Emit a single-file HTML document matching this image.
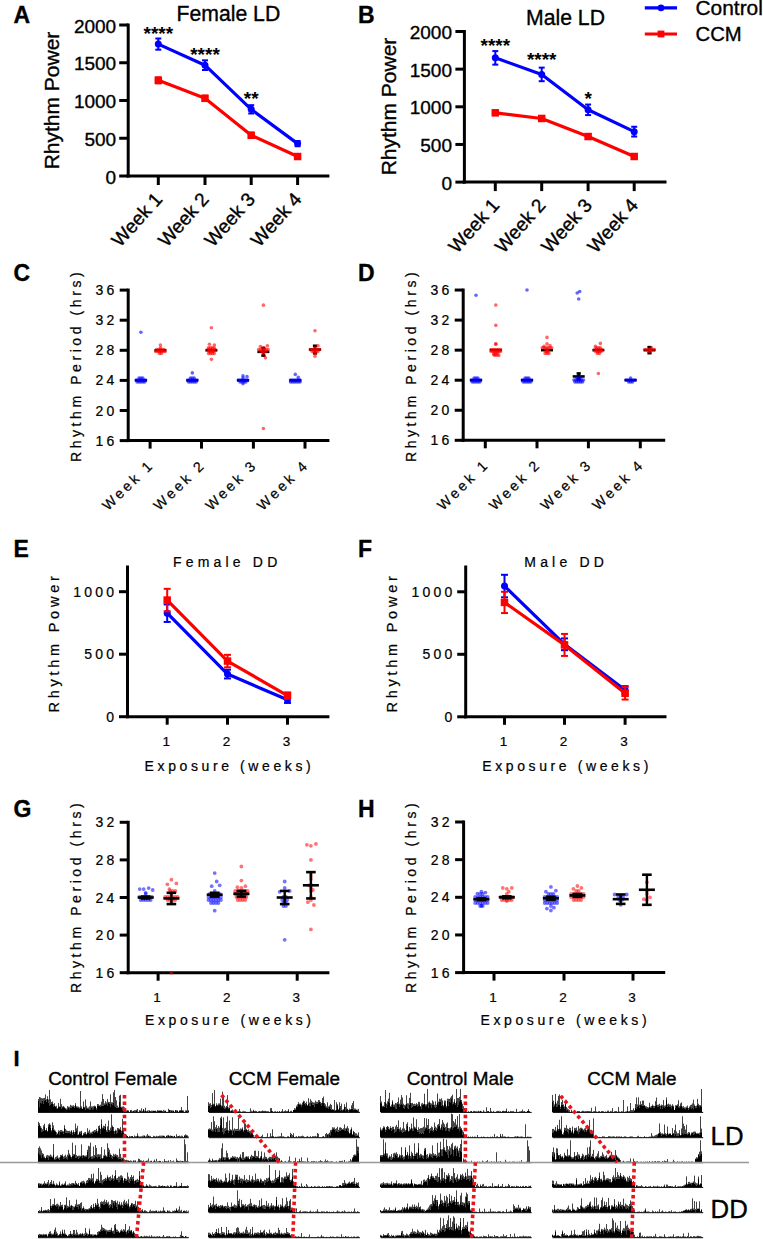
<!DOCTYPE html>
<html><head><meta charset="utf-8"><style>
html,body{margin:0;padding:0;background:#fff;}
body{width:763px;height:1239px;overflow:hidden;}
svg{display:block;font-family:"Liberation Sans", sans-serif;}
text{stroke:#000;stroke-width:0.35px;}
</style></head><body>
<svg width="763" height="1239" viewBox="0 0 763 1239">
<text x="13.50" y="22.50" font-size="23" text-anchor="start" font-weight="bold" fill="#000">A</text>
<text x="228.40" y="21.40" font-size="21.2" text-anchor="middle" font-weight="normal" fill="#000">Female LD</text>
<line x1="128.20" y1="23.50" x2="128.20" y2="177.50" stroke="#000" stroke-width="3" stroke-linecap="butt" />
<line x1="126.70" y1="176.00" x2="329.40" y2="176.00" stroke="#000" stroke-width="3" stroke-linecap="butt" />
<line x1="119.20" y1="176.00" x2="128.20" y2="176.00" stroke="#000" stroke-width="3" stroke-linecap="butt" />
<text x="116.20" y="183.60" font-size="19" text-anchor="end" font-weight="normal" fill="#000">0</text>
<line x1="119.20" y1="138.25" x2="128.20" y2="138.25" stroke="#000" stroke-width="3" stroke-linecap="butt" />
<text x="116.20" y="145.85" font-size="19" text-anchor="end" font-weight="normal" fill="#000">500</text>
<line x1="119.20" y1="100.50" x2="128.20" y2="100.50" stroke="#000" stroke-width="3" stroke-linecap="butt" />
<text x="116.20" y="108.10" font-size="19" text-anchor="end" font-weight="normal" fill="#000">1000</text>
<line x1="119.20" y1="62.75" x2="128.20" y2="62.75" stroke="#000" stroke-width="3" stroke-linecap="butt" />
<text x="116.20" y="70.35" font-size="19" text-anchor="end" font-weight="normal" fill="#000">1500</text>
<line x1="119.20" y1="25.00" x2="128.20" y2="25.00" stroke="#000" stroke-width="3" stroke-linecap="butt" />
<text x="116.20" y="32.60" font-size="19" text-anchor="end" font-weight="normal" fill="#000">2000</text>
<line x1="158.30" y1="176.00" x2="158.30" y2="185.00" stroke="#000" stroke-width="3" stroke-linecap="butt" />
<line x1="205.00" y1="176.00" x2="205.00" y2="185.00" stroke="#000" stroke-width="3" stroke-linecap="butt" />
<line x1="251.20" y1="176.00" x2="251.20" y2="185.00" stroke="#000" stroke-width="3" stroke-linecap="butt" />
<line x1="297.60" y1="176.00" x2="297.60" y2="185.00" stroke="#000" stroke-width="3" stroke-linecap="butt" />
<text x="0.00" y="0.00" font-size="19.2" text-anchor="end" font-weight="normal" fill="#000" transform="translate(163.30,200.00) rotate(-48)">Week 1</text>
<text x="0.00" y="0.00" font-size="19.2" text-anchor="end" font-weight="normal" fill="#000" transform="translate(210.00,200.00) rotate(-48)">Week 2</text>
<text x="0.00" y="0.00" font-size="19.2" text-anchor="end" font-weight="normal" fill="#000" transform="translate(256.20,200.00) rotate(-48)">Week 3</text>
<text x="0.00" y="0.00" font-size="19.2" text-anchor="end" font-weight="normal" fill="#000" transform="translate(302.60,200.00) rotate(-48)">Week 4</text>
<text x="0.00" y="0.00" font-size="21" text-anchor="middle" font-weight="normal" fill="#000" transform="translate(59.10,100.50) rotate(-90)">Rhythm Power</text>
<polyline points="158.30,80.34 205.00,98.31 251.20,135.31 297.60,156.52" fill="none" stroke="#ff0000" stroke-width="3.2" stroke-linejoin="round"/>
<line x1="158.30" y1="77.32" x2="158.30" y2="83.36" stroke="#ff0000" stroke-width="2.0" stroke-linecap="butt" />
<line x1="155.30" y1="77.32" x2="161.30" y2="77.32" stroke="#ff0000" stroke-width="2.0" stroke-linecap="butt" />
<line x1="155.30" y1="83.36" x2="161.30" y2="83.36" stroke="#ff0000" stroke-width="2.0" stroke-linecap="butt" />
<rect x="154.55" y="76.59" width="7.5" height="7.5" fill="#ff0000"/>
<line x1="205.00" y1="95.67" x2="205.00" y2="100.95" stroke="#ff0000" stroke-width="2.0" stroke-linecap="butt" />
<line x1="202.00" y1="95.67" x2="208.00" y2="95.67" stroke="#ff0000" stroke-width="2.0" stroke-linecap="butt" />
<line x1="202.00" y1="100.95" x2="208.00" y2="100.95" stroke="#ff0000" stroke-width="2.0" stroke-linecap="butt" />
<rect x="201.25" y="94.56" width="7.5" height="7.5" fill="#ff0000"/>
<line x1="251.20" y1="132.66" x2="251.20" y2="137.95" stroke="#ff0000" stroke-width="2.0" stroke-linecap="butt" />
<line x1="248.20" y1="132.66" x2="254.20" y2="132.66" stroke="#ff0000" stroke-width="2.0" stroke-linecap="butt" />
<line x1="248.20" y1="137.95" x2="254.20" y2="137.95" stroke="#ff0000" stroke-width="2.0" stroke-linecap="butt" />
<rect x="247.45" y="131.56" width="7.5" height="7.5" fill="#ff0000"/>
<line x1="297.60" y1="154.26" x2="297.60" y2="158.79" stroke="#ff0000" stroke-width="2.0" stroke-linecap="butt" />
<line x1="294.60" y1="154.26" x2="300.60" y2="154.26" stroke="#ff0000" stroke-width="2.0" stroke-linecap="butt" />
<line x1="294.60" y1="158.79" x2="300.60" y2="158.79" stroke="#ff0000" stroke-width="2.0" stroke-linecap="butt" />
<rect x="293.85" y="152.77" width="7.5" height="7.5" fill="#ff0000"/>
<polyline points="158.30,44.10 205.00,65.17 251.20,109.33 297.60,143.61" fill="none" stroke="#0000ff" stroke-width="3.2" stroke-linejoin="round"/>
<line x1="158.30" y1="38.51" x2="158.30" y2="49.69" stroke="#0000ff" stroke-width="2.0" stroke-linecap="butt" />
<line x1="155.30" y1="38.51" x2="161.30" y2="38.51" stroke="#0000ff" stroke-width="2.0" stroke-linecap="butt" />
<line x1="155.30" y1="49.69" x2="161.30" y2="49.69" stroke="#0000ff" stroke-width="2.0" stroke-linecap="butt" />
<circle cx="158.30" cy="44.10" r="3.5" fill="#0000ff"/>
<line x1="205.00" y1="60.33" x2="205.00" y2="70.00" stroke="#0000ff" stroke-width="2.0" stroke-linecap="butt" />
<line x1="202.00" y1="60.33" x2="208.00" y2="60.33" stroke="#0000ff" stroke-width="2.0" stroke-linecap="butt" />
<line x1="202.00" y1="70.00" x2="208.00" y2="70.00" stroke="#0000ff" stroke-width="2.0" stroke-linecap="butt" />
<circle cx="205.00" cy="65.17" r="3.5" fill="#0000ff"/>
<line x1="251.20" y1="105.18" x2="251.20" y2="113.49" stroke="#0000ff" stroke-width="2.0" stroke-linecap="butt" />
<line x1="248.20" y1="105.18" x2="254.20" y2="105.18" stroke="#0000ff" stroke-width="2.0" stroke-linecap="butt" />
<line x1="248.20" y1="113.49" x2="254.20" y2="113.49" stroke="#0000ff" stroke-width="2.0" stroke-linecap="butt" />
<circle cx="251.20" cy="109.33" r="3.5" fill="#0000ff"/>
<line x1="297.60" y1="140.97" x2="297.60" y2="146.25" stroke="#0000ff" stroke-width="2.0" stroke-linecap="butt" />
<line x1="294.60" y1="140.97" x2="300.60" y2="140.97" stroke="#0000ff" stroke-width="2.0" stroke-linecap="butt" />
<line x1="294.60" y1="146.25" x2="300.60" y2="146.25" stroke="#0000ff" stroke-width="2.0" stroke-linecap="butt" />
<circle cx="297.60" cy="143.61" r="3.5" fill="#0000ff"/>
<text x="158.30" y="39.50" font-size="19" text-anchor="middle" font-weight="bold" fill="#000" style="stroke-width:0px">****</text>
<text x="205.00" y="61.00" font-size="19" text-anchor="middle" font-weight="bold" fill="#000" style="stroke-width:0px">****</text>
<text x="251.20" y="104.50" font-size="19" text-anchor="middle" font-weight="bold" fill="#000" style="stroke-width:0px">**</text>
<text x="358.00" y="22.50" font-size="23" text-anchor="start" font-weight="bold" fill="#000">B</text>
<text x="565.50" y="25.20" font-size="21.2" text-anchor="middle" font-weight="normal" fill="#000">Male LD</text>
<line x1="464.40" y1="30.00" x2="464.40" y2="183.60" stroke="#000" stroke-width="3" stroke-linecap="butt" />
<line x1="462.90" y1="182.10" x2="666.50" y2="182.10" stroke="#000" stroke-width="3" stroke-linecap="butt" />
<line x1="455.40" y1="182.10" x2="464.40" y2="182.10" stroke="#000" stroke-width="3" stroke-linecap="butt" />
<text x="452.00" y="189.70" font-size="19" text-anchor="end" font-weight="normal" fill="#000">0</text>
<line x1="455.40" y1="144.45" x2="464.40" y2="144.45" stroke="#000" stroke-width="3" stroke-linecap="butt" />
<text x="452.00" y="152.05" font-size="19" text-anchor="end" font-weight="normal" fill="#000">500</text>
<line x1="455.40" y1="106.80" x2="464.40" y2="106.80" stroke="#000" stroke-width="3" stroke-linecap="butt" />
<text x="452.00" y="114.40" font-size="19" text-anchor="end" font-weight="normal" fill="#000">1000</text>
<line x1="455.40" y1="69.15" x2="464.40" y2="69.15" stroke="#000" stroke-width="3" stroke-linecap="butt" />
<text x="452.00" y="76.75" font-size="19" text-anchor="end" font-weight="normal" fill="#000">1500</text>
<line x1="455.40" y1="31.50" x2="464.40" y2="31.50" stroke="#000" stroke-width="3" stroke-linecap="butt" />
<text x="452.00" y="39.10" font-size="19" text-anchor="end" font-weight="normal" fill="#000">2000</text>
<line x1="495.30" y1="182.10" x2="495.30" y2="191.10" stroke="#000" stroke-width="3" stroke-linecap="butt" />
<line x1="541.70" y1="182.10" x2="541.70" y2="191.10" stroke="#000" stroke-width="3" stroke-linecap="butt" />
<line x1="588.10" y1="182.10" x2="588.10" y2="191.10" stroke="#000" stroke-width="3" stroke-linecap="butt" />
<line x1="634.20" y1="182.10" x2="634.20" y2="191.10" stroke="#000" stroke-width="3" stroke-linecap="butt" />
<text x="0.00" y="0.00" font-size="19.2" text-anchor="end" font-weight="normal" fill="#000" transform="translate(500.30,206.10) rotate(-48)">Week 1</text>
<text x="0.00" y="0.00" font-size="19.2" text-anchor="end" font-weight="normal" fill="#000" transform="translate(546.70,206.10) rotate(-48)">Week 2</text>
<text x="0.00" y="0.00" font-size="19.2" text-anchor="end" font-weight="normal" fill="#000" transform="translate(593.10,206.10) rotate(-48)">Week 3</text>
<text x="0.00" y="0.00" font-size="19.2" text-anchor="end" font-weight="normal" fill="#000" transform="translate(639.20,206.10) rotate(-48)">Week 4</text>
<text x="0.00" y="0.00" font-size="21" text-anchor="middle" font-weight="normal" fill="#000" transform="translate(396.00,106.50) rotate(-90)">Rhythm Power</text>
<polyline points="495.30,112.82 541.70,118.47 588.10,136.54 634.20,156.50" fill="none" stroke="#ff0000" stroke-width="3.2" stroke-linejoin="round"/>
<line x1="495.30" y1="110.56" x2="495.30" y2="115.08" stroke="#ff0000" stroke-width="2.0" stroke-linecap="butt" />
<line x1="492.30" y1="110.56" x2="498.30" y2="110.56" stroke="#ff0000" stroke-width="2.0" stroke-linecap="butt" />
<line x1="492.30" y1="115.08" x2="498.30" y2="115.08" stroke="#ff0000" stroke-width="2.0" stroke-linecap="butt" />
<rect x="491.55" y="109.07" width="7.5" height="7.5" fill="#ff0000"/>
<line x1="541.70" y1="116.21" x2="541.70" y2="120.73" stroke="#ff0000" stroke-width="2.0" stroke-linecap="butt" />
<line x1="538.70" y1="116.21" x2="544.70" y2="116.21" stroke="#ff0000" stroke-width="2.0" stroke-linecap="butt" />
<line x1="538.70" y1="120.73" x2="544.70" y2="120.73" stroke="#ff0000" stroke-width="2.0" stroke-linecap="butt" />
<rect x="537.95" y="114.72" width="7.5" height="7.5" fill="#ff0000"/>
<line x1="588.10" y1="134.28" x2="588.10" y2="138.80" stroke="#ff0000" stroke-width="2.0" stroke-linecap="butt" />
<line x1="585.10" y1="134.28" x2="591.10" y2="134.28" stroke="#ff0000" stroke-width="2.0" stroke-linecap="butt" />
<line x1="585.10" y1="138.80" x2="591.10" y2="138.80" stroke="#ff0000" stroke-width="2.0" stroke-linecap="butt" />
<rect x="584.35" y="132.79" width="7.5" height="7.5" fill="#ff0000"/>
<line x1="634.20" y1="154.24" x2="634.20" y2="158.76" stroke="#ff0000" stroke-width="2.0" stroke-linecap="butt" />
<line x1="631.20" y1="154.24" x2="637.20" y2="154.24" stroke="#ff0000" stroke-width="2.0" stroke-linecap="butt" />
<line x1="631.20" y1="158.76" x2="637.20" y2="158.76" stroke="#ff0000" stroke-width="2.0" stroke-linecap="butt" />
<rect x="630.45" y="152.75" width="7.5" height="7.5" fill="#ff0000"/>
<polyline points="495.30,57.86 541.70,74.42 588.10,109.81 634.20,131.65" fill="none" stroke="#0000ff" stroke-width="3.2" stroke-linejoin="round"/>
<line x1="495.30" y1="51.08" x2="495.30" y2="64.63" stroke="#0000ff" stroke-width="2.0" stroke-linecap="butt" />
<line x1="492.30" y1="51.08" x2="498.30" y2="51.08" stroke="#0000ff" stroke-width="2.0" stroke-linecap="butt" />
<line x1="492.30" y1="64.63" x2="498.30" y2="64.63" stroke="#0000ff" stroke-width="2.0" stroke-linecap="butt" />
<circle cx="495.30" cy="57.86" r="3.5" fill="#0000ff"/>
<line x1="541.70" y1="67.64" x2="541.70" y2="81.20" stroke="#0000ff" stroke-width="2.0" stroke-linecap="butt" />
<line x1="538.70" y1="67.64" x2="544.70" y2="67.64" stroke="#0000ff" stroke-width="2.0" stroke-linecap="butt" />
<line x1="538.70" y1="81.20" x2="544.70" y2="81.20" stroke="#0000ff" stroke-width="2.0" stroke-linecap="butt" />
<circle cx="541.70" cy="74.42" r="3.5" fill="#0000ff"/>
<line x1="588.10" y1="104.54" x2="588.10" y2="115.08" stroke="#0000ff" stroke-width="2.0" stroke-linecap="butt" />
<line x1="585.10" y1="104.54" x2="591.10" y2="104.54" stroke="#0000ff" stroke-width="2.0" stroke-linecap="butt" />
<line x1="585.10" y1="115.08" x2="591.10" y2="115.08" stroke="#0000ff" stroke-width="2.0" stroke-linecap="butt" />
<circle cx="588.10" cy="109.81" r="3.5" fill="#0000ff"/>
<line x1="634.20" y1="126.75" x2="634.20" y2="136.54" stroke="#0000ff" stroke-width="2.0" stroke-linecap="butt" />
<line x1="631.20" y1="126.75" x2="637.20" y2="126.75" stroke="#0000ff" stroke-width="2.0" stroke-linecap="butt" />
<line x1="631.20" y1="136.54" x2="637.20" y2="136.54" stroke="#0000ff" stroke-width="2.0" stroke-linecap="butt" />
<circle cx="634.20" cy="131.65" r="3.5" fill="#0000ff"/>
<text x="495.30" y="52.00" font-size="19" text-anchor="middle" font-weight="bold" fill="#000" style="stroke-width:0px">****</text>
<text x="541.70" y="66.00" font-size="19" text-anchor="middle" font-weight="bold" fill="#000" style="stroke-width:0px">****</text>
<text x="588.10" y="105.00" font-size="19" text-anchor="middle" font-weight="bold" fill="#000" style="stroke-width:0px">*</text>
<line x1="644.80" y1="7.90" x2="677.00" y2="7.90" stroke="#0000ff" stroke-width="3.2" stroke-linecap="butt" />
<circle cx="661" cy="7.9" r="3.3" fill="#0000ff"/>
<text x="695.50" y="15.20" font-size="20.9" text-anchor="start" font-weight="normal" fill="#000">Control</text>
<line x1="644.80" y1="34.00" x2="677.00" y2="34.00" stroke="#ff0000" stroke-width="3.2" stroke-linecap="butt" />
<rect x="657.6" y="30.6" width="6.8" height="6.8" fill="#ff0000"/>
<text x="695.50" y="41.30" font-size="20.3" text-anchor="start" font-weight="normal" fill="#000">CCM</text>
<text x="13.50" y="281.00" font-size="23" text-anchor="start" font-weight="bold" fill="#000">C</text>
<line x1="128.20" y1="288.60" x2="128.20" y2="442.10" stroke="#000" stroke-width="3" stroke-linecap="butt" />
<line x1="126.70" y1="440.60" x2="329.40" y2="440.60" stroke="#000" stroke-width="3" stroke-linecap="butt" />
<line x1="119.70" y1="440.60" x2="128.20" y2="440.60" stroke="#000" stroke-width="3" stroke-linecap="butt" />
<text x="117.40" y="445.60" font-size="14" text-anchor="end" font-weight="normal" letter-spacing="3.2" fill="#000" style="stroke-width:0.22px">16</text>
<line x1="119.70" y1="410.50" x2="128.20" y2="410.50" stroke="#000" stroke-width="3" stroke-linecap="butt" />
<text x="117.40" y="415.50" font-size="14" text-anchor="end" font-weight="normal" letter-spacing="3.2" fill="#000" style="stroke-width:0.22px">20</text>
<line x1="119.70" y1="380.40" x2="128.20" y2="380.40" stroke="#000" stroke-width="3" stroke-linecap="butt" />
<text x="117.40" y="385.40" font-size="14" text-anchor="end" font-weight="normal" letter-spacing="3.2" fill="#000" style="stroke-width:0.22px">24</text>
<line x1="119.70" y1="350.30" x2="128.20" y2="350.30" stroke="#000" stroke-width="3" stroke-linecap="butt" />
<text x="117.40" y="355.30" font-size="14" text-anchor="end" font-weight="normal" letter-spacing="3.2" fill="#000" style="stroke-width:0.22px">28</text>
<line x1="119.70" y1="320.20" x2="128.20" y2="320.20" stroke="#000" stroke-width="3" stroke-linecap="butt" />
<text x="117.40" y="325.20" font-size="14" text-anchor="end" font-weight="normal" letter-spacing="3.2" fill="#000" style="stroke-width:0.22px">32</text>
<line x1="119.70" y1="290.10" x2="128.20" y2="290.10" stroke="#000" stroke-width="3" stroke-linecap="butt" />
<text x="117.40" y="295.10" font-size="14" text-anchor="end" font-weight="normal" letter-spacing="3.2" fill="#000" style="stroke-width:0.22px">36</text>
<line x1="150.10" y1="440.60" x2="150.10" y2="448.60" stroke="#000" stroke-width="3" stroke-linecap="butt" />
<line x1="201.50" y1="440.60" x2="201.50" y2="448.60" stroke="#000" stroke-width="3" stroke-linecap="butt" />
<line x1="253.40" y1="440.60" x2="253.40" y2="448.60" stroke="#000" stroke-width="3" stroke-linecap="butt" />
<line x1="305.00" y1="440.60" x2="305.00" y2="448.60" stroke="#000" stroke-width="3" stroke-linecap="butt" />
<text x="0.00" y="0.00" font-size="14" text-anchor="middle" font-weight="normal" letter-spacing="3.58" fill="#000" transform="translate(80.50,365.40) rotate(-90)" style="stroke-width:0.22px">Rhythm Period (hrs)</text>
<text x="0.00" y="0.00" font-size="14.3" text-anchor="end" font-weight="normal" letter-spacing="2.9" fill="#000" transform="translate(155.10,465.60) rotate(-44)" style="stroke-width:0.22px">Week 1</text>
<text x="0.00" y="0.00" font-size="14.3" text-anchor="end" font-weight="normal" letter-spacing="2.9" fill="#000" transform="translate(206.50,465.60) rotate(-44)" style="stroke-width:0.22px">Week 2</text>
<text x="0.00" y="0.00" font-size="14.3" text-anchor="end" font-weight="normal" letter-spacing="2.9" fill="#000" transform="translate(258.40,465.60) rotate(-44)" style="stroke-width:0.22px">Week 3</text>
<text x="0.00" y="0.00" font-size="14.3" text-anchor="end" font-weight="normal" letter-spacing="2.9" fill="#000" transform="translate(310.00,465.60) rotate(-44)" style="stroke-width:0.22px">Week 4</text>
<line x1="134.90" y1="380.40" x2="146.90" y2="380.40" stroke="#000" stroke-width="2.6" stroke-linecap="butt" />
<circle cx="137.10" cy="381.90" r="1.8" fill="#0000ff" fill-opacity="0.6"/>
<circle cx="139.00" cy="381.90" r="1.8" fill="#0000ff" fill-opacity="0.6"/>
<circle cx="140.90" cy="381.90" r="1.8" fill="#0000ff" fill-opacity="0.6"/>
<circle cx="142.80" cy="381.90" r="1.8" fill="#0000ff" fill-opacity="0.6"/>
<circle cx="144.70" cy="381.90" r="1.8" fill="#0000ff" fill-opacity="0.6"/>
<circle cx="136.15" cy="380.00" r="1.8" fill="#0000ff" fill-opacity="0.6"/>
<circle cx="138.05" cy="380.00" r="1.8" fill="#0000ff" fill-opacity="0.6"/>
<circle cx="139.95" cy="380.00" r="1.8" fill="#0000ff" fill-opacity="0.6"/>
<circle cx="141.85" cy="380.00" r="1.8" fill="#0000ff" fill-opacity="0.6"/>
<circle cx="143.75" cy="380.00" r="1.8" fill="#0000ff" fill-opacity="0.6"/>
<circle cx="145.65" cy="380.00" r="1.8" fill="#0000ff" fill-opacity="0.6"/>
<circle cx="139.00" cy="378.10" r="1.8" fill="#0000ff" fill-opacity="0.6"/>
<circle cx="140.90" cy="378.10" r="1.8" fill="#0000ff" fill-opacity="0.6"/>
<circle cx="142.80" cy="378.10" r="1.8" fill="#0000ff" fill-opacity="0.6"/>
<circle cx="140.90" cy="332.24" r="1.8" fill="#0000ff" fill-opacity="0.6"/>
<line x1="154.40" y1="350.30" x2="166.40" y2="350.30" stroke="#000" stroke-width="2.6" stroke-linecap="butt" />
<circle cx="155.65" cy="351.50" r="1.8" fill="#ff0000" fill-opacity="0.6"/>
<circle cx="157.55" cy="351.50" r="1.8" fill="#ff0000" fill-opacity="0.6"/>
<circle cx="159.45" cy="351.50" r="1.8" fill="#ff0000" fill-opacity="0.6"/>
<circle cx="161.35" cy="351.50" r="1.8" fill="#ff0000" fill-opacity="0.6"/>
<circle cx="163.25" cy="351.50" r="1.8" fill="#ff0000" fill-opacity="0.6"/>
<circle cx="165.15" cy="351.50" r="1.8" fill="#ff0000" fill-opacity="0.6"/>
<circle cx="156.60" cy="349.60" r="1.8" fill="#ff0000" fill-opacity="0.6"/>
<circle cx="158.50" cy="349.60" r="1.8" fill="#ff0000" fill-opacity="0.6"/>
<circle cx="160.40" cy="349.60" r="1.8" fill="#ff0000" fill-opacity="0.6"/>
<circle cx="162.30" cy="349.60" r="1.8" fill="#ff0000" fill-opacity="0.6"/>
<circle cx="164.20" cy="349.60" r="1.8" fill="#ff0000" fill-opacity="0.6"/>
<circle cx="160.40" cy="347.70" r="1.8" fill="#ff0000" fill-opacity="0.6"/>
<circle cx="159.45" cy="353.40" r="1.8" fill="#ff0000" fill-opacity="0.6"/>
<circle cx="161.35" cy="353.40" r="1.8" fill="#ff0000" fill-opacity="0.6"/>
<circle cx="160.40" cy="345.03" r="1.8" fill="#ff0000" fill-opacity="0.6"/>
<line x1="186.30" y1="380.40" x2="198.30" y2="380.40" stroke="#000" stroke-width="2.6" stroke-linecap="butt" />
<circle cx="187.55" cy="380.00" r="1.8" fill="#0000ff" fill-opacity="0.6"/>
<circle cx="189.45" cy="380.00" r="1.8" fill="#0000ff" fill-opacity="0.6"/>
<circle cx="191.35" cy="380.00" r="1.8" fill="#0000ff" fill-opacity="0.6"/>
<circle cx="193.25" cy="380.00" r="1.8" fill="#0000ff" fill-opacity="0.6"/>
<circle cx="195.15" cy="380.00" r="1.8" fill="#0000ff" fill-opacity="0.6"/>
<circle cx="197.05" cy="380.00" r="1.8" fill="#0000ff" fill-opacity="0.6"/>
<circle cx="190.40" cy="378.10" r="1.8" fill="#0000ff" fill-opacity="0.6"/>
<circle cx="192.30" cy="378.10" r="1.8" fill="#0000ff" fill-opacity="0.6"/>
<circle cx="194.20" cy="378.10" r="1.8" fill="#0000ff" fill-opacity="0.6"/>
<circle cx="188.50" cy="381.90" r="1.8" fill="#0000ff" fill-opacity="0.6"/>
<circle cx="190.40" cy="381.90" r="1.8" fill="#0000ff" fill-opacity="0.6"/>
<circle cx="192.30" cy="381.90" r="1.8" fill="#0000ff" fill-opacity="0.6"/>
<circle cx="194.20" cy="381.90" r="1.8" fill="#0000ff" fill-opacity="0.6"/>
<circle cx="196.10" cy="381.90" r="1.8" fill="#0000ff" fill-opacity="0.6"/>
<circle cx="192.30" cy="372.88" r="1.8" fill="#0000ff" fill-opacity="0.6"/>
<line x1="205.40" y1="350.30" x2="217.40" y2="350.30" stroke="#000" stroke-width="2.6" stroke-linecap="butt" />
<circle cx="208.55" cy="347.70" r="1.8" fill="#ff0000" fill-opacity="0.6"/>
<circle cx="210.45" cy="347.70" r="1.8" fill="#ff0000" fill-opacity="0.6"/>
<circle cx="212.35" cy="347.70" r="1.8" fill="#ff0000" fill-opacity="0.6"/>
<circle cx="214.25" cy="347.70" r="1.8" fill="#ff0000" fill-opacity="0.6"/>
<circle cx="208.55" cy="353.40" r="1.8" fill="#ff0000" fill-opacity="0.6"/>
<circle cx="210.45" cy="353.40" r="1.8" fill="#ff0000" fill-opacity="0.6"/>
<circle cx="212.35" cy="353.40" r="1.8" fill="#ff0000" fill-opacity="0.6"/>
<circle cx="214.25" cy="353.40" r="1.8" fill="#ff0000" fill-opacity="0.6"/>
<circle cx="207.60" cy="349.60" r="1.8" fill="#ff0000" fill-opacity="0.6"/>
<circle cx="209.50" cy="349.60" r="1.8" fill="#ff0000" fill-opacity="0.6"/>
<circle cx="211.40" cy="349.60" r="1.8" fill="#ff0000" fill-opacity="0.6"/>
<circle cx="213.30" cy="349.60" r="1.8" fill="#ff0000" fill-opacity="0.6"/>
<circle cx="215.20" cy="349.60" r="1.8" fill="#ff0000" fill-opacity="0.6"/>
<circle cx="209.50" cy="351.50" r="1.8" fill="#ff0000" fill-opacity="0.6"/>
<circle cx="211.40" cy="351.50" r="1.8" fill="#ff0000" fill-opacity="0.6"/>
<circle cx="213.30" cy="351.50" r="1.8" fill="#ff0000" fill-opacity="0.6"/>
<circle cx="211.40" cy="327.73" r="1.8" fill="#ff0000" fill-opacity="0.6"/>
<circle cx="211.40" cy="359.33" r="1.8" fill="#ff0000" fill-opacity="0.6"/>
<circle cx="209.40" cy="344.28" r="1.8" fill="#ff0000" fill-opacity="0.6"/>
<circle cx="214.40" cy="345.03" r="1.8" fill="#ff0000" fill-opacity="0.6"/>
<line x1="237.00" y1="380.40" x2="249.00" y2="380.40" stroke="#000" stroke-width="2.6" stroke-linecap="butt" />
<circle cx="238.25" cy="380.00" r="1.8" fill="#0000ff" fill-opacity="0.6"/>
<circle cx="240.15" cy="380.00" r="1.8" fill="#0000ff" fill-opacity="0.6"/>
<circle cx="242.05" cy="380.00" r="1.8" fill="#0000ff" fill-opacity="0.6"/>
<circle cx="243.95" cy="380.00" r="1.8" fill="#0000ff" fill-opacity="0.6"/>
<circle cx="245.85" cy="380.00" r="1.8" fill="#0000ff" fill-opacity="0.6"/>
<circle cx="247.75" cy="380.00" r="1.8" fill="#0000ff" fill-opacity="0.6"/>
<circle cx="240.15" cy="381.90" r="1.8" fill="#0000ff" fill-opacity="0.6"/>
<circle cx="242.05" cy="381.90" r="1.8" fill="#0000ff" fill-opacity="0.6"/>
<circle cx="243.95" cy="381.90" r="1.8" fill="#0000ff" fill-opacity="0.6"/>
<circle cx="245.85" cy="381.90" r="1.8" fill="#0000ff" fill-opacity="0.6"/>
<circle cx="243.00" cy="378.10" r="1.8" fill="#0000ff" fill-opacity="0.6"/>
<circle cx="243.00" cy="383.80" r="1.8" fill="#0000ff" fill-opacity="0.6"/>
<circle cx="243.00" cy="375.88" r="1.8" fill="#0000ff" fill-opacity="0.6"/>
<circle cx="247.00" cy="376.64" r="1.8" fill="#0000ff" fill-opacity="0.6"/>
<line x1="263.40" y1="348.04" x2="263.40" y2="355.57" stroke="#000" stroke-width="2.4" stroke-linecap="butt" />
<line x1="261.30" y1="348.04" x2="265.50" y2="348.04" stroke="#000" stroke-width="2.6" stroke-linecap="butt" />
<line x1="261.30" y1="355.57" x2="265.50" y2="355.57" stroke="#000" stroke-width="2.6" stroke-linecap="butt" />
<line x1="257.40" y1="351.81" x2="269.40" y2="351.81" stroke="#000" stroke-width="2.6" stroke-linecap="butt" />
<circle cx="260.55" cy="351.50" r="1.8" fill="#ff0000" fill-opacity="0.6"/>
<circle cx="262.45" cy="351.50" r="1.8" fill="#ff0000" fill-opacity="0.6"/>
<circle cx="264.35" cy="351.50" r="1.8" fill="#ff0000" fill-opacity="0.6"/>
<circle cx="266.25" cy="351.50" r="1.8" fill="#ff0000" fill-opacity="0.6"/>
<circle cx="258.65" cy="349.60" r="1.8" fill="#ff0000" fill-opacity="0.6"/>
<circle cx="260.55" cy="349.60" r="1.8" fill="#ff0000" fill-opacity="0.6"/>
<circle cx="262.45" cy="349.60" r="1.8" fill="#ff0000" fill-opacity="0.6"/>
<circle cx="264.35" cy="349.60" r="1.8" fill="#ff0000" fill-opacity="0.6"/>
<circle cx="266.25" cy="349.60" r="1.8" fill="#ff0000" fill-opacity="0.6"/>
<circle cx="268.15" cy="349.60" r="1.8" fill="#ff0000" fill-opacity="0.6"/>
<circle cx="263.40" cy="353.40" r="1.8" fill="#ff0000" fill-opacity="0.6"/>
<circle cx="263.40" cy="347.70" r="1.8" fill="#ff0000" fill-opacity="0.6"/>
<circle cx="263.40" cy="305.15" r="1.8" fill="#ff0000" fill-opacity="0.6"/>
<circle cx="265.40" cy="357.83" r="1.8" fill="#ff0000" fill-opacity="0.6"/>
<circle cx="263.40" cy="428.56" r="1.8" fill="#ff0000" fill-opacity="0.6"/>
<circle cx="267.40" cy="345.79" r="1.8" fill="#ff0000" fill-opacity="0.6"/>
<circle cx="260.40" cy="346.54" r="1.8" fill="#ff0000" fill-opacity="0.6"/>
<line x1="289.30" y1="380.40" x2="301.30" y2="380.40" stroke="#000" stroke-width="2.6" stroke-linecap="butt" />
<circle cx="290.55" cy="381.90" r="1.8" fill="#0000ff" fill-opacity="0.6"/>
<circle cx="292.45" cy="381.90" r="1.8" fill="#0000ff" fill-opacity="0.6"/>
<circle cx="294.35" cy="381.90" r="1.8" fill="#0000ff" fill-opacity="0.6"/>
<circle cx="296.25" cy="381.90" r="1.8" fill="#0000ff" fill-opacity="0.6"/>
<circle cx="298.15" cy="381.90" r="1.8" fill="#0000ff" fill-opacity="0.6"/>
<circle cx="300.05" cy="381.90" r="1.8" fill="#0000ff" fill-opacity="0.6"/>
<circle cx="290.55" cy="380.00" r="1.8" fill="#0000ff" fill-opacity="0.6"/>
<circle cx="292.45" cy="380.00" r="1.8" fill="#0000ff" fill-opacity="0.6"/>
<circle cx="294.35" cy="380.00" r="1.8" fill="#0000ff" fill-opacity="0.6"/>
<circle cx="296.25" cy="380.00" r="1.8" fill="#0000ff" fill-opacity="0.6"/>
<circle cx="298.15" cy="380.00" r="1.8" fill="#0000ff" fill-opacity="0.6"/>
<circle cx="300.05" cy="380.00" r="1.8" fill="#0000ff" fill-opacity="0.6"/>
<circle cx="295.30" cy="374.38" r="1.8" fill="#0000ff" fill-opacity="0.6"/>
<circle cx="298.30" cy="377.39" r="1.8" fill="#0000ff" fill-opacity="0.6"/>
<line x1="315.00" y1="345.79" x2="315.00" y2="353.31" stroke="#000" stroke-width="2.4" stroke-linecap="butt" />
<line x1="312.90" y1="345.79" x2="317.10" y2="345.79" stroke="#000" stroke-width="2.6" stroke-linecap="butt" />
<line x1="312.90" y1="353.31" x2="317.10" y2="353.31" stroke="#000" stroke-width="2.6" stroke-linecap="butt" />
<line x1="309.00" y1="349.55" x2="321.00" y2="349.55" stroke="#000" stroke-width="2.6" stroke-linecap="butt" />
<circle cx="310.25" cy="349.60" r="1.8" fill="#ff0000" fill-opacity="0.6"/>
<circle cx="312.15" cy="349.60" r="1.8" fill="#ff0000" fill-opacity="0.6"/>
<circle cx="314.05" cy="349.60" r="1.8" fill="#ff0000" fill-opacity="0.6"/>
<circle cx="315.95" cy="349.60" r="1.8" fill="#ff0000" fill-opacity="0.6"/>
<circle cx="317.85" cy="349.60" r="1.8" fill="#ff0000" fill-opacity="0.6"/>
<circle cx="319.75" cy="349.60" r="1.8" fill="#ff0000" fill-opacity="0.6"/>
<circle cx="315.00" cy="347.70" r="1.8" fill="#ff0000" fill-opacity="0.6"/>
<circle cx="312.15" cy="351.50" r="1.8" fill="#ff0000" fill-opacity="0.6"/>
<circle cx="314.05" cy="351.50" r="1.8" fill="#ff0000" fill-opacity="0.6"/>
<circle cx="315.95" cy="351.50" r="1.8" fill="#ff0000" fill-opacity="0.6"/>
<circle cx="317.85" cy="351.50" r="1.8" fill="#ff0000" fill-opacity="0.6"/>
<circle cx="315.00" cy="353.40" r="1.8" fill="#ff0000" fill-opacity="0.6"/>
<circle cx="315.00" cy="330.74" r="1.8" fill="#ff0000" fill-opacity="0.6"/>
<circle cx="315.00" cy="356.32" r="1.8" fill="#ff0000" fill-opacity="0.6"/>
<circle cx="318.00" cy="345.79" r="1.8" fill="#ff0000" fill-opacity="0.6"/>
<text x="358.00" y="281.00" font-size="23" text-anchor="start" font-weight="bold" fill="#000">D</text>
<line x1="463.20" y1="288.55" x2="463.20" y2="441.80" stroke="#000" stroke-width="3" stroke-linecap="butt" />
<line x1="461.70" y1="440.30" x2="665.20" y2="440.30" stroke="#000" stroke-width="3" stroke-linecap="butt" />
<line x1="454.70" y1="440.30" x2="463.20" y2="440.30" stroke="#000" stroke-width="3" stroke-linecap="butt" />
<text x="452.40" y="445.30" font-size="14" text-anchor="end" font-weight="normal" letter-spacing="3.2" fill="#000" style="stroke-width:0.22px">16</text>
<line x1="454.70" y1="410.25" x2="463.20" y2="410.25" stroke="#000" stroke-width="3" stroke-linecap="butt" />
<text x="452.40" y="415.25" font-size="14" text-anchor="end" font-weight="normal" letter-spacing="3.2" fill="#000" style="stroke-width:0.22px">20</text>
<line x1="454.70" y1="380.20" x2="463.20" y2="380.20" stroke="#000" stroke-width="3" stroke-linecap="butt" />
<text x="452.40" y="385.20" font-size="14" text-anchor="end" font-weight="normal" letter-spacing="3.2" fill="#000" style="stroke-width:0.22px">24</text>
<line x1="454.70" y1="350.15" x2="463.20" y2="350.15" stroke="#000" stroke-width="3" stroke-linecap="butt" />
<text x="452.40" y="355.15" font-size="14" text-anchor="end" font-weight="normal" letter-spacing="3.2" fill="#000" style="stroke-width:0.22px">28</text>
<line x1="454.70" y1="320.10" x2="463.20" y2="320.10" stroke="#000" stroke-width="3" stroke-linecap="butt" />
<text x="452.40" y="325.10" font-size="14" text-anchor="end" font-weight="normal" letter-spacing="3.2" fill="#000" style="stroke-width:0.22px">32</text>
<line x1="454.70" y1="290.05" x2="463.20" y2="290.05" stroke="#000" stroke-width="3" stroke-linecap="butt" />
<text x="452.40" y="295.05" font-size="14" text-anchor="end" font-weight="normal" letter-spacing="3.2" fill="#000" style="stroke-width:0.22px">36</text>
<line x1="485.30" y1="440.30" x2="485.30" y2="448.30" stroke="#000" stroke-width="3" stroke-linecap="butt" />
<line x1="537.00" y1="440.30" x2="537.00" y2="448.30" stroke="#000" stroke-width="3" stroke-linecap="butt" />
<line x1="588.40" y1="440.30" x2="588.40" y2="448.30" stroke="#000" stroke-width="3" stroke-linecap="butt" />
<line x1="640.30" y1="440.30" x2="640.30" y2="448.30" stroke="#000" stroke-width="3" stroke-linecap="butt" />
<text x="0.00" y="0.00" font-size="14" text-anchor="middle" font-weight="normal" letter-spacing="3.58" fill="#000" transform="translate(416.00,365.40) rotate(-90)" style="stroke-width:0.22px">Rhythm Period (hrs)</text>
<text x="0.00" y="0.00" font-size="14.3" text-anchor="end" font-weight="normal" letter-spacing="2.9" fill="#000" transform="translate(490.30,465.30) rotate(-44)" style="stroke-width:0.22px">Week 1</text>
<text x="0.00" y="0.00" font-size="14.3" text-anchor="end" font-weight="normal" letter-spacing="2.9" fill="#000" transform="translate(542.00,465.30) rotate(-44)" style="stroke-width:0.22px">Week 2</text>
<text x="0.00" y="0.00" font-size="14.3" text-anchor="end" font-weight="normal" letter-spacing="2.9" fill="#000" transform="translate(593.40,465.30) rotate(-44)" style="stroke-width:0.22px">Week 3</text>
<text x="0.00" y="0.00" font-size="14.3" text-anchor="end" font-weight="normal" letter-spacing="2.9" fill="#000" transform="translate(645.30,465.30) rotate(-44)" style="stroke-width:0.22px">Week 4</text>
<line x1="470.00" y1="380.20" x2="482.00" y2="380.20" stroke="#000" stroke-width="2.6" stroke-linecap="butt" />
<circle cx="471.25" cy="380.00" r="1.8" fill="#0000ff" fill-opacity="0.6"/>
<circle cx="473.15" cy="380.00" r="1.8" fill="#0000ff" fill-opacity="0.6"/>
<circle cx="475.05" cy="380.00" r="1.8" fill="#0000ff" fill-opacity="0.6"/>
<circle cx="476.95" cy="380.00" r="1.8" fill="#0000ff" fill-opacity="0.6"/>
<circle cx="478.85" cy="380.00" r="1.8" fill="#0000ff" fill-opacity="0.6"/>
<circle cx="480.75" cy="380.00" r="1.8" fill="#0000ff" fill-opacity="0.6"/>
<circle cx="474.10" cy="378.10" r="1.8" fill="#0000ff" fill-opacity="0.6"/>
<circle cx="476.00" cy="378.10" r="1.8" fill="#0000ff" fill-opacity="0.6"/>
<circle cx="477.90" cy="378.10" r="1.8" fill="#0000ff" fill-opacity="0.6"/>
<circle cx="472.20" cy="381.90" r="1.8" fill="#0000ff" fill-opacity="0.6"/>
<circle cx="474.10" cy="381.90" r="1.8" fill="#0000ff" fill-opacity="0.6"/>
<circle cx="476.00" cy="381.90" r="1.8" fill="#0000ff" fill-opacity="0.6"/>
<circle cx="477.90" cy="381.90" r="1.8" fill="#0000ff" fill-opacity="0.6"/>
<circle cx="479.80" cy="381.90" r="1.8" fill="#0000ff" fill-opacity="0.6"/>
<circle cx="476.00" cy="295.31" r="1.8" fill="#0000ff" fill-opacity="0.6"/>
<line x1="489.80" y1="350.15" x2="501.80" y2="350.15" stroke="#000" stroke-width="2.6" stroke-linecap="butt" />
<circle cx="491.05" cy="349.60" r="1.8" fill="#ff0000" fill-opacity="0.6"/>
<circle cx="492.95" cy="349.60" r="1.8" fill="#ff0000" fill-opacity="0.6"/>
<circle cx="494.85" cy="349.60" r="1.8" fill="#ff0000" fill-opacity="0.6"/>
<circle cx="496.75" cy="349.60" r="1.8" fill="#ff0000" fill-opacity="0.6"/>
<circle cx="498.65" cy="349.60" r="1.8" fill="#ff0000" fill-opacity="0.6"/>
<circle cx="500.55" cy="349.60" r="1.8" fill="#ff0000" fill-opacity="0.6"/>
<circle cx="491.05" cy="351.50" r="1.8" fill="#ff0000" fill-opacity="0.6"/>
<circle cx="492.95" cy="351.50" r="1.8" fill="#ff0000" fill-opacity="0.6"/>
<circle cx="494.85" cy="351.50" r="1.8" fill="#ff0000" fill-opacity="0.6"/>
<circle cx="496.75" cy="351.50" r="1.8" fill="#ff0000" fill-opacity="0.6"/>
<circle cx="498.65" cy="351.50" r="1.8" fill="#ff0000" fill-opacity="0.6"/>
<circle cx="500.55" cy="351.50" r="1.8" fill="#ff0000" fill-opacity="0.6"/>
<circle cx="495.80" cy="343.90" r="1.8" fill="#ff0000" fill-opacity="0.6"/>
<circle cx="494.85" cy="355.30" r="1.8" fill="#ff0000" fill-opacity="0.6"/>
<circle cx="496.75" cy="355.30" r="1.8" fill="#ff0000" fill-opacity="0.6"/>
<circle cx="493.90" cy="353.40" r="1.8" fill="#ff0000" fill-opacity="0.6"/>
<circle cx="495.80" cy="353.40" r="1.8" fill="#ff0000" fill-opacity="0.6"/>
<circle cx="497.70" cy="353.40" r="1.8" fill="#ff0000" fill-opacity="0.6"/>
<circle cx="495.80" cy="305.08" r="1.8" fill="#ff0000" fill-opacity="0.6"/>
<circle cx="495.80" cy="325.36" r="1.8" fill="#ff0000" fill-opacity="0.6"/>
<circle cx="495.80" cy="344.14" r="1.8" fill="#ff0000" fill-opacity="0.6"/>
<circle cx="498.80" cy="355.41" r="1.8" fill="#ff0000" fill-opacity="0.6"/>
<circle cx="493.80" cy="354.66" r="1.8" fill="#ff0000" fill-opacity="0.6"/>
<line x1="521.00" y1="380.20" x2="533.00" y2="380.20" stroke="#000" stroke-width="2.6" stroke-linecap="butt" />
<circle cx="525.10" cy="378.10" r="1.8" fill="#0000ff" fill-opacity="0.6"/>
<circle cx="527.00" cy="378.10" r="1.8" fill="#0000ff" fill-opacity="0.6"/>
<circle cx="528.90" cy="378.10" r="1.8" fill="#0000ff" fill-opacity="0.6"/>
<circle cx="523.20" cy="381.90" r="1.8" fill="#0000ff" fill-opacity="0.6"/>
<circle cx="525.10" cy="381.90" r="1.8" fill="#0000ff" fill-opacity="0.6"/>
<circle cx="527.00" cy="381.90" r="1.8" fill="#0000ff" fill-opacity="0.6"/>
<circle cx="528.90" cy="381.90" r="1.8" fill="#0000ff" fill-opacity="0.6"/>
<circle cx="530.80" cy="381.90" r="1.8" fill="#0000ff" fill-opacity="0.6"/>
<circle cx="522.25" cy="380.00" r="1.8" fill="#0000ff" fill-opacity="0.6"/>
<circle cx="524.15" cy="380.00" r="1.8" fill="#0000ff" fill-opacity="0.6"/>
<circle cx="526.05" cy="380.00" r="1.8" fill="#0000ff" fill-opacity="0.6"/>
<circle cx="527.95" cy="380.00" r="1.8" fill="#0000ff" fill-opacity="0.6"/>
<circle cx="529.85" cy="380.00" r="1.8" fill="#0000ff" fill-opacity="0.6"/>
<circle cx="531.75" cy="380.00" r="1.8" fill="#0000ff" fill-opacity="0.6"/>
<circle cx="527.00" cy="290.05" r="1.8" fill="#0000ff" fill-opacity="0.6"/>
<line x1="541.00" y1="350.15" x2="553.00" y2="350.15" stroke="#000" stroke-width="2.6" stroke-linecap="butt" />
<circle cx="546.05" cy="351.50" r="1.8" fill="#ff0000" fill-opacity="0.6"/>
<circle cx="547.95" cy="351.50" r="1.8" fill="#ff0000" fill-opacity="0.6"/>
<circle cx="545.10" cy="353.40" r="1.8" fill="#ff0000" fill-opacity="0.6"/>
<circle cx="547.00" cy="353.40" r="1.8" fill="#ff0000" fill-opacity="0.6"/>
<circle cx="548.90" cy="353.40" r="1.8" fill="#ff0000" fill-opacity="0.6"/>
<circle cx="542.25" cy="347.70" r="1.8" fill="#ff0000" fill-opacity="0.6"/>
<circle cx="544.15" cy="347.70" r="1.8" fill="#ff0000" fill-opacity="0.6"/>
<circle cx="546.05" cy="347.70" r="1.8" fill="#ff0000" fill-opacity="0.6"/>
<circle cx="547.95" cy="347.70" r="1.8" fill="#ff0000" fill-opacity="0.6"/>
<circle cx="549.85" cy="347.70" r="1.8" fill="#ff0000" fill-opacity="0.6"/>
<circle cx="551.75" cy="347.70" r="1.8" fill="#ff0000" fill-opacity="0.6"/>
<circle cx="547.00" cy="343.90" r="1.8" fill="#ff0000" fill-opacity="0.6"/>
<circle cx="546.05" cy="349.60" r="1.8" fill="#ff0000" fill-opacity="0.6"/>
<circle cx="547.95" cy="349.60" r="1.8" fill="#ff0000" fill-opacity="0.6"/>
<circle cx="547.00" cy="337.38" r="1.8" fill="#ff0000" fill-opacity="0.6"/>
<circle cx="550.00" cy="345.64" r="1.8" fill="#ff0000" fill-opacity="0.6"/>
<circle cx="544.00" cy="346.39" r="1.8" fill="#ff0000" fill-opacity="0.6"/>
<line x1="578.70" y1="373.44" x2="578.70" y2="379.45" stroke="#000" stroke-width="2.4" stroke-linecap="butt" />
<line x1="576.60" y1="373.44" x2="580.80" y2="373.44" stroke="#000" stroke-width="2.6" stroke-linecap="butt" />
<line x1="576.60" y1="379.45" x2="580.80" y2="379.45" stroke="#000" stroke-width="2.6" stroke-linecap="butt" />
<line x1="572.70" y1="376.44" x2="584.70" y2="376.44" stroke="#000" stroke-width="2.6" stroke-linecap="butt" />
<circle cx="574.90" cy="381.90" r="1.8" fill="#0000ff" fill-opacity="0.6"/>
<circle cx="576.80" cy="381.90" r="1.8" fill="#0000ff" fill-opacity="0.6"/>
<circle cx="578.70" cy="381.90" r="1.8" fill="#0000ff" fill-opacity="0.6"/>
<circle cx="580.60" cy="381.90" r="1.8" fill="#0000ff" fill-opacity="0.6"/>
<circle cx="582.50" cy="381.90" r="1.8" fill="#0000ff" fill-opacity="0.6"/>
<circle cx="576.80" cy="378.10" r="1.8" fill="#0000ff" fill-opacity="0.6"/>
<circle cx="578.70" cy="378.10" r="1.8" fill="#0000ff" fill-opacity="0.6"/>
<circle cx="580.60" cy="378.10" r="1.8" fill="#0000ff" fill-opacity="0.6"/>
<circle cx="573.95" cy="380.00" r="1.8" fill="#0000ff" fill-opacity="0.6"/>
<circle cx="575.85" cy="380.00" r="1.8" fill="#0000ff" fill-opacity="0.6"/>
<circle cx="577.75" cy="380.00" r="1.8" fill="#0000ff" fill-opacity="0.6"/>
<circle cx="579.65" cy="380.00" r="1.8" fill="#0000ff" fill-opacity="0.6"/>
<circle cx="581.55" cy="380.00" r="1.8" fill="#0000ff" fill-opacity="0.6"/>
<circle cx="583.45" cy="380.00" r="1.8" fill="#0000ff" fill-opacity="0.6"/>
<circle cx="577.20" cy="293.06" r="1.8" fill="#0000ff" fill-opacity="0.6"/>
<circle cx="579.70" cy="291.55" r="1.8" fill="#0000ff" fill-opacity="0.6"/>
<circle cx="578.70" cy="299.07" r="1.8" fill="#0000ff" fill-opacity="0.6"/>
<line x1="592.40" y1="350.15" x2="604.40" y2="350.15" stroke="#000" stroke-width="2.6" stroke-linecap="butt" />
<circle cx="594.60" cy="349.60" r="1.8" fill="#ff0000" fill-opacity="0.6"/>
<circle cx="596.50" cy="349.60" r="1.8" fill="#ff0000" fill-opacity="0.6"/>
<circle cx="598.40" cy="349.60" r="1.8" fill="#ff0000" fill-opacity="0.6"/>
<circle cx="600.30" cy="349.60" r="1.8" fill="#ff0000" fill-opacity="0.6"/>
<circle cx="602.20" cy="349.60" r="1.8" fill="#ff0000" fill-opacity="0.6"/>
<circle cx="595.55" cy="351.50" r="1.8" fill="#ff0000" fill-opacity="0.6"/>
<circle cx="597.45" cy="351.50" r="1.8" fill="#ff0000" fill-opacity="0.6"/>
<circle cx="599.35" cy="351.50" r="1.8" fill="#ff0000" fill-opacity="0.6"/>
<circle cx="601.25" cy="351.50" r="1.8" fill="#ff0000" fill-opacity="0.6"/>
<circle cx="596.50" cy="347.70" r="1.8" fill="#ff0000" fill-opacity="0.6"/>
<circle cx="598.40" cy="347.70" r="1.8" fill="#ff0000" fill-opacity="0.6"/>
<circle cx="600.30" cy="347.70" r="1.8" fill="#ff0000" fill-opacity="0.6"/>
<circle cx="597.45" cy="353.40" r="1.8" fill="#ff0000" fill-opacity="0.6"/>
<circle cx="599.35" cy="353.40" r="1.8" fill="#ff0000" fill-opacity="0.6"/>
<circle cx="598.40" cy="373.44" r="1.8" fill="#ff0000" fill-opacity="0.6"/>
<circle cx="600.40" cy="343.39" r="1.8" fill="#ff0000" fill-opacity="0.6"/>
<circle cx="595.40" cy="346.39" r="1.8" fill="#ff0000" fill-opacity="0.6"/>
<line x1="624.60" y1="380.20" x2="636.60" y2="380.20" stroke="#000" stroke-width="2.6" stroke-linecap="butt" />
<circle cx="625.85" cy="380.00" r="1.8" fill="#0000ff" fill-opacity="0.6"/>
<circle cx="627.75" cy="380.00" r="1.8" fill="#0000ff" fill-opacity="0.6"/>
<circle cx="629.65" cy="380.00" r="1.8" fill="#0000ff" fill-opacity="0.6"/>
<circle cx="631.55" cy="380.00" r="1.8" fill="#0000ff" fill-opacity="0.6"/>
<circle cx="633.45" cy="380.00" r="1.8" fill="#0000ff" fill-opacity="0.6"/>
<circle cx="635.35" cy="380.00" r="1.8" fill="#0000ff" fill-opacity="0.6"/>
<circle cx="628.70" cy="381.90" r="1.8" fill="#0000ff" fill-opacity="0.6"/>
<circle cx="630.60" cy="381.90" r="1.8" fill="#0000ff" fill-opacity="0.6"/>
<circle cx="632.50" cy="381.90" r="1.8" fill="#0000ff" fill-opacity="0.6"/>
<circle cx="630.60" cy="378.10" r="1.8" fill="#0000ff" fill-opacity="0.6"/>
<line x1="649.50" y1="347.15" x2="649.50" y2="353.15" stroke="#000" stroke-width="2.4" stroke-linecap="butt" />
<line x1="647.40" y1="347.15" x2="651.60" y2="347.15" stroke="#000" stroke-width="2.6" stroke-linecap="butt" />
<line x1="647.40" y1="353.15" x2="651.60" y2="353.15" stroke="#000" stroke-width="2.6" stroke-linecap="butt" />
<line x1="643.50" y1="350.15" x2="655.50" y2="350.15" stroke="#000" stroke-width="2.6" stroke-linecap="butt" />
<circle cx="644.75" cy="349.60" r="1.8" fill="#ff0000" fill-opacity="0.6"/>
<circle cx="646.65" cy="349.60" r="1.8" fill="#ff0000" fill-opacity="0.6"/>
<circle cx="648.55" cy="349.60" r="1.8" fill="#ff0000" fill-opacity="0.6"/>
<circle cx="650.45" cy="349.60" r="1.8" fill="#ff0000" fill-opacity="0.6"/>
<circle cx="652.35" cy="349.60" r="1.8" fill="#ff0000" fill-opacity="0.6"/>
<circle cx="654.25" cy="349.60" r="1.8" fill="#ff0000" fill-opacity="0.6"/>
<circle cx="648.55" cy="351.50" r="1.8" fill="#ff0000" fill-opacity="0.6"/>
<circle cx="650.45" cy="351.50" r="1.8" fill="#ff0000" fill-opacity="0.6"/>
<circle cx="651.50" cy="347.90" r="1.8" fill="#ff0000" fill-opacity="0.6"/>
<text x="13.50" y="817.00" font-size="23" text-anchor="start" font-weight="bold" fill="#000">G</text>
<line x1="128.20" y1="820.80" x2="128.20" y2="974.20" stroke="#000" stroke-width="3" stroke-linecap="butt" />
<line x1="126.70" y1="972.70" x2="329.40" y2="972.70" stroke="#000" stroke-width="3" stroke-linecap="butt" />
<line x1="119.70" y1="972.70" x2="128.20" y2="972.70" stroke="#000" stroke-width="3" stroke-linecap="butt" />
<text x="117.40" y="977.70" font-size="14" text-anchor="end" font-weight="normal" letter-spacing="3.2" fill="#000" style="stroke-width:0.22px">16</text>
<line x1="119.70" y1="935.10" x2="128.20" y2="935.10" stroke="#000" stroke-width="3" stroke-linecap="butt" />
<text x="117.40" y="940.10" font-size="14" text-anchor="end" font-weight="normal" letter-spacing="3.2" fill="#000" style="stroke-width:0.22px">20</text>
<line x1="119.70" y1="897.50" x2="128.20" y2="897.50" stroke="#000" stroke-width="3" stroke-linecap="butt" />
<text x="117.40" y="902.50" font-size="14" text-anchor="end" font-weight="normal" letter-spacing="3.2" fill="#000" style="stroke-width:0.22px">24</text>
<line x1="119.70" y1="859.90" x2="128.20" y2="859.90" stroke="#000" stroke-width="3" stroke-linecap="butt" />
<text x="117.40" y="864.90" font-size="14" text-anchor="end" font-weight="normal" letter-spacing="3.2" fill="#000" style="stroke-width:0.22px">28</text>
<line x1="119.70" y1="822.30" x2="128.20" y2="822.30" stroke="#000" stroke-width="3" stroke-linecap="butt" />
<text x="117.40" y="827.30" font-size="14" text-anchor="end" font-weight="normal" letter-spacing="3.2" fill="#000" style="stroke-width:0.22px">32</text>
<line x1="158.10" y1="972.70" x2="158.10" y2="980.70" stroke="#000" stroke-width="3" stroke-linecap="butt" />
<line x1="227.70" y1="972.70" x2="227.70" y2="980.70" stroke="#000" stroke-width="3" stroke-linecap="butt" />
<line x1="297.20" y1="972.70" x2="297.20" y2="980.70" stroke="#000" stroke-width="3" stroke-linecap="butt" />
<text x="0.00" y="0.00" font-size="14" text-anchor="middle" font-weight="normal" letter-spacing="3.58" fill="#000" transform="translate(80.50,896.40) rotate(-90)" style="stroke-width:0.22px">Rhythm Period (hrs)</text>
<text x="157.10" y="1001.70" font-size="13.5" text-anchor="middle" font-weight="normal" fill="#000" style="stroke-width:0.22px">1</text>
<text x="226.70" y="1001.70" font-size="13.5" text-anchor="middle" font-weight="normal" fill="#000" style="stroke-width:0.22px">2</text>
<text x="296.20" y="1001.70" font-size="13.5" text-anchor="middle" font-weight="normal" fill="#000" style="stroke-width:0.22px">3</text>
<text x="229.80" y="1025.20" font-size="14" text-anchor="middle" font-weight="normal" letter-spacing="3.6" fill="#000" style="stroke-width:0.22px">Exposure (weeks)</text>
<circle cx="139.45" cy="897.00" r="1.9" fill="#0000ff" fill-opacity="0.55"/>
<circle cx="141.95" cy="897.00" r="1.9" fill="#0000ff" fill-opacity="0.55"/>
<circle cx="144.45" cy="897.00" r="1.9" fill="#0000ff" fill-opacity="0.55"/>
<circle cx="146.95" cy="897.00" r="1.9" fill="#0000ff" fill-opacity="0.55"/>
<circle cx="149.45" cy="897.00" r="1.9" fill="#0000ff" fill-opacity="0.55"/>
<circle cx="151.95" cy="897.00" r="1.9" fill="#0000ff" fill-opacity="0.55"/>
<circle cx="140.70" cy="900.00" r="1.9" fill="#0000ff" fill-opacity="0.55"/>
<circle cx="143.20" cy="900.00" r="1.9" fill="#0000ff" fill-opacity="0.55"/>
<circle cx="145.70" cy="900.00" r="1.9" fill="#0000ff" fill-opacity="0.55"/>
<circle cx="148.20" cy="900.00" r="1.9" fill="#0000ff" fill-opacity="0.55"/>
<circle cx="150.70" cy="900.00" r="1.9" fill="#0000ff" fill-opacity="0.55"/>
<circle cx="145.70" cy="894.00" r="1.9" fill="#0000ff" fill-opacity="0.55"/>
<circle cx="139.70" cy="889.04" r="1.9" fill="#0000ff" fill-opacity="0.55"/>
<circle cx="143.70" cy="889.04" r="1.9" fill="#0000ff" fill-opacity="0.55"/>
<circle cx="148.70" cy="888.10" r="1.9" fill="#0000ff" fill-opacity="0.55"/>
<circle cx="152.70" cy="889.98" r="1.9" fill="#0000ff" fill-opacity="0.55"/>
<circle cx="145.70" cy="892.80" r="1.9" fill="#0000ff" fill-opacity="0.55"/>
<line x1="145.70" y1="896.56" x2="145.70" y2="898.44" stroke="#000" stroke-width="2.4" stroke-linecap="butt" />
<line x1="140.90" y1="896.56" x2="150.50" y2="896.56" stroke="#000" stroke-width="2.6" stroke-linecap="butt" />
<line x1="140.90" y1="898.44" x2="150.50" y2="898.44" stroke="#000" stroke-width="2.6" stroke-linecap="butt" />
<line x1="137.70" y1="897.50" x2="153.70" y2="897.50" stroke="#000" stroke-width="2.6" stroke-linecap="butt" />
<circle cx="165.15" cy="897.00" r="1.9" fill="#ff0000" fill-opacity="0.55"/>
<circle cx="167.65" cy="897.00" r="1.9" fill="#ff0000" fill-opacity="0.55"/>
<circle cx="170.15" cy="897.00" r="1.9" fill="#ff0000" fill-opacity="0.55"/>
<circle cx="172.65" cy="897.00" r="1.9" fill="#ff0000" fill-opacity="0.55"/>
<circle cx="175.15" cy="897.00" r="1.9" fill="#ff0000" fill-opacity="0.55"/>
<circle cx="177.65" cy="897.00" r="1.9" fill="#ff0000" fill-opacity="0.55"/>
<circle cx="167.65" cy="900.00" r="1.9" fill="#ff0000" fill-opacity="0.55"/>
<circle cx="170.15" cy="900.00" r="1.9" fill="#ff0000" fill-opacity="0.55"/>
<circle cx="172.65" cy="900.00" r="1.9" fill="#ff0000" fill-opacity="0.55"/>
<circle cx="175.15" cy="900.00" r="1.9" fill="#ff0000" fill-opacity="0.55"/>
<circle cx="170.15" cy="891.00" r="1.9" fill="#ff0000" fill-opacity="0.55"/>
<circle cx="172.65" cy="891.00" r="1.9" fill="#ff0000" fill-opacity="0.55"/>
<circle cx="171.40" cy="903.00" r="1.9" fill="#ff0000" fill-opacity="0.55"/>
<circle cx="171.40" cy="894.00" r="1.9" fill="#ff0000" fill-opacity="0.55"/>
<circle cx="171.40" cy="879.64" r="1.9" fill="#ff0000" fill-opacity="0.55"/>
<circle cx="167.40" cy="884.34" r="1.9" fill="#ff0000" fill-opacity="0.55"/>
<circle cx="176.40" cy="883.40" r="1.9" fill="#ff0000" fill-opacity="0.55"/>
<circle cx="169.40" cy="889.04" r="1.9" fill="#ff0000" fill-opacity="0.55"/>
<circle cx="175.40" cy="890.92" r="1.9" fill="#ff0000" fill-opacity="0.55"/>
<circle cx="171.40" cy="972.70" r="1.9" fill="#ff0000" fill-opacity="0.55"/>
<line x1="171.40" y1="892.80" x2="171.40" y2="904.08" stroke="#000" stroke-width="2.4" stroke-linecap="butt" />
<line x1="166.60" y1="892.80" x2="176.20" y2="892.80" stroke="#000" stroke-width="2.6" stroke-linecap="butt" />
<line x1="166.60" y1="904.08" x2="176.20" y2="904.08" stroke="#000" stroke-width="2.6" stroke-linecap="butt" />
<line x1="163.40" y1="898.44" x2="179.40" y2="898.44" stroke="#000" stroke-width="2.6" stroke-linecap="butt" />
<circle cx="208.45" cy="900.00" r="1.9" fill="#0000ff" fill-opacity="0.55"/>
<circle cx="210.95" cy="900.00" r="1.9" fill="#0000ff" fill-opacity="0.55"/>
<circle cx="213.45" cy="900.00" r="1.9" fill="#0000ff" fill-opacity="0.55"/>
<circle cx="215.95" cy="900.00" r="1.9" fill="#0000ff" fill-opacity="0.55"/>
<circle cx="218.45" cy="900.00" r="1.9" fill="#0000ff" fill-opacity="0.55"/>
<circle cx="220.95" cy="900.00" r="1.9" fill="#0000ff" fill-opacity="0.55"/>
<circle cx="208.45" cy="897.00" r="1.9" fill="#0000ff" fill-opacity="0.55"/>
<circle cx="210.95" cy="897.00" r="1.9" fill="#0000ff" fill-opacity="0.55"/>
<circle cx="213.45" cy="897.00" r="1.9" fill="#0000ff" fill-opacity="0.55"/>
<circle cx="215.95" cy="897.00" r="1.9" fill="#0000ff" fill-opacity="0.55"/>
<circle cx="218.45" cy="897.00" r="1.9" fill="#0000ff" fill-opacity="0.55"/>
<circle cx="220.95" cy="897.00" r="1.9" fill="#0000ff" fill-opacity="0.55"/>
<circle cx="209.70" cy="894.00" r="1.9" fill="#0000ff" fill-opacity="0.55"/>
<circle cx="212.20" cy="894.00" r="1.9" fill="#0000ff" fill-opacity="0.55"/>
<circle cx="214.70" cy="894.00" r="1.9" fill="#0000ff" fill-opacity="0.55"/>
<circle cx="217.20" cy="894.00" r="1.9" fill="#0000ff" fill-opacity="0.55"/>
<circle cx="219.70" cy="894.00" r="1.9" fill="#0000ff" fill-opacity="0.55"/>
<circle cx="210.95" cy="903.00" r="1.9" fill="#0000ff" fill-opacity="0.55"/>
<circle cx="213.45" cy="903.00" r="1.9" fill="#0000ff" fill-opacity="0.55"/>
<circle cx="215.95" cy="903.00" r="1.9" fill="#0000ff" fill-opacity="0.55"/>
<circle cx="218.45" cy="903.00" r="1.9" fill="#0000ff" fill-opacity="0.55"/>
<circle cx="214.70" cy="891.00" r="1.9" fill="#0000ff" fill-opacity="0.55"/>
<circle cx="214.70" cy="873.06" r="1.9" fill="#0000ff" fill-opacity="0.55"/>
<circle cx="216.70" cy="881.52" r="1.9" fill="#0000ff" fill-opacity="0.55"/>
<circle cx="211.70" cy="886.22" r="1.9" fill="#0000ff" fill-opacity="0.55"/>
<circle cx="219.70" cy="885.28" r="1.9" fill="#0000ff" fill-opacity="0.55"/>
<circle cx="214.70" cy="910.66" r="1.9" fill="#0000ff" fill-opacity="0.55"/>
<line x1="214.70" y1="892.80" x2="214.70" y2="896.56" stroke="#000" stroke-width="2.4" stroke-linecap="butt" />
<line x1="209.90" y1="892.80" x2="219.50" y2="892.80" stroke="#000" stroke-width="2.6" stroke-linecap="butt" />
<line x1="209.90" y1="896.56" x2="219.50" y2="896.56" stroke="#000" stroke-width="2.6" stroke-linecap="butt" />
<line x1="206.70" y1="894.68" x2="222.70" y2="894.68" stroke="#000" stroke-width="2.6" stroke-linecap="butt" />
<circle cx="237.65" cy="900.00" r="1.9" fill="#ff0000" fill-opacity="0.55"/>
<circle cx="240.15" cy="900.00" r="1.9" fill="#ff0000" fill-opacity="0.55"/>
<circle cx="242.65" cy="900.00" r="1.9" fill="#ff0000" fill-opacity="0.55"/>
<circle cx="245.15" cy="900.00" r="1.9" fill="#ff0000" fill-opacity="0.55"/>
<circle cx="235.15" cy="894.00" r="1.9" fill="#ff0000" fill-opacity="0.55"/>
<circle cx="237.65" cy="894.00" r="1.9" fill="#ff0000" fill-opacity="0.55"/>
<circle cx="240.15" cy="894.00" r="1.9" fill="#ff0000" fill-opacity="0.55"/>
<circle cx="242.65" cy="894.00" r="1.9" fill="#ff0000" fill-opacity="0.55"/>
<circle cx="245.15" cy="894.00" r="1.9" fill="#ff0000" fill-opacity="0.55"/>
<circle cx="247.65" cy="894.00" r="1.9" fill="#ff0000" fill-opacity="0.55"/>
<circle cx="235.15" cy="891.00" r="1.9" fill="#ff0000" fill-opacity="0.55"/>
<circle cx="237.65" cy="891.00" r="1.9" fill="#ff0000" fill-opacity="0.55"/>
<circle cx="240.15" cy="891.00" r="1.9" fill="#ff0000" fill-opacity="0.55"/>
<circle cx="242.65" cy="891.00" r="1.9" fill="#ff0000" fill-opacity="0.55"/>
<circle cx="245.15" cy="891.00" r="1.9" fill="#ff0000" fill-opacity="0.55"/>
<circle cx="247.65" cy="891.00" r="1.9" fill="#ff0000" fill-opacity="0.55"/>
<circle cx="236.40" cy="897.00" r="1.9" fill="#ff0000" fill-opacity="0.55"/>
<circle cx="238.90" cy="897.00" r="1.9" fill="#ff0000" fill-opacity="0.55"/>
<circle cx="241.40" cy="897.00" r="1.9" fill="#ff0000" fill-opacity="0.55"/>
<circle cx="243.90" cy="897.00" r="1.9" fill="#ff0000" fill-opacity="0.55"/>
<circle cx="246.40" cy="897.00" r="1.9" fill="#ff0000" fill-opacity="0.55"/>
<circle cx="241.40" cy="888.00" r="1.9" fill="#ff0000" fill-opacity="0.55"/>
<circle cx="241.40" cy="866.48" r="1.9" fill="#ff0000" fill-opacity="0.55"/>
<circle cx="241.40" cy="880.58" r="1.9" fill="#ff0000" fill-opacity="0.55"/>
<circle cx="237.40" cy="887.16" r="1.9" fill="#ff0000" fill-opacity="0.55"/>
<circle cx="245.40" cy="886.22" r="1.9" fill="#ff0000" fill-opacity="0.55"/>
<line x1="241.40" y1="890.92" x2="241.40" y2="896.56" stroke="#000" stroke-width="2.4" stroke-linecap="butt" />
<line x1="236.60" y1="890.92" x2="246.20" y2="890.92" stroke="#000" stroke-width="2.6" stroke-linecap="butt" />
<line x1="236.60" y1="896.56" x2="246.20" y2="896.56" stroke="#000" stroke-width="2.6" stroke-linecap="butt" />
<line x1="233.40" y1="893.74" x2="249.40" y2="893.74" stroke="#000" stroke-width="2.6" stroke-linecap="butt" />
<circle cx="283.45" cy="903.00" r="1.9" fill="#0000ff" fill-opacity="0.55"/>
<circle cx="285.95" cy="903.00" r="1.9" fill="#0000ff" fill-opacity="0.55"/>
<circle cx="282.20" cy="900.00" r="1.9" fill="#0000ff" fill-opacity="0.55"/>
<circle cx="284.70" cy="900.00" r="1.9" fill="#0000ff" fill-opacity="0.55"/>
<circle cx="287.20" cy="900.00" r="1.9" fill="#0000ff" fill-opacity="0.55"/>
<circle cx="283.45" cy="897.00" r="1.9" fill="#0000ff" fill-opacity="0.55"/>
<circle cx="285.95" cy="897.00" r="1.9" fill="#0000ff" fill-opacity="0.55"/>
<circle cx="283.45" cy="906.00" r="1.9" fill="#0000ff" fill-opacity="0.55"/>
<circle cx="285.95" cy="906.00" r="1.9" fill="#0000ff" fill-opacity="0.55"/>
<circle cx="284.70" cy="888.00" r="1.9" fill="#0000ff" fill-opacity="0.55"/>
<circle cx="284.70" cy="881.52" r="1.9" fill="#0000ff" fill-opacity="0.55"/>
<circle cx="284.70" cy="939.80" r="1.9" fill="#0000ff" fill-opacity="0.55"/>
<circle cx="279.70" cy="891.86" r="1.9" fill="#0000ff" fill-opacity="0.55"/>
<circle cx="289.70" cy="890.92" r="1.9" fill="#0000ff" fill-opacity="0.55"/>
<line x1="284.70" y1="890.92" x2="284.70" y2="904.08" stroke="#000" stroke-width="2.4" stroke-linecap="butt" />
<line x1="279.90" y1="890.92" x2="289.50" y2="890.92" stroke="#000" stroke-width="2.6" stroke-linecap="butt" />
<line x1="279.90" y1="904.08" x2="289.50" y2="904.08" stroke="#000" stroke-width="2.6" stroke-linecap="butt" />
<line x1="276.70" y1="897.50" x2="292.70" y2="897.50" stroke="#000" stroke-width="2.6" stroke-linecap="butt" />
<circle cx="310.90" cy="897.00" r="1.9" fill="#ff0000" fill-opacity="0.55"/>
<circle cx="310.90" cy="873.00" r="1.9" fill="#ff0000" fill-opacity="0.55"/>
<circle cx="310.90" cy="876.00" r="1.9" fill="#ff0000" fill-opacity="0.55"/>
<circle cx="310.90" cy="891.00" r="1.9" fill="#ff0000" fill-opacity="0.55"/>
<circle cx="310.90" cy="885.00" r="1.9" fill="#ff0000" fill-opacity="0.55"/>
<circle cx="310.90" cy="900.00" r="1.9" fill="#ff0000" fill-opacity="0.55"/>
<circle cx="310.90" cy="879.00" r="1.9" fill="#ff0000" fill-opacity="0.55"/>
<circle cx="310.90" cy="888.00" r="1.9" fill="#ff0000" fill-opacity="0.55"/>
<circle cx="306.90" cy="844.86" r="1.9" fill="#ff0000" fill-opacity="0.55"/>
<circle cx="310.90" cy="845.80" r="1.9" fill="#ff0000" fill-opacity="0.55"/>
<circle cx="315.90" cy="843.92" r="1.9" fill="#ff0000" fill-opacity="0.55"/>
<circle cx="310.90" cy="859.90" r="1.9" fill="#ff0000" fill-opacity="0.55"/>
<circle cx="307.90" cy="902.20" r="1.9" fill="#ff0000" fill-opacity="0.55"/>
<circle cx="313.90" cy="905.02" r="1.9" fill="#ff0000" fill-opacity="0.55"/>
<circle cx="310.90" cy="929.46" r="1.9" fill="#ff0000" fill-opacity="0.55"/>
<circle cx="312.90" cy="889.98" r="1.9" fill="#ff0000" fill-opacity="0.55"/>
<circle cx="308.90" cy="885.28" r="1.9" fill="#ff0000" fill-opacity="0.55"/>
<line x1="310.90" y1="872.12" x2="310.90" y2="898.44" stroke="#000" stroke-width="2.4" stroke-linecap="butt" />
<line x1="306.10" y1="872.12" x2="315.70" y2="872.12" stroke="#000" stroke-width="2.6" stroke-linecap="butt" />
<line x1="306.10" y1="898.44" x2="315.70" y2="898.44" stroke="#000" stroke-width="2.6" stroke-linecap="butt" />
<line x1="302.90" y1="885.28" x2="318.90" y2="885.28" stroke="#000" stroke-width="2.6" stroke-linecap="butt" />
<text x="358.00" y="817.00" font-size="23" text-anchor="start" font-weight="bold" fill="#000">H</text>
<line x1="463.60" y1="820.50" x2="463.60" y2="974.10" stroke="#000" stroke-width="3" stroke-linecap="butt" />
<line x1="462.10" y1="972.60" x2="665.20" y2="972.60" stroke="#000" stroke-width="3" stroke-linecap="butt" />
<line x1="455.10" y1="972.60" x2="463.60" y2="972.60" stroke="#000" stroke-width="3" stroke-linecap="butt" />
<text x="452.80" y="977.60" font-size="14" text-anchor="end" font-weight="normal" letter-spacing="3.2" fill="#000" style="stroke-width:0.22px">16</text>
<line x1="455.10" y1="934.95" x2="463.60" y2="934.95" stroke="#000" stroke-width="3" stroke-linecap="butt" />
<text x="452.80" y="939.95" font-size="14" text-anchor="end" font-weight="normal" letter-spacing="3.2" fill="#000" style="stroke-width:0.22px">20</text>
<line x1="455.10" y1="897.30" x2="463.60" y2="897.30" stroke="#000" stroke-width="3" stroke-linecap="butt" />
<text x="452.80" y="902.30" font-size="14" text-anchor="end" font-weight="normal" letter-spacing="3.2" fill="#000" style="stroke-width:0.22px">24</text>
<line x1="455.10" y1="859.65" x2="463.60" y2="859.65" stroke="#000" stroke-width="3" stroke-linecap="butt" />
<text x="452.80" y="864.65" font-size="14" text-anchor="end" font-weight="normal" letter-spacing="3.2" fill="#000" style="stroke-width:0.22px">28</text>
<line x1="455.10" y1="822.00" x2="463.60" y2="822.00" stroke="#000" stroke-width="3" stroke-linecap="butt" />
<text x="452.80" y="827.00" font-size="14" text-anchor="end" font-weight="normal" letter-spacing="3.2" fill="#000" style="stroke-width:0.22px">32</text>
<line x1="494.00" y1="972.60" x2="494.00" y2="980.60" stroke="#000" stroke-width="3" stroke-linecap="butt" />
<line x1="564.00" y1="972.60" x2="564.00" y2="980.60" stroke="#000" stroke-width="3" stroke-linecap="butt" />
<line x1="633.00" y1="972.60" x2="633.00" y2="980.60" stroke="#000" stroke-width="3" stroke-linecap="butt" />
<text x="0.00" y="0.00" font-size="14" text-anchor="middle" font-weight="normal" letter-spacing="3.58" fill="#000" transform="translate(416.00,896.40) rotate(-90)" style="stroke-width:0.22px">Rhythm Period (hrs)</text>
<text x="493.00" y="1001.60" font-size="13.5" text-anchor="middle" font-weight="normal" fill="#000" style="stroke-width:0.22px">1</text>
<text x="563.00" y="1001.60" font-size="13.5" text-anchor="middle" font-weight="normal" fill="#000" style="stroke-width:0.22px">2</text>
<text x="632.00" y="1001.60" font-size="13.5" text-anchor="middle" font-weight="normal" fill="#000" style="stroke-width:0.22px">3</text>
<text x="565.40" y="1025.10" font-size="14" text-anchor="middle" font-weight="normal" letter-spacing="3.6" fill="#000" style="stroke-width:0.22px">Exposure (weeks)</text>
<circle cx="475.15" cy="900.00" r="1.9" fill="#0000ff" fill-opacity="0.55"/>
<circle cx="477.65" cy="900.00" r="1.9" fill="#0000ff" fill-opacity="0.55"/>
<circle cx="480.15" cy="900.00" r="1.9" fill="#0000ff" fill-opacity="0.55"/>
<circle cx="482.65" cy="900.00" r="1.9" fill="#0000ff" fill-opacity="0.55"/>
<circle cx="485.15" cy="900.00" r="1.9" fill="#0000ff" fill-opacity="0.55"/>
<circle cx="487.65" cy="900.00" r="1.9" fill="#0000ff" fill-opacity="0.55"/>
<circle cx="475.15" cy="897.00" r="1.9" fill="#0000ff" fill-opacity="0.55"/>
<circle cx="477.65" cy="897.00" r="1.9" fill="#0000ff" fill-opacity="0.55"/>
<circle cx="480.15" cy="897.00" r="1.9" fill="#0000ff" fill-opacity="0.55"/>
<circle cx="482.65" cy="897.00" r="1.9" fill="#0000ff" fill-opacity="0.55"/>
<circle cx="485.15" cy="897.00" r="1.9" fill="#0000ff" fill-opacity="0.55"/>
<circle cx="487.65" cy="897.00" r="1.9" fill="#0000ff" fill-opacity="0.55"/>
<circle cx="480.15" cy="894.00" r="1.9" fill="#0000ff" fill-opacity="0.55"/>
<circle cx="482.65" cy="894.00" r="1.9" fill="#0000ff" fill-opacity="0.55"/>
<circle cx="475.15" cy="903.00" r="1.9" fill="#0000ff" fill-opacity="0.55"/>
<circle cx="477.65" cy="903.00" r="1.9" fill="#0000ff" fill-opacity="0.55"/>
<circle cx="480.15" cy="903.00" r="1.9" fill="#0000ff" fill-opacity="0.55"/>
<circle cx="482.65" cy="903.00" r="1.9" fill="#0000ff" fill-opacity="0.55"/>
<circle cx="485.15" cy="903.00" r="1.9" fill="#0000ff" fill-opacity="0.55"/>
<circle cx="487.65" cy="903.00" r="1.9" fill="#0000ff" fill-opacity="0.55"/>
<circle cx="480.15" cy="906.00" r="1.9" fill="#0000ff" fill-opacity="0.55"/>
<circle cx="482.65" cy="906.00" r="1.9" fill="#0000ff" fill-opacity="0.55"/>
<circle cx="481.40" cy="891.65" r="1.9" fill="#0000ff" fill-opacity="0.55"/>
<circle cx="477.40" cy="893.54" r="1.9" fill="#0000ff" fill-opacity="0.55"/>
<circle cx="485.40" cy="892.59" r="1.9" fill="#0000ff" fill-opacity="0.55"/>
<circle cx="481.40" cy="905.77" r="1.9" fill="#0000ff" fill-opacity="0.55"/>
<line x1="481.40" y1="898.24" x2="481.40" y2="900.12" stroke="#000" stroke-width="2.4" stroke-linecap="butt" />
<line x1="476.60" y1="898.24" x2="486.20" y2="898.24" stroke="#000" stroke-width="2.6" stroke-linecap="butt" />
<line x1="476.60" y1="900.12" x2="486.20" y2="900.12" stroke="#000" stroke-width="2.6" stroke-linecap="butt" />
<line x1="473.40" y1="899.18" x2="489.40" y2="899.18" stroke="#000" stroke-width="2.6" stroke-linecap="butt" />
<circle cx="500.55" cy="897.00" r="1.9" fill="#ff0000" fill-opacity="0.55"/>
<circle cx="503.05" cy="897.00" r="1.9" fill="#ff0000" fill-opacity="0.55"/>
<circle cx="505.55" cy="897.00" r="1.9" fill="#ff0000" fill-opacity="0.55"/>
<circle cx="508.05" cy="897.00" r="1.9" fill="#ff0000" fill-opacity="0.55"/>
<circle cx="510.55" cy="897.00" r="1.9" fill="#ff0000" fill-opacity="0.55"/>
<circle cx="513.05" cy="897.00" r="1.9" fill="#ff0000" fill-opacity="0.55"/>
<circle cx="501.80" cy="900.00" r="1.9" fill="#ff0000" fill-opacity="0.55"/>
<circle cx="504.30" cy="900.00" r="1.9" fill="#ff0000" fill-opacity="0.55"/>
<circle cx="506.80" cy="900.00" r="1.9" fill="#ff0000" fill-opacity="0.55"/>
<circle cx="509.30" cy="900.00" r="1.9" fill="#ff0000" fill-opacity="0.55"/>
<circle cx="511.80" cy="900.00" r="1.9" fill="#ff0000" fill-opacity="0.55"/>
<circle cx="506.80" cy="894.00" r="1.9" fill="#ff0000" fill-opacity="0.55"/>
<circle cx="502.80" cy="887.89" r="1.9" fill="#ff0000" fill-opacity="0.55"/>
<circle cx="506.80" cy="888.83" r="1.9" fill="#ff0000" fill-opacity="0.55"/>
<circle cx="511.80" cy="887.89" r="1.9" fill="#ff0000" fill-opacity="0.55"/>
<circle cx="508.80" cy="891.65" r="1.9" fill="#ff0000" fill-opacity="0.55"/>
<circle cx="506.80" cy="901.07" r="1.9" fill="#ff0000" fill-opacity="0.55"/>
<line x1="506.80" y1="896.36" x2="506.80" y2="898.24" stroke="#000" stroke-width="2.4" stroke-linecap="butt" />
<line x1="502.00" y1="896.36" x2="511.60" y2="896.36" stroke="#000" stroke-width="2.6" stroke-linecap="butt" />
<line x1="502.00" y1="898.24" x2="511.60" y2="898.24" stroke="#000" stroke-width="2.6" stroke-linecap="butt" />
<line x1="498.80" y1="897.30" x2="514.80" y2="897.30" stroke="#000" stroke-width="2.6" stroke-linecap="butt" />
<circle cx="548.40" cy="894.00" r="1.9" fill="#0000ff" fill-opacity="0.55"/>
<circle cx="550.90" cy="894.00" r="1.9" fill="#0000ff" fill-opacity="0.55"/>
<circle cx="553.40" cy="894.00" r="1.9" fill="#0000ff" fill-opacity="0.55"/>
<circle cx="544.65" cy="897.00" r="1.9" fill="#0000ff" fill-opacity="0.55"/>
<circle cx="547.15" cy="897.00" r="1.9" fill="#0000ff" fill-opacity="0.55"/>
<circle cx="549.65" cy="897.00" r="1.9" fill="#0000ff" fill-opacity="0.55"/>
<circle cx="552.15" cy="897.00" r="1.9" fill="#0000ff" fill-opacity="0.55"/>
<circle cx="554.65" cy="897.00" r="1.9" fill="#0000ff" fill-opacity="0.55"/>
<circle cx="557.15" cy="897.00" r="1.9" fill="#0000ff" fill-opacity="0.55"/>
<circle cx="544.65" cy="903.00" r="1.9" fill="#0000ff" fill-opacity="0.55"/>
<circle cx="547.15" cy="903.00" r="1.9" fill="#0000ff" fill-opacity="0.55"/>
<circle cx="549.65" cy="903.00" r="1.9" fill="#0000ff" fill-opacity="0.55"/>
<circle cx="552.15" cy="903.00" r="1.9" fill="#0000ff" fill-opacity="0.55"/>
<circle cx="554.65" cy="903.00" r="1.9" fill="#0000ff" fill-opacity="0.55"/>
<circle cx="557.15" cy="903.00" r="1.9" fill="#0000ff" fill-opacity="0.55"/>
<circle cx="544.65" cy="900.00" r="1.9" fill="#0000ff" fill-opacity="0.55"/>
<circle cx="547.15" cy="900.00" r="1.9" fill="#0000ff" fill-opacity="0.55"/>
<circle cx="549.65" cy="900.00" r="1.9" fill="#0000ff" fill-opacity="0.55"/>
<circle cx="552.15" cy="900.00" r="1.9" fill="#0000ff" fill-opacity="0.55"/>
<circle cx="554.65" cy="900.00" r="1.9" fill="#0000ff" fill-opacity="0.55"/>
<circle cx="557.15" cy="900.00" r="1.9" fill="#0000ff" fill-opacity="0.55"/>
<circle cx="550.90" cy="906.00" r="1.9" fill="#0000ff" fill-opacity="0.55"/>
<circle cx="550.90" cy="886.95" r="1.9" fill="#0000ff" fill-opacity="0.55"/>
<circle cx="545.90" cy="891.65" r="1.9" fill="#0000ff" fill-opacity="0.55"/>
<circle cx="555.90" cy="890.71" r="1.9" fill="#0000ff" fill-opacity="0.55"/>
<circle cx="546.90" cy="908.60" r="1.9" fill="#0000ff" fill-opacity="0.55"/>
<circle cx="553.90" cy="907.65" r="1.9" fill="#0000ff" fill-opacity="0.55"/>
<circle cx="550.90" cy="910.48" r="1.9" fill="#0000ff" fill-opacity="0.55"/>
<line x1="550.90" y1="896.83" x2="550.90" y2="899.65" stroke="#000" stroke-width="2.4" stroke-linecap="butt" />
<line x1="546.10" y1="896.83" x2="555.70" y2="896.83" stroke="#000" stroke-width="2.6" stroke-linecap="butt" />
<line x1="546.10" y1="899.65" x2="555.70" y2="899.65" stroke="#000" stroke-width="2.6" stroke-linecap="butt" />
<line x1="542.90" y1="898.24" x2="558.90" y2="898.24" stroke="#000" stroke-width="2.6" stroke-linecap="butt" />
<circle cx="573.65" cy="900.00" r="1.9" fill="#ff0000" fill-opacity="0.55"/>
<circle cx="576.15" cy="900.00" r="1.9" fill="#ff0000" fill-opacity="0.55"/>
<circle cx="578.65" cy="900.00" r="1.9" fill="#ff0000" fill-opacity="0.55"/>
<circle cx="581.15" cy="900.00" r="1.9" fill="#ff0000" fill-opacity="0.55"/>
<circle cx="571.15" cy="894.00" r="1.9" fill="#ff0000" fill-opacity="0.55"/>
<circle cx="573.65" cy="894.00" r="1.9" fill="#ff0000" fill-opacity="0.55"/>
<circle cx="576.15" cy="894.00" r="1.9" fill="#ff0000" fill-opacity="0.55"/>
<circle cx="578.65" cy="894.00" r="1.9" fill="#ff0000" fill-opacity="0.55"/>
<circle cx="581.15" cy="894.00" r="1.9" fill="#ff0000" fill-opacity="0.55"/>
<circle cx="583.65" cy="894.00" r="1.9" fill="#ff0000" fill-opacity="0.55"/>
<circle cx="571.15" cy="897.00" r="1.9" fill="#ff0000" fill-opacity="0.55"/>
<circle cx="573.65" cy="897.00" r="1.9" fill="#ff0000" fill-opacity="0.55"/>
<circle cx="576.15" cy="897.00" r="1.9" fill="#ff0000" fill-opacity="0.55"/>
<circle cx="578.65" cy="897.00" r="1.9" fill="#ff0000" fill-opacity="0.55"/>
<circle cx="581.15" cy="897.00" r="1.9" fill="#ff0000" fill-opacity="0.55"/>
<circle cx="583.65" cy="897.00" r="1.9" fill="#ff0000" fill-opacity="0.55"/>
<circle cx="576.15" cy="891.00" r="1.9" fill="#ff0000" fill-opacity="0.55"/>
<circle cx="578.65" cy="891.00" r="1.9" fill="#ff0000" fill-opacity="0.55"/>
<circle cx="577.40" cy="886.00" r="1.9" fill="#ff0000" fill-opacity="0.55"/>
<circle cx="573.40" cy="888.83" r="1.9" fill="#ff0000" fill-opacity="0.55"/>
<circle cx="581.40" cy="887.89" r="1.9" fill="#ff0000" fill-opacity="0.55"/>
<line x1="577.40" y1="894.01" x2="577.40" y2="896.83" stroke="#000" stroke-width="2.4" stroke-linecap="butt" />
<line x1="572.60" y1="894.01" x2="582.20" y2="894.01" stroke="#000" stroke-width="2.6" stroke-linecap="butt" />
<line x1="572.60" y1="896.83" x2="582.20" y2="896.83" stroke="#000" stroke-width="2.6" stroke-linecap="butt" />
<line x1="569.40" y1="895.42" x2="585.40" y2="895.42" stroke="#000" stroke-width="2.6" stroke-linecap="butt" />
<circle cx="619.45" cy="900.00" r="1.9" fill="#0000ff" fill-opacity="0.55"/>
<circle cx="621.95" cy="900.00" r="1.9" fill="#0000ff" fill-opacity="0.55"/>
<circle cx="618.20" cy="897.00" r="1.9" fill="#0000ff" fill-opacity="0.55"/>
<circle cx="620.70" cy="897.00" r="1.9" fill="#0000ff" fill-opacity="0.55"/>
<circle cx="623.20" cy="897.00" r="1.9" fill="#0000ff" fill-opacity="0.55"/>
<circle cx="614.70" cy="894.48" r="1.9" fill="#0000ff" fill-opacity="0.55"/>
<circle cx="626.70" cy="894.48" r="1.9" fill="#0000ff" fill-opacity="0.55"/>
<circle cx="620.70" cy="904.83" r="1.9" fill="#0000ff" fill-opacity="0.55"/>
<line x1="620.70" y1="894.48" x2="620.70" y2="903.89" stroke="#000" stroke-width="2.4" stroke-linecap="butt" />
<line x1="615.90" y1="894.48" x2="625.50" y2="894.48" stroke="#000" stroke-width="2.6" stroke-linecap="butt" />
<line x1="615.90" y1="903.89" x2="625.50" y2="903.89" stroke="#000" stroke-width="2.6" stroke-linecap="butt" />
<line x1="612.70" y1="899.18" x2="628.70" y2="899.18" stroke="#000" stroke-width="2.6" stroke-linecap="butt" />
<circle cx="646.90" cy="891.00" r="1.9" fill="#ff0000" fill-opacity="0.55"/>
<circle cx="646.90" cy="894.00" r="1.9" fill="#ff0000" fill-opacity="0.55"/>
<circle cx="646.90" cy="900.00" r="1.9" fill="#ff0000" fill-opacity="0.55"/>
<circle cx="646.90" cy="882.24" r="1.9" fill="#ff0000" fill-opacity="0.55"/>
<circle cx="643.90" cy="899.18" r="1.9" fill="#ff0000" fill-opacity="0.55"/>
<circle cx="649.90" cy="897.30" r="1.9" fill="#ff0000" fill-opacity="0.55"/>
<line x1="646.90" y1="874.71" x2="646.90" y2="904.83" stroke="#000" stroke-width="2.4" stroke-linecap="butt" />
<line x1="642.10" y1="874.71" x2="651.70" y2="874.71" stroke="#000" stroke-width="2.6" stroke-linecap="butt" />
<line x1="642.10" y1="904.83" x2="651.70" y2="904.83" stroke="#000" stroke-width="2.6" stroke-linecap="butt" />
<line x1="638.90" y1="889.77" x2="654.90" y2="889.77" stroke="#000" stroke-width="2.6" stroke-linecap="butt" />
<text x="13.50" y="557.00" font-size="23" text-anchor="start" font-weight="bold" fill="#000">E</text>
<line x1="127.50" y1="565.50" x2="127.50" y2="718.20" stroke="#000" stroke-width="3" stroke-linecap="butt" />
<line x1="126.00" y1="716.70" x2="329.40" y2="716.70" stroke="#000" stroke-width="3" stroke-linecap="butt" />
<line x1="119.00" y1="716.70" x2="127.50" y2="716.70" stroke="#000" stroke-width="3" stroke-linecap="butt" />
<text x="117.20" y="721.70" font-size="14" text-anchor="end" font-weight="normal" letter-spacing="3.2" fill="#000" style="stroke-width:0.22px">0</text>
<line x1="119.00" y1="654.20" x2="127.50" y2="654.20" stroke="#000" stroke-width="3" stroke-linecap="butt" />
<text x="117.20" y="659.20" font-size="14" text-anchor="end" font-weight="normal" letter-spacing="3.2" fill="#000" style="stroke-width:0.22px">500</text>
<line x1="119.00" y1="591.70" x2="127.50" y2="591.70" stroke="#000" stroke-width="3" stroke-linecap="butt" />
<text x="117.20" y="596.70" font-size="14" text-anchor="end" font-weight="normal" letter-spacing="3.2" fill="#000" style="stroke-width:0.22px">1000</text>
<line x1="167.20" y1="716.70" x2="167.20" y2="724.70" stroke="#000" stroke-width="3" stroke-linecap="butt" />
<line x1="227.50" y1="716.70" x2="227.50" y2="724.70" stroke="#000" stroke-width="3" stroke-linecap="butt" />
<line x1="287.50" y1="716.70" x2="287.50" y2="724.70" stroke="#000" stroke-width="3" stroke-linecap="butt" />
<text x="166.20" y="745.70" font-size="13.5" text-anchor="middle" font-weight="normal" fill="#000" style="stroke-width:0.22px">1</text>
<text x="226.50" y="745.70" font-size="13.5" text-anchor="middle" font-weight="normal" fill="#000" style="stroke-width:0.22px">2</text>
<text x="286.50" y="745.70" font-size="13.5" text-anchor="middle" font-weight="normal" fill="#000" style="stroke-width:0.22px">3</text>
<text x="229.45" y="771.20" font-size="14" text-anchor="middle" font-weight="normal" letter-spacing="3.6" fill="#000" style="stroke-width:0.22px">Exposure (weeks)</text>
<text x="227.20" y="566.50" font-size="14" text-anchor="middle" font-weight="normal" letter-spacing="4.2" fill="#000" style="stroke-width:0.22px">Female DD</text>
<text x="0.00" y="0.00" font-size="14.5" text-anchor="middle" font-weight="normal" letter-spacing="3.75" fill="#000" transform="translate(59.00,642.50) rotate(-90)" style="stroke-width:0.22px">Rhythm Power</text>
<polyline points="167.20,613.20 227.50,674.08 287.50,699.83" fill="none" stroke="#0000ff" stroke-width="3.2" stroke-linejoin="round"/>
<line x1="167.20" y1="604.45" x2="167.20" y2="621.95" stroke="#0000ff" stroke-width="2.0" stroke-linecap="butt" />
<line x1="163.70" y1="604.45" x2="170.70" y2="604.45" stroke="#0000ff" stroke-width="2.0" stroke-linecap="butt" />
<line x1="163.70" y1="621.95" x2="170.70" y2="621.95" stroke="#0000ff" stroke-width="2.0" stroke-linecap="butt" />
<circle cx="167.20" cy="613.20" r="3.5" fill="#0000ff"/>
<line x1="227.50" y1="669.70" x2="227.50" y2="678.45" stroke="#0000ff" stroke-width="2.0" stroke-linecap="butt" />
<line x1="224.00" y1="669.70" x2="231.00" y2="669.70" stroke="#0000ff" stroke-width="2.0" stroke-linecap="butt" />
<line x1="224.00" y1="678.45" x2="231.00" y2="678.45" stroke="#0000ff" stroke-width="2.0" stroke-linecap="butt" />
<circle cx="227.50" cy="674.08" r="3.5" fill="#0000ff"/>
<line x1="287.50" y1="696.70" x2="287.50" y2="702.95" stroke="#0000ff" stroke-width="2.0" stroke-linecap="butt" />
<line x1="284.00" y1="696.70" x2="291.00" y2="696.70" stroke="#0000ff" stroke-width="2.0" stroke-linecap="butt" />
<line x1="284.00" y1="702.95" x2="291.00" y2="702.95" stroke="#0000ff" stroke-width="2.0" stroke-linecap="butt" />
<circle cx="287.50" cy="699.83" r="3.5" fill="#0000ff"/>
<polyline points="167.20,600.08 227.50,661.08 287.50,695.58" fill="none" stroke="#ff0000" stroke-width="3.2" stroke-linejoin="round"/>
<line x1="167.20" y1="588.83" x2="167.20" y2="611.33" stroke="#ff0000" stroke-width="2.0" stroke-linecap="butt" />
<line x1="163.70" y1="588.83" x2="170.70" y2="588.83" stroke="#ff0000" stroke-width="2.0" stroke-linecap="butt" />
<line x1="163.70" y1="611.33" x2="170.70" y2="611.33" stroke="#ff0000" stroke-width="2.0" stroke-linecap="butt" />
<rect x="163.45" y="596.33" width="7.5" height="7.5" fill="#ff0000"/>
<line x1="227.50" y1="654.83" x2="227.50" y2="667.33" stroke="#ff0000" stroke-width="2.0" stroke-linecap="butt" />
<line x1="224.00" y1="654.83" x2="231.00" y2="654.83" stroke="#ff0000" stroke-width="2.0" stroke-linecap="butt" />
<line x1="224.00" y1="667.33" x2="231.00" y2="667.33" stroke="#ff0000" stroke-width="2.0" stroke-linecap="butt" />
<rect x="223.75" y="657.33" width="7.5" height="7.5" fill="#ff0000"/>
<line x1="287.50" y1="692.45" x2="287.50" y2="698.70" stroke="#ff0000" stroke-width="2.0" stroke-linecap="butt" />
<line x1="284.00" y1="692.45" x2="291.00" y2="692.45" stroke="#ff0000" stroke-width="2.0" stroke-linecap="butt" />
<line x1="284.00" y1="698.70" x2="291.00" y2="698.70" stroke="#ff0000" stroke-width="2.0" stroke-linecap="butt" />
<rect x="283.75" y="691.83" width="7.5" height="7.5" fill="#ff0000"/>
<text x="358.00" y="557.00" font-size="23" text-anchor="start" font-weight="bold" fill="#000">F</text>
<line x1="465.70" y1="565.50" x2="465.70" y2="718.30" stroke="#000" stroke-width="3" stroke-linecap="butt" />
<line x1="464.20" y1="716.80" x2="666.50" y2="716.80" stroke="#000" stroke-width="3" stroke-linecap="butt" />
<line x1="457.20" y1="716.80" x2="465.70" y2="716.80" stroke="#000" stroke-width="3" stroke-linecap="butt" />
<text x="455.40" y="721.80" font-size="14" text-anchor="end" font-weight="normal" letter-spacing="3.2" fill="#000" style="stroke-width:0.22px">0</text>
<line x1="457.20" y1="654.30" x2="465.70" y2="654.30" stroke="#000" stroke-width="3" stroke-linecap="butt" />
<text x="455.40" y="659.30" font-size="14" text-anchor="end" font-weight="normal" letter-spacing="3.2" fill="#000" style="stroke-width:0.22px">500</text>
<line x1="457.20" y1="591.80" x2="465.70" y2="591.80" stroke="#000" stroke-width="3" stroke-linecap="butt" />
<text x="455.40" y="596.80" font-size="14" text-anchor="end" font-weight="normal" letter-spacing="3.2" fill="#000" style="stroke-width:0.22px">1000</text>
<line x1="504.50" y1="716.80" x2="504.50" y2="724.80" stroke="#000" stroke-width="3" stroke-linecap="butt" />
<line x1="564.50" y1="716.80" x2="564.50" y2="724.80" stroke="#000" stroke-width="3" stroke-linecap="butt" />
<line x1="625.10" y1="716.80" x2="625.10" y2="724.80" stroke="#000" stroke-width="3" stroke-linecap="butt" />
<text x="503.50" y="745.80" font-size="13.5" text-anchor="middle" font-weight="normal" fill="#000" style="stroke-width:0.22px">1</text>
<text x="563.50" y="745.80" font-size="13.5" text-anchor="middle" font-weight="normal" fill="#000" style="stroke-width:0.22px">2</text>
<text x="624.10" y="745.80" font-size="13.5" text-anchor="middle" font-weight="normal" fill="#000" style="stroke-width:0.22px">3</text>
<text x="567.10" y="771.30" font-size="14" text-anchor="middle" font-weight="normal" letter-spacing="3.6" fill="#000" style="stroke-width:0.22px">Exposure (weeks)</text>
<text x="566.20" y="566.50" font-size="14" text-anchor="middle" font-weight="normal" letter-spacing="4.2" fill="#000" style="stroke-width:0.22px">Male DD</text>
<text x="0.00" y="0.00" font-size="14.5" text-anchor="middle" font-weight="normal" letter-spacing="3.75" fill="#000" transform="translate(397.00,642.50) rotate(-90)" style="stroke-width:0.22px">Rhythm Power</text>
<polyline points="504.50,586.05 564.50,644.30 625.10,689.92" fill="none" stroke="#0000ff" stroke-width="3.2" stroke-linejoin="round"/>
<line x1="504.50" y1="574.80" x2="504.50" y2="597.30" stroke="#0000ff" stroke-width="2.0" stroke-linecap="butt" />
<line x1="501.00" y1="574.80" x2="508.00" y2="574.80" stroke="#0000ff" stroke-width="2.0" stroke-linecap="butt" />
<line x1="501.00" y1="597.30" x2="508.00" y2="597.30" stroke="#0000ff" stroke-width="2.0" stroke-linecap="butt" />
<circle cx="504.50" cy="586.05" r="3.5" fill="#0000ff"/>
<line x1="564.50" y1="638.42" x2="564.50" y2="650.17" stroke="#0000ff" stroke-width="2.0" stroke-linecap="butt" />
<line x1="561.00" y1="638.42" x2="568.00" y2="638.42" stroke="#0000ff" stroke-width="2.0" stroke-linecap="butt" />
<line x1="561.00" y1="650.17" x2="568.00" y2="650.17" stroke="#0000ff" stroke-width="2.0" stroke-linecap="butt" />
<circle cx="564.50" cy="644.30" r="3.5" fill="#0000ff"/>
<line x1="625.10" y1="686.17" x2="625.10" y2="693.67" stroke="#0000ff" stroke-width="2.0" stroke-linecap="butt" />
<line x1="621.60" y1="686.17" x2="628.60" y2="686.17" stroke="#0000ff" stroke-width="2.0" stroke-linecap="butt" />
<line x1="621.60" y1="693.67" x2="628.60" y2="693.67" stroke="#0000ff" stroke-width="2.0" stroke-linecap="butt" />
<circle cx="625.10" cy="689.92" r="3.5" fill="#0000ff"/>
<polyline points="504.50,602.42 564.50,644.92 625.10,693.30" fill="none" stroke="#ff0000" stroke-width="3.2" stroke-linejoin="round"/>
<line x1="504.50" y1="591.80" x2="504.50" y2="613.05" stroke="#ff0000" stroke-width="2.0" stroke-linecap="butt" />
<line x1="501.00" y1="591.80" x2="508.00" y2="591.80" stroke="#ff0000" stroke-width="2.0" stroke-linecap="butt" />
<line x1="501.00" y1="613.05" x2="508.00" y2="613.05" stroke="#ff0000" stroke-width="2.0" stroke-linecap="butt" />
<rect x="500.75" y="598.67" width="7.5" height="7.5" fill="#ff0000"/>
<line x1="564.50" y1="633.92" x2="564.50" y2="655.92" stroke="#ff0000" stroke-width="2.0" stroke-linecap="butt" />
<line x1="561.00" y1="633.92" x2="568.00" y2="633.92" stroke="#ff0000" stroke-width="2.0" stroke-linecap="butt" />
<line x1="561.00" y1="655.92" x2="568.00" y2="655.92" stroke="#ff0000" stroke-width="2.0" stroke-linecap="butt" />
<rect x="560.75" y="641.17" width="7.5" height="7.5" fill="#ff0000"/>
<line x1="625.10" y1="687.05" x2="625.10" y2="699.55" stroke="#ff0000" stroke-width="2.0" stroke-linecap="butt" />
<line x1="621.60" y1="687.05" x2="628.60" y2="687.05" stroke="#ff0000" stroke-width="2.0" stroke-linecap="butt" />
<line x1="621.60" y1="699.55" x2="628.60" y2="699.55" stroke="#ff0000" stroke-width="2.0" stroke-linecap="butt" />
<rect x="621.35" y="689.55" width="7.5" height="7.5" fill="#ff0000"/>
<text x="13.60" y="1066.00" font-size="22" text-anchor="start" font-weight="normal" fill="#000"><tspan font-weight="bold">I</tspan></text>
<text x="112.70" y="1084.60" font-size="18.9" text-anchor="middle" font-weight="normal" fill="#000">Control Female</text>
<text x="284.30" y="1084.60" font-size="18.9" text-anchor="middle" font-weight="normal" fill="#000">CCM Female</text>
<text x="460.20" y="1084.60" font-size="18.9" text-anchor="middle" font-weight="normal" fill="#000">Control Male</text>
<text x="631.80" y="1084.60" font-size="18.9" text-anchor="middle" font-weight="normal" fill="#000">CCM Male</text>
<text x="710.60" y="1144.90" font-size="25.8" text-anchor="start" font-weight="normal" fill="#000">LD</text>
<text x="710.60" y="1218.30" font-size="25.8" text-anchor="start" font-weight="normal" fill="#000">DD</text>
<path d="M38.50 1100.46V1098.91M39.50 1107.12V1096.95M40.50 1102.34V1097.44M41.50 1103.19V1098.14M42.50 1100.60V1098.30M43.50 1103.84V1098.16M44.50 1100.34V1097.90M45.50 1099.41V1094.47M46.50 1101.75V1099.32M47.50 1098.81V1096.28M48.50 1102.90V1099.48M49.50 1105.93V1098.60M50.50 1104.40V1099.25M51.50 1103.51V1102.01M52.50 1103.21V1101.51M53.50 1106.30V1104.18M54.50 1105.71V1103.28M55.50 1106.86V1106.20M56.50 1108.23V1105.71M57.50 1108.60V1108.08M58.50 1106.40V1102.97M59.50 1107.19V1106.35M60.50 1106.91V1098.77M61.50 1108.43V1104.19M62.50 1107.20V1106.49M63.50 1107.08V1105.96M64.50 1107.63V1106.85M65.50 1108.64V1108.10M66.50 1109.73V1108.56M67.50 1109.19V1106.14M68.50 1107.67V1106.61M69.50 1109.20V1106.78M70.50 1107.64V1104.80M71.50 1107.80V1105.54M72.50 1106.47V1105.67M73.50 1106.34V1105.30M74.50 1107.65V1106.24M75.50 1104.56V1103.20M76.50 1107.12V1106.25M77.50 1107.86V1106.51M78.50 1107.57V1106.59M79.50 1108.48V1107.35M80.50 1107.80V1105.90M81.50 1108.10V1106.28M83.50 1106.53V1101.51M84.50 1107.84V1106.83M85.50 1109.58V1099.42M86.50 1108.08V1105.80M87.50 1108.36V1107.71M88.50 1108.63V1107.51M89.50 1109.66V1106.36M90.50 1109.30V1101.48M91.50 1107.65V1106.41M92.50 1109.18V1106.40M93.50 1109.11V1106.16M94.50 1106.94V1105.62M95.50 1107.01V1106.14M96.50 1109.41V1108.22M97.50 1106.07V1104.00M98.50 1105.57V1104.16M99.50 1106.02V1105.29M100.50 1106.79V1104.63M101.50 1105.69V1101.68M102.50 1105.52V1094.13M103.50 1105.36V1099.00M104.50 1104.98V1103.42M105.50 1105.01V1101.20M106.50 1103.47V1102.40M107.50 1105.37V1098.98M108.50 1102.95V1101.84M109.50 1103.67V1102.07M110.50 1106.41V1094.27M111.50 1103.95V1102.28M112.50 1104.51V1102.33M113.50 1102.56V1092.33M114.50 1106.23V1105.54M115.50 1106.47V1097.06M116.50 1107.61V1100.38M117.50 1107.73V1105.64M118.50 1107.94V1107.26M119.50 1101.48V1095.62M120.50 1106.50V1094.80M121.50 1107.81V1106.87M122.50 1109.18V1106.58M123.50 1110.46V1106.40M124.50 1112.00V1107.32M125.50 1112.00V1110.07M126.50 1112.00V1110.34M127.50 1110.70V1109.95M128.50 1111.18V1110.30M130.50 1110.45V1110.03M131.50 1112.00V1109.93M134.50 1112.00V1110.19M135.50 1112.00V1110.18M136.50 1110.46V1109.67M137.50 1112.00V1109.00M139.50 1111.23V1110.11M140.50 1111.06V1110.55M141.50 1111.43V1108.25M142.50 1112.00V1110.88M144.50 1111.53V1110.50M145.50 1110.49V1107.69M146.50 1111.57V1111.02M147.50 1111.20V1110.47M148.50 1111.63V1110.37M149.50 1111.01V1110.25M151.50 1112.00V1110.61M152.50 1112.00V1110.67M155.50 1111.07V1110.64M156.50 1111.61V1111.10M157.50 1111.23V1110.09M159.50 1110.89V1110.39M160.50 1110.84V1110.40M162.50 1112.00V1111.05M163.50 1111.56V1109.95M164.50 1112.00V1110.57M168.50 1111.43V1108.82M170.50 1112.00V1110.19M171.50 1110.61V1110.21M172.50 1111.32V1110.53M176.50 1112.00V1110.26M179.50 1110.88V1110.34M180.50 1110.81V1109.95M181.50 1110.24V1107.07M182.50 1110.69V1110.19M183.50 1111.34V1110.36M185.50 1112.00V1110.39M186.50 1110.77V1110.29M49.50 1112.00V1090.00M80.50 1112.00V1091.00M114.50 1112.00V1090.00M187.50 1112.00V1096.00" stroke="#444" stroke-width="1" fill="none"/>
<path d="M38.50 1112.00V1100.46M39.50 1112.00V1107.12M40.50 1112.00V1102.34M41.50 1112.00V1103.19M42.50 1112.00V1100.60M43.50 1112.00V1103.84M44.50 1112.00V1100.34M45.50 1112.00V1099.41M46.50 1112.00V1101.75M47.50 1112.00V1098.81M48.50 1112.00V1102.90M49.50 1112.00V1105.93M50.50 1112.00V1104.40M51.50 1112.00V1103.51M52.50 1112.00V1103.21M53.50 1112.00V1106.30M54.50 1112.00V1105.71M55.50 1112.00V1106.86M56.50 1112.00V1108.23M57.50 1112.00V1108.60M58.50 1112.00V1106.40M59.50 1112.00V1107.19M60.50 1112.00V1106.91M61.50 1112.00V1108.43M62.50 1112.00V1107.20M63.50 1112.00V1107.08M64.50 1112.00V1107.63M65.50 1112.00V1108.64M66.50 1112.00V1109.73M67.50 1112.00V1109.19M68.50 1112.00V1107.67M69.50 1112.00V1109.20M70.50 1112.00V1107.64M71.50 1112.00V1107.80M72.50 1112.00V1106.47M73.50 1112.00V1106.34M74.50 1112.00V1107.65M75.50 1112.00V1104.56M76.50 1112.00V1107.12M77.50 1112.00V1107.86M78.50 1112.00V1107.57M79.50 1112.00V1108.48M80.50 1112.00V1107.80M81.50 1112.00V1108.10M82.50 1112.00V1108.74M83.50 1112.00V1106.53M84.50 1112.00V1107.84M85.50 1112.00V1109.58M86.50 1112.00V1108.08M87.50 1112.00V1108.36M88.50 1112.00V1108.63M89.50 1112.00V1109.66M90.50 1112.00V1109.30M91.50 1112.00V1107.65M92.50 1112.00V1109.18M93.50 1112.00V1109.11M94.50 1112.00V1106.94M95.50 1112.00V1107.01M96.50 1112.00V1109.41M97.50 1112.00V1106.07M98.50 1112.00V1105.57M99.50 1112.00V1106.02M100.50 1112.00V1106.79M101.50 1112.00V1105.69M102.50 1112.00V1105.52M103.50 1112.00V1105.36M104.50 1112.00V1104.98M105.50 1112.00V1105.01M106.50 1112.00V1103.47M107.50 1112.00V1105.37M108.50 1112.00V1102.95M109.50 1112.00V1103.67M110.50 1112.00V1106.41M111.50 1112.00V1103.95M112.50 1112.00V1104.51M113.50 1112.00V1102.56M114.50 1112.00V1106.23M115.50 1112.00V1106.47M116.50 1112.00V1107.61M117.50 1112.00V1107.73M118.50 1112.00V1107.94M119.50 1112.00V1101.48M120.50 1112.00V1106.50M121.50 1112.00V1107.81M122.50 1112.00V1109.18M123.50 1112.00V1110.46M127.50 1112.00V1110.70M128.50 1112.00V1111.18M130.50 1112.00V1110.45M132.50 1112.00V1111.45M133.50 1112.00V1110.82M136.50 1112.00V1110.46M139.50 1112.00V1111.23M140.50 1112.00V1111.06M141.50 1112.00V1111.43M143.50 1112.00V1109.21M144.50 1112.00V1111.53M145.50 1112.00V1110.49M146.50 1112.00V1111.57M147.50 1112.00V1111.20M149.50 1112.00V1111.01M150.50 1112.00V1111.20M153.50 1112.00V1110.79M154.50 1112.00V1110.84M155.50 1112.00V1111.07M157.50 1112.00V1111.23M158.50 1112.00V1110.60M159.50 1112.00V1110.89M160.50 1112.00V1110.84M161.50 1112.00V1110.56M163.50 1112.00V1111.56M165.50 1112.00V1110.72M168.50 1112.00V1111.43M169.50 1112.00V1109.98M171.50 1112.00V1110.61M172.50 1112.00V1111.32M173.50 1112.00V1110.63M175.50 1112.00V1110.18M177.50 1112.00V1110.49M179.50 1112.00V1110.88M180.50 1112.00V1110.81M181.50 1112.00V1110.24M182.50 1112.00V1110.69M183.50 1112.00V1111.34M186.50 1112.00V1110.77M188.50 1112.00V1110.39" stroke="#000" stroke-width="1" fill="none"/>
<line x1="38.00" y1="1112.40" x2="188.70" y2="1112.40" stroke="#000" stroke-width="1.0" stroke-linecap="butt" />
<path d="M38.50 1125.65V1121.80M39.50 1125.01V1123.22M40.50 1127.43V1126.01M41.50 1131.40V1127.71M42.50 1131.28V1129.20M43.50 1130.62V1125.30M44.50 1126.53V1123.74M45.50 1131.04V1130.02M46.50 1129.77V1128.11M47.50 1131.88V1130.92M48.50 1127.00V1124.36M49.50 1124.96V1123.21M50.50 1127.56V1124.65M51.50 1131.26V1130.24M52.50 1127.82V1122.38M53.50 1129.55V1125.42M54.50 1130.68V1129.50M55.50 1131.48V1130.67M56.50 1134.53V1132.20M57.50 1133.82V1133.42M58.50 1131.51V1130.36M59.50 1134.36V1130.79M60.50 1131.50V1130.07M61.50 1131.68V1130.06M62.50 1131.63V1130.66M63.50 1133.47V1131.24M64.50 1128.07V1125.15M65.50 1132.49V1128.90M66.50 1132.89V1130.37M67.50 1133.09V1130.86M68.50 1132.69V1131.06M69.50 1133.07V1130.80M70.50 1133.90V1131.67M71.50 1131.06V1130.23M72.50 1134.59V1132.44M73.50 1131.64V1130.14M74.50 1133.43V1132.18M75.50 1131.96V1123.55M76.50 1130.26V1128.32M77.50 1134.85V1125.87M79.50 1132.22V1131.54M80.50 1133.64V1131.42M81.50 1132.21V1130.82M82.50 1135.65V1135.08M83.50 1134.28V1133.16M84.50 1133.40V1132.38M85.50 1133.22V1131.97M86.50 1134.99V1133.88M87.50 1132.31V1128.18M88.50 1132.45V1131.43M89.50 1133.48V1129.73M90.50 1134.14V1132.47M91.50 1133.26V1132.30M92.50 1133.36V1131.46M93.50 1131.70V1130.84M94.50 1132.98V1130.08M95.50 1131.75V1130.15M96.50 1130.33V1128.77M97.50 1132.75V1131.19M98.50 1130.21V1126.01M99.50 1127.58V1125.37M100.50 1134.00V1128.78M101.50 1123.77V1119.33M102.50 1129.08V1127.54M103.50 1127.92V1125.67M104.50 1128.75V1126.07M105.50 1126.84V1123.89M106.50 1131.87V1130.20M107.50 1131.86V1126.43M108.50 1130.01V1120.53M109.50 1131.38V1129.89M110.50 1130.72V1127.65M111.50 1129.93V1126.50M112.50 1126.95V1125.58M113.50 1130.85V1127.07M114.50 1133.92V1131.09M115.50 1130.71V1129.62M116.50 1133.95V1130.56M117.50 1132.86V1127.93M118.50 1129.21V1128.21M119.50 1129.92V1128.73M120.50 1129.82V1127.16M121.50 1133.12V1130.63M122.50 1130.19V1118.84M123.50 1132.74V1129.67M124.50 1134.39V1133.71M125.50 1137.30V1133.93M126.50 1136.24V1134.84M129.50 1136.48V1135.90M130.50 1137.30V1136.37M134.50 1136.31V1135.44M135.50 1137.30V1136.27M136.50 1136.75V1136.03M137.50 1136.03V1133.38M138.50 1136.84V1135.80M139.50 1137.30V1136.54M140.50 1136.73V1136.29M141.50 1137.30V1136.31M142.50 1136.72V1135.72M143.50 1136.84V1135.49M145.50 1137.30V1136.47M146.50 1137.30V1135.54M147.50 1137.30V1134.01M149.50 1136.53V1135.83M150.50 1136.57V1135.94M153.50 1136.37V1135.76M154.50 1136.52V1135.98M156.50 1136.32V1135.76M157.50 1136.92V1136.25M159.50 1137.30V1135.60M160.50 1136.78V1135.66M161.50 1136.72V1135.64M162.50 1136.28V1135.56M164.50 1137.30V1135.87M167.50 1136.39V1135.28M168.50 1136.03V1134.95M169.50 1137.30V1135.89M170.50 1136.21V1135.49M172.50 1137.30V1135.89M173.50 1137.30V1136.43M176.50 1137.30V1134.20M177.50 1137.30V1136.18M179.50 1137.30V1135.59M180.50 1137.30V1136.29M181.50 1136.62V1135.58M182.50 1137.30V1135.84M184.50 1135.74V1135.16M185.50 1136.40V1135.57M186.50 1135.49V1134.90M187.50 1137.30V1135.37M188.50 1137.30V1136.49M111.50 1137.30V1114.30M185.50 1137.30V1134.30" stroke="#444" stroke-width="1" fill="none"/>
<path d="M38.50 1137.30V1125.65M39.50 1137.30V1125.01M40.50 1137.30V1127.43M41.50 1137.30V1131.40M42.50 1137.30V1131.28M43.50 1137.30V1130.62M44.50 1137.30V1126.53M45.50 1137.30V1131.04M46.50 1137.30V1129.77M47.50 1137.30V1131.88M48.50 1137.30V1127.00M49.50 1137.30V1124.96M50.50 1137.30V1127.56M51.50 1137.30V1131.26M52.50 1137.30V1127.82M53.50 1137.30V1129.55M54.50 1137.30V1130.68M55.50 1137.30V1131.48M56.50 1137.30V1134.53M57.50 1137.30V1133.82M58.50 1137.30V1131.51M59.50 1137.30V1134.36M60.50 1137.30V1131.50M61.50 1137.30V1131.68M62.50 1137.30V1131.63M63.50 1137.30V1133.47M64.50 1137.30V1128.07M65.50 1137.30V1132.49M66.50 1137.30V1132.89M67.50 1137.30V1133.09M68.50 1137.30V1132.69M69.50 1137.30V1133.07M70.50 1137.30V1133.90M71.50 1137.30V1131.06M72.50 1137.30V1134.59M73.50 1137.30V1131.64M74.50 1137.30V1133.43M75.50 1137.30V1131.96M76.50 1137.30V1130.26M77.50 1137.30V1134.85M78.50 1137.30V1134.49M79.50 1137.30V1132.22M80.50 1137.30V1133.64M81.50 1137.30V1132.21M82.50 1137.30V1135.65M83.50 1137.30V1134.28M84.50 1137.30V1133.40M85.50 1137.30V1133.22M86.50 1137.30V1134.99M87.50 1137.30V1132.31M88.50 1137.30V1132.45M89.50 1137.30V1133.48M90.50 1137.30V1134.14M91.50 1137.30V1133.26M92.50 1137.30V1133.36M93.50 1137.30V1131.70M94.50 1137.30V1132.98M95.50 1137.30V1131.75M96.50 1137.30V1130.33M97.50 1137.30V1132.75M98.50 1137.30V1130.21M99.50 1137.30V1127.58M100.50 1137.30V1134.00M101.50 1137.30V1123.77M102.50 1137.30V1129.08M103.50 1137.30V1127.92M104.50 1137.30V1128.75M105.50 1137.30V1126.84M106.50 1137.30V1131.87M107.50 1137.30V1131.86M108.50 1137.30V1130.01M109.50 1137.30V1131.38M110.50 1137.30V1130.72M111.50 1137.30V1129.93M112.50 1137.30V1126.95M113.50 1137.30V1130.85M114.50 1137.30V1133.92M115.50 1137.30V1130.71M116.50 1137.30V1133.95M117.50 1137.30V1132.86M118.50 1137.30V1129.21M119.50 1137.30V1129.92M120.50 1137.30V1129.82M121.50 1137.30V1133.12M122.50 1137.30V1130.19M123.50 1137.30V1132.74M124.50 1137.30V1134.39M126.50 1137.30V1136.24M127.50 1137.30V1135.99M129.50 1137.30V1136.48M131.50 1137.30V1136.23M132.50 1137.30V1136.10M134.50 1137.30V1136.31M136.50 1137.30V1136.75M137.50 1137.30V1136.03M138.50 1137.30V1136.84M140.50 1137.30V1136.73M142.50 1137.30V1136.72M143.50 1137.30V1136.84M144.50 1137.30V1135.57M148.50 1137.30V1135.69M149.50 1137.30V1136.53M150.50 1137.30V1136.57M153.50 1137.30V1136.37M154.50 1137.30V1136.52M155.50 1137.30V1136.69M156.50 1137.30V1136.32M158.50 1137.30V1136.22M160.50 1137.30V1136.78M161.50 1137.30V1136.72M162.50 1137.30V1136.28M163.50 1137.30V1135.78M166.50 1137.30V1135.84M167.50 1137.30V1136.39M168.50 1137.30V1136.03M170.50 1137.30V1136.21M171.50 1137.30V1135.93M174.50 1137.30V1135.87M178.50 1137.30V1136.11M181.50 1137.30V1136.62M184.50 1137.30V1135.74M185.50 1137.30V1136.40M186.50 1137.30V1135.49" stroke="#000" stroke-width="1" fill="none"/>
<line x1="38.00" y1="1137.70" x2="188.70" y2="1137.70" stroke="#000" stroke-width="1.0" stroke-linecap="butt" />
<path d="M38.50 1152.33V1147.94M39.50 1154.77V1147.41M40.50 1155.42V1151.50M41.50 1157.34V1150.38M42.50 1154.59V1153.15M43.50 1157.19V1153.92M44.50 1157.84V1156.59M45.50 1159.04V1157.92M46.50 1157.01V1155.49M47.50 1157.42V1154.98M48.50 1159.30V1155.48M49.50 1157.02V1155.60M50.50 1157.06V1154.46M51.50 1156.88V1155.58M52.50 1157.84V1156.66M53.50 1154.27V1143.99M54.50 1159.55V1158.52M55.50 1159.23V1157.09M56.50 1158.58V1156.45M57.50 1157.50V1155.51M58.50 1158.77V1157.72M59.50 1159.63V1157.44M60.50 1156.49V1154.95M61.50 1155.66V1154.91M62.50 1155.55V1154.31M63.50 1158.56V1156.68M64.50 1158.23V1155.86M65.50 1157.68V1154.68M66.50 1158.22V1156.70M67.50 1159.24V1154.66M68.50 1155.81V1149.87M69.50 1154.91V1153.56M70.50 1156.44V1155.40M71.50 1158.18V1156.98M72.50 1156.06V1142.68M73.50 1155.55V1154.18M74.50 1154.83V1153.91M75.50 1157.48V1145.22M76.50 1157.46V1155.10M77.50 1156.72V1155.95M78.50 1158.61V1155.60M79.50 1157.31V1155.63M80.50 1156.45V1155.69M81.50 1155.80V1144.35M82.50 1157.49V1155.39M83.50 1156.01V1155.02M84.50 1157.07V1155.65M85.50 1157.09V1155.57M86.50 1156.81V1155.37M87.50 1151.43V1149.83M88.50 1158.90V1145.77M89.50 1157.32V1146.37M90.50 1156.64V1142.60M91.50 1158.28V1156.33M92.50 1158.41V1156.18M93.50 1158.05V1146.57M94.50 1157.90V1154.93M95.50 1156.08V1145.06M96.50 1156.88V1147.88M97.50 1158.06V1154.46M98.50 1156.25V1154.08M99.50 1156.39V1154.50M100.50 1158.68V1154.41M101.50 1157.94V1147.12M102.50 1158.55V1158.04M103.50 1157.55V1155.60M104.50 1155.65V1149.41M105.50 1156.13V1154.81M106.50 1156.60V1155.80M107.50 1156.95V1155.49M108.50 1151.95V1147.87M109.50 1156.35V1149.77M110.50 1154.63V1153.59M111.50 1158.00V1154.97M112.50 1158.61V1155.93M113.50 1156.58V1153.75M114.50 1157.00V1154.76M115.50 1155.84V1153.91M116.50 1156.48V1154.72M117.50 1157.78V1155.00M118.50 1159.13V1156.66M119.50 1158.39V1148.65M120.50 1158.47V1153.91M121.50 1160.16V1157.59M122.50 1158.81V1157.71M123.50 1159.66V1157.57M124.50 1160.54V1159.34M125.50 1160.72V1159.96M126.50 1161.04V1159.74M127.50 1162.30V1160.23M128.50 1160.87V1160.37M130.50 1162.30V1160.42M131.50 1162.30V1160.78M132.50 1162.30V1161.48M133.50 1160.85V1160.25M134.50 1161.64V1160.57M137.50 1162.30V1161.36M138.50 1160.40V1158.56M139.50 1161.09V1159.07M140.50 1160.74V1160.27M141.50 1162.30V1160.46M143.50 1161.24V1160.35M144.50 1162.30V1161.42M145.50 1162.30V1161.15M147.50 1161.86V1160.61M148.50 1161.54V1158.45M149.50 1162.30V1161.53M150.50 1162.30V1160.84M153.50 1161.87V1160.97M154.50 1161.06V1159.68M155.50 1161.80V1161.32M156.50 1161.75V1158.79M157.50 1162.30V1161.32M158.50 1161.90V1161.06M163.50 1162.30V1161.74M164.50 1160.71V1159.12M165.50 1162.30V1161.04M168.50 1161.07V1160.40M170.50 1161.79V1159.95M172.50 1162.30V1161.20M173.50 1161.62V1160.49M174.50 1162.30V1161.75M176.50 1160.81V1158.44M177.50 1160.90V1160.34M179.50 1162.30V1160.93M180.50 1161.72V1160.61M181.50 1162.30V1160.99M183.50 1161.66V1161.13M184.50 1162.30V1160.64M186.50 1162.30V1160.86M187.50 1162.05V1161.55M188.50 1162.04V1161.48M107.50 1162.30V1143.30M39.50 1162.30V1146.30M40.50 1162.30V1148.30M184.50 1162.30V1142.30M184.50 1162.30V1139.30M185.50 1162.30V1144.30M187.50 1162.30V1152.30" stroke="#444" stroke-width="1" fill="none"/>
<path d="M38.50 1162.30V1152.33M39.50 1162.30V1154.77M40.50 1162.30V1155.42M41.50 1162.30V1157.34M42.50 1162.30V1154.59M43.50 1162.30V1157.19M44.50 1162.30V1157.84M45.50 1162.30V1159.04M46.50 1162.30V1157.01M47.50 1162.30V1157.42M48.50 1162.30V1159.30M49.50 1162.30V1157.02M50.50 1162.30V1157.06M51.50 1162.30V1156.88M52.50 1162.30V1157.84M53.50 1162.30V1154.27M54.50 1162.30V1159.55M55.50 1162.30V1159.23M56.50 1162.30V1158.58M57.50 1162.30V1157.50M58.50 1162.30V1158.77M59.50 1162.30V1159.63M60.50 1162.30V1156.49M61.50 1162.30V1155.66M62.50 1162.30V1155.55M63.50 1162.30V1158.56M64.50 1162.30V1158.23M65.50 1162.30V1157.68M66.50 1162.30V1158.22M67.50 1162.30V1159.24M68.50 1162.30V1155.81M69.50 1162.30V1154.91M70.50 1162.30V1156.44M71.50 1162.30V1158.18M72.50 1162.30V1156.06M73.50 1162.30V1155.55M74.50 1162.30V1154.83M75.50 1162.30V1157.48M76.50 1162.30V1157.46M77.50 1162.30V1156.72M78.50 1162.30V1158.61M79.50 1162.30V1157.31M80.50 1162.30V1156.45M81.50 1162.30V1155.80M82.50 1162.30V1157.49M83.50 1162.30V1156.01M84.50 1162.30V1157.07M85.50 1162.30V1157.09M86.50 1162.30V1156.81M87.50 1162.30V1151.43M88.50 1162.30V1158.90M89.50 1162.30V1157.32M90.50 1162.30V1156.64M91.50 1162.30V1158.28M92.50 1162.30V1158.41M93.50 1162.30V1158.05M94.50 1162.30V1157.90M95.50 1162.30V1156.08M96.50 1162.30V1156.88M97.50 1162.30V1158.06M98.50 1162.30V1156.25M99.50 1162.30V1156.39M100.50 1162.30V1158.68M101.50 1162.30V1157.94M102.50 1162.30V1158.55M103.50 1162.30V1157.55M104.50 1162.30V1155.65M105.50 1162.30V1156.13M106.50 1162.30V1156.60M107.50 1162.30V1156.95M108.50 1162.30V1151.95M109.50 1162.30V1156.35M110.50 1162.30V1154.63M111.50 1162.30V1158.00M112.50 1162.30V1158.61M113.50 1162.30V1156.58M114.50 1162.30V1157.00M115.50 1162.30V1155.84M116.50 1162.30V1156.48M117.50 1162.30V1157.78M118.50 1162.30V1159.13M119.50 1162.30V1158.39M120.50 1162.30V1158.47M121.50 1162.30V1160.16M122.50 1162.30V1158.81M123.50 1162.30V1159.66M124.50 1162.30V1160.54M125.50 1162.30V1160.72M126.50 1162.30V1161.04M128.50 1162.30V1160.87M129.50 1162.30V1160.93M133.50 1162.30V1160.85M134.50 1162.30V1161.64M135.50 1162.30V1160.52M138.50 1162.30V1160.40M139.50 1162.30V1161.09M140.50 1162.30V1160.74M142.50 1162.30V1161.27M143.50 1162.30V1161.24M146.50 1162.30V1160.82M147.50 1162.30V1161.86M148.50 1162.30V1161.54M151.50 1162.30V1160.80M153.50 1162.30V1161.87M154.50 1162.30V1161.06M155.50 1162.30V1161.80M156.50 1162.30V1161.75M159.50 1162.30V1160.92M160.50 1162.30V1160.99M162.50 1162.30V1161.56M164.50 1162.30V1160.71M166.50 1162.30V1161.27M167.50 1162.30V1161.40M168.50 1162.30V1161.07M170.50 1162.30V1161.79M171.50 1162.30V1161.62M173.50 1162.30V1161.62M176.50 1162.30V1160.81M177.50 1162.30V1160.90M178.50 1162.30V1161.06M180.50 1162.30V1161.72M182.50 1162.30V1160.98M183.50 1162.30V1161.66M185.50 1162.30V1161.89" stroke="#000" stroke-width="1" fill="none"/>
<line x1="38.00" y1="1162.70" x2="188.70" y2="1162.70" stroke="#000" stroke-width="1.0" stroke-linecap="butt" />
<path d="M38.50 1183.58V1183.13M39.50 1185.15V1183.25M40.50 1184.05V1183.63M41.50 1185.41V1183.57M42.50 1184.91V1184.31M43.50 1183.86V1183.33M44.50 1185.07V1181.34M45.50 1184.01V1183.32M46.50 1184.20V1183.50M47.50 1183.77V1182.13M48.50 1185.56V1180.00M49.50 1184.74V1183.58M50.50 1183.87V1182.00M51.50 1183.79V1180.11M52.50 1184.95V1183.65M53.50 1183.51V1180.86M54.50 1184.75V1183.70M55.50 1186.21V1185.26M56.50 1184.63V1183.35M57.50 1185.26V1184.42M59.50 1183.10V1181.54M61.50 1185.32V1184.35M62.50 1184.81V1183.57M64.50 1184.21V1183.43M65.50 1184.19V1181.32M67.50 1185.20V1184.55M68.50 1185.55V1184.64M69.50 1185.38V1183.29M70.50 1185.21V1184.03M71.50 1185.05V1183.28M72.50 1185.18V1183.04M73.50 1183.80V1183.01M74.50 1184.46V1183.61M75.50 1184.75V1180.96M76.50 1183.99V1182.95M77.50 1185.05V1184.21M78.50 1184.96V1182.91M80.50 1182.85V1182.29M81.50 1182.37V1181.50M82.50 1183.38V1181.23M83.50 1182.53V1180.76M84.50 1183.13V1181.63M85.50 1184.36V1183.56M86.50 1182.61V1180.71M87.50 1182.69V1179.95M88.50 1181.18V1177.91M89.50 1179.43V1178.10M90.50 1181.08V1178.50M91.50 1179.44V1174.04M92.50 1181.99V1178.25M93.50 1181.08V1173.54M94.50 1183.63V1183.21M95.50 1181.57V1180.90M96.50 1180.15V1178.78M97.50 1180.50V1179.11M98.50 1179.52V1178.61M99.50 1182.76V1180.79M100.50 1182.61V1171.77M101.50 1183.09V1174.90M102.50 1184.17V1180.06M103.50 1181.93V1179.32M104.50 1180.56V1178.90M105.50 1179.93V1177.73M106.50 1180.62V1178.61M107.50 1176.78V1175.31M108.50 1179.18V1177.59M109.50 1180.18V1177.04M110.50 1180.82V1176.35M111.50 1179.68V1178.27M112.50 1178.61V1174.76M113.50 1180.60V1178.37M114.50 1179.31V1176.09M115.50 1174.51V1170.18M116.50 1179.68V1178.40M117.50 1179.53V1178.06M118.50 1182.10V1176.48M119.50 1182.08V1176.62M120.50 1179.75V1175.47M121.50 1177.46V1175.27M122.50 1177.68V1176.38M123.50 1182.82V1180.52M124.50 1178.95V1178.05M125.50 1180.51V1178.67M126.50 1180.61V1179.39M127.50 1179.53V1172.53M128.50 1182.05V1176.66M129.50 1182.62V1178.81M130.50 1180.73V1177.00M131.50 1179.03V1174.97M132.50 1180.31V1177.04M133.50 1178.73V1175.59M134.50 1183.22V1180.87M135.50 1180.59V1179.86M136.50 1182.33V1179.70M137.50 1181.65V1178.91M138.50 1181.64V1179.98M139.50 1175.86V1171.05M140.50 1184.44V1180.82M141.50 1184.32V1182.29M142.50 1187.00V1183.49M143.50 1185.76V1185.13M144.50 1187.00V1186.27M145.50 1187.00V1186.17M146.50 1185.92V1184.25M149.50 1187.00V1184.53M150.50 1186.43V1185.39M151.50 1186.45V1185.85M152.50 1186.64V1186.09M153.50 1186.42V1186.02M154.50 1187.00V1186.13M155.50 1186.45V1185.85M158.50 1186.58V1185.40M159.50 1186.21V1185.32M160.50 1186.58V1185.91M162.50 1186.18V1185.46M163.50 1187.00V1186.00M166.50 1187.00V1186.38M167.50 1187.00V1185.40M168.50 1186.38V1185.87M170.50 1185.89V1185.27M171.50 1186.44V1185.56M173.50 1187.00V1186.05M175.50 1187.00V1185.83M176.50 1185.43V1182.23M177.50 1187.00V1186.58M178.50 1186.66V1185.98M179.50 1187.00V1185.67M181.50 1185.92V1182.90M182.50 1187.00V1186.10M183.50 1187.00V1186.00M186.50 1187.00V1186.04M187.50 1186.43V1185.35M188.50 1187.00V1186.06M98.50 1187.00V1168.00" stroke="#444" stroke-width="1" fill="none"/>
<path d="M38.50 1187.00V1183.58M39.50 1187.00V1185.15M40.50 1187.00V1184.05M41.50 1187.00V1185.41M42.50 1187.00V1184.91M43.50 1187.00V1183.86M44.50 1187.00V1185.07M45.50 1187.00V1184.01M46.50 1187.00V1184.20M47.50 1187.00V1183.77M48.50 1187.00V1185.56M49.50 1187.00V1184.74M50.50 1187.00V1183.87M51.50 1187.00V1183.79M52.50 1187.00V1184.95M53.50 1187.00V1183.51M54.50 1187.00V1184.75M55.50 1187.00V1186.21M56.50 1187.00V1184.63M57.50 1187.00V1185.26M58.50 1187.00V1185.34M59.50 1187.00V1183.10M60.50 1187.00V1185.61M61.50 1187.00V1185.32M62.50 1187.00V1184.81M63.50 1187.00V1184.73M64.50 1187.00V1184.21M65.50 1187.00V1184.19M66.50 1187.00V1185.52M67.50 1187.00V1185.20M68.50 1187.00V1185.55M69.50 1187.00V1185.38M70.50 1187.00V1185.21M71.50 1187.00V1185.05M72.50 1187.00V1185.18M73.50 1187.00V1183.80M74.50 1187.00V1184.46M75.50 1187.00V1184.75M76.50 1187.00V1183.99M77.50 1187.00V1185.05M78.50 1187.00V1184.96M79.50 1187.00V1185.89M80.50 1187.00V1182.85M81.50 1187.00V1182.37M82.50 1187.00V1183.38M83.50 1187.00V1182.53M84.50 1187.00V1183.13M85.50 1187.00V1184.36M86.50 1187.00V1182.61M87.50 1187.00V1182.69M88.50 1187.00V1181.18M89.50 1187.00V1179.43M90.50 1187.00V1181.08M91.50 1187.00V1179.44M92.50 1187.00V1181.99M93.50 1187.00V1181.08M94.50 1187.00V1183.63M95.50 1187.00V1181.57M96.50 1187.00V1180.15M97.50 1187.00V1180.50M98.50 1187.00V1179.52M99.50 1187.00V1182.76M100.50 1187.00V1182.61M101.50 1187.00V1183.09M102.50 1187.00V1184.17M103.50 1187.00V1181.93M104.50 1187.00V1180.56M105.50 1187.00V1179.93M106.50 1187.00V1180.62M107.50 1187.00V1176.78M108.50 1187.00V1179.18M109.50 1187.00V1180.18M110.50 1187.00V1180.82M111.50 1187.00V1179.68M112.50 1187.00V1178.61M113.50 1187.00V1180.60M114.50 1187.00V1179.31M115.50 1187.00V1174.51M116.50 1187.00V1179.68M117.50 1187.00V1179.53M118.50 1187.00V1182.10M119.50 1187.00V1182.08M120.50 1187.00V1179.75M121.50 1187.00V1177.46M122.50 1187.00V1177.68M123.50 1187.00V1182.82M124.50 1187.00V1178.95M125.50 1187.00V1180.51M126.50 1187.00V1180.61M127.50 1187.00V1179.53M128.50 1187.00V1182.05M129.50 1187.00V1182.62M130.50 1187.00V1180.73M131.50 1187.00V1179.03M132.50 1187.00V1180.31M133.50 1187.00V1178.73M134.50 1187.00V1183.22M135.50 1187.00V1180.59M136.50 1187.00V1182.33M137.50 1187.00V1181.65M138.50 1187.00V1181.64M139.50 1187.00V1175.86M140.50 1187.00V1184.44M141.50 1187.00V1184.32M143.50 1187.00V1185.76M146.50 1187.00V1185.92M147.50 1187.00V1185.65M148.50 1187.00V1186.53M150.50 1187.00V1186.43M151.50 1187.00V1186.45M153.50 1187.00V1186.42M155.50 1187.00V1186.45M156.50 1187.00V1186.48M158.50 1187.00V1186.58M159.50 1187.00V1186.21M160.50 1187.00V1186.58M161.50 1187.00V1186.03M162.50 1187.00V1186.18M164.50 1187.00V1186.00M165.50 1187.00V1186.45M168.50 1187.00V1186.38M170.50 1187.00V1185.89M171.50 1187.00V1186.44M174.50 1187.00V1185.91M176.50 1187.00V1185.43M180.50 1187.00V1185.96M181.50 1187.00V1185.92M184.50 1187.00V1186.18M185.50 1187.00V1186.17M187.50 1187.00V1186.43" stroke="#000" stroke-width="1" fill="none"/>
<line x1="38.00" y1="1187.40" x2="188.70" y2="1187.40" stroke="#000" stroke-width="1.0" stroke-linecap="butt" />
<path d="M39.50 1211.54V1210.17M40.50 1211.36V1210.73M41.50 1209.94V1207.08M43.50 1210.75V1210.18M45.50 1210.33V1209.74M46.50 1210.77V1210.10M47.50 1211.25V1209.66M48.50 1210.33V1209.04M49.50 1212.30V1210.16M50.50 1205.69V1199.00M51.50 1207.93V1205.77M52.50 1205.50V1204.38M53.50 1205.42V1204.13M54.50 1204.74V1198.41M55.50 1206.02V1205.14M56.50 1206.35V1204.12M57.50 1205.51V1203.63M58.50 1208.31V1204.65M59.50 1206.37V1205.64M60.50 1206.21V1202.01M61.50 1206.10V1205.03M62.50 1206.84V1204.64M63.50 1210.01V1209.53M64.50 1207.77V1204.90M65.50 1205.94V1204.71M66.50 1208.82V1208.28M67.50 1207.98V1205.69M68.50 1207.17V1206.34M69.50 1206.71V1200.20M70.50 1207.36V1205.65M71.50 1205.59V1204.79M72.50 1209.73V1205.88M73.50 1209.34V1206.52M74.50 1207.25V1206.56M75.50 1205.60V1204.23M76.50 1206.56V1199.64M77.50 1206.68V1204.58M78.50 1208.43V1204.31M79.50 1205.22V1204.12M80.50 1208.06V1202.98M81.50 1210.27V1202.31M82.50 1208.91V1208.20M83.50 1207.73V1206.47M84.50 1209.69V1208.60M85.50 1210.83V1208.96M86.50 1209.38V1208.89M87.50 1209.83V1208.99M88.50 1210.19V1208.64M89.50 1209.09V1208.17M90.50 1209.10V1206.43M91.50 1206.61V1204.98M92.50 1208.45V1207.98M93.50 1206.86V1203.81M94.50 1208.81V1207.09M95.50 1205.01V1202.92M96.50 1206.11V1204.66M97.50 1204.64V1198.86M98.50 1206.73V1203.62M99.50 1208.61V1206.65M100.50 1207.59V1202.14M101.50 1203.50V1201.34M102.50 1204.02V1201.86M103.50 1204.85V1201.35M104.50 1204.30V1199.55M105.50 1203.59V1201.86M106.50 1203.13V1200.03M107.50 1203.70V1202.54M108.50 1205.27V1201.64M109.50 1207.76V1204.70M110.50 1206.88V1204.04M111.50 1204.62V1199.91M112.50 1207.59V1200.22M113.50 1203.06V1201.22M114.50 1205.08V1200.99M115.50 1201.73V1200.36M116.50 1206.49V1202.77M117.50 1208.56V1200.77M118.50 1204.87V1203.94M119.50 1204.27V1201.71M120.50 1205.76V1204.66M121.50 1204.97V1202.37M122.50 1207.65V1204.61M123.50 1205.84V1201.42M124.50 1203.83V1199.77M125.50 1204.77V1202.68M126.50 1204.10V1201.20M127.50 1205.33V1203.51M128.50 1204.04V1199.27M129.50 1208.22V1206.39M130.50 1206.94V1205.13M131.50 1203.84V1202.87M132.50 1207.02V1203.24M133.50 1205.08V1204.12M134.50 1205.54V1203.89M135.50 1207.33V1200.75M136.50 1206.73V1205.39M137.50 1208.26V1201.31M138.50 1208.23V1206.74M139.50 1212.30V1207.91M141.50 1212.30V1210.19M142.50 1210.45V1209.20M143.50 1212.30V1211.36M144.50 1211.20V1210.23M145.50 1211.39V1210.39M147.50 1212.30V1211.81M149.50 1212.30V1210.66M150.50 1211.62V1209.69M152.50 1211.47V1210.75M153.50 1211.26V1210.85M155.50 1212.30V1210.67M156.50 1210.91V1210.45M157.50 1212.30V1211.66M158.50 1211.52V1210.80M159.50 1212.30V1211.34M160.50 1211.21V1210.51M162.50 1212.30V1210.77M163.50 1211.17V1207.37M164.50 1210.95V1210.43M165.50 1212.30V1211.56M167.50 1210.79V1210.28M168.50 1212.30V1210.85M169.50 1211.55V1210.55M170.50 1212.30V1211.56M172.50 1211.59V1210.80M173.50 1212.30V1210.83M174.50 1211.23V1210.44M176.50 1209.20V1208.27M177.50 1210.95V1210.41M178.50 1211.74V1209.54M179.50 1212.30V1211.74M180.50 1212.30V1210.67M181.50 1211.26V1209.79M184.50 1211.11V1210.55M185.50 1212.30V1210.93M186.50 1211.68V1210.35M187.50 1212.30V1211.63M188.50 1211.61V1210.62M66.50 1212.30V1197.30M179.50 1212.30V1206.30" stroke="#444" stroke-width="1" fill="none"/>
<path d="M38.50 1212.30V1211.03M39.50 1212.30V1211.54M40.50 1212.30V1211.36M41.50 1212.30V1209.94M42.50 1212.30V1211.25M43.50 1212.30V1210.75M44.50 1212.30V1210.45M45.50 1212.30V1210.33M46.50 1212.30V1210.77M47.50 1212.30V1211.25M48.50 1212.30V1210.33M50.50 1212.30V1205.69M51.50 1212.30V1207.93M52.50 1212.30V1205.50M53.50 1212.30V1205.42M54.50 1212.30V1204.74M55.50 1212.30V1206.02M56.50 1212.30V1206.35M57.50 1212.30V1205.51M58.50 1212.30V1208.31M59.50 1212.30V1206.37M60.50 1212.30V1206.21M61.50 1212.30V1206.10M62.50 1212.30V1206.84M63.50 1212.30V1210.01M64.50 1212.30V1207.77M65.50 1212.30V1205.94M66.50 1212.30V1208.82M67.50 1212.30V1207.98M68.50 1212.30V1207.17M69.50 1212.30V1206.71M70.50 1212.30V1207.36M71.50 1212.30V1205.59M72.50 1212.30V1209.73M73.50 1212.30V1209.34M74.50 1212.30V1207.25M75.50 1212.30V1205.60M76.50 1212.30V1206.56M77.50 1212.30V1206.68M78.50 1212.30V1208.43M79.50 1212.30V1205.22M80.50 1212.30V1208.06M81.50 1212.30V1210.27M82.50 1212.30V1208.91M83.50 1212.30V1207.73M84.50 1212.30V1209.69M85.50 1212.30V1210.83M86.50 1212.30V1209.38M87.50 1212.30V1209.83M88.50 1212.30V1210.19M89.50 1212.30V1209.09M90.50 1212.30V1209.10M91.50 1212.30V1206.61M92.50 1212.30V1208.45M93.50 1212.30V1206.86M94.50 1212.30V1208.81M95.50 1212.30V1205.01M96.50 1212.30V1206.11M97.50 1212.30V1204.64M98.50 1212.30V1206.73M99.50 1212.30V1208.61M100.50 1212.30V1207.59M101.50 1212.30V1203.50M102.50 1212.30V1204.02M103.50 1212.30V1204.85M104.50 1212.30V1204.30M105.50 1212.30V1203.59M106.50 1212.30V1203.13M107.50 1212.30V1203.70M108.50 1212.30V1205.27M109.50 1212.30V1207.76M110.50 1212.30V1206.88M111.50 1212.30V1204.62M112.50 1212.30V1207.59M113.50 1212.30V1203.06M114.50 1212.30V1205.08M115.50 1212.30V1201.73M116.50 1212.30V1206.49M117.50 1212.30V1208.56M118.50 1212.30V1204.87M119.50 1212.30V1204.27M120.50 1212.30V1205.76M121.50 1212.30V1204.97M122.50 1212.30V1207.65M123.50 1212.30V1205.84M124.50 1212.30V1203.83M125.50 1212.30V1204.77M126.50 1212.30V1204.10M127.50 1212.30V1205.33M128.50 1212.30V1204.04M129.50 1212.30V1208.22M130.50 1212.30V1206.94M131.50 1212.30V1203.84M132.50 1212.30V1207.02M133.50 1212.30V1205.08M134.50 1212.30V1205.54M135.50 1212.30V1207.33M136.50 1212.30V1206.73M137.50 1212.30V1208.26M138.50 1212.30V1208.23M140.50 1212.30V1211.23M142.50 1212.30V1210.45M144.50 1212.30V1211.20M145.50 1212.30V1211.39M146.50 1212.30V1211.34M150.50 1212.30V1211.62M151.50 1212.30V1211.27M152.50 1212.30V1211.47M153.50 1212.30V1211.26M154.50 1212.30V1211.24M156.50 1212.30V1210.91M158.50 1212.30V1211.52M160.50 1212.30V1211.21M161.50 1212.30V1211.32M163.50 1212.30V1211.17M164.50 1212.30V1210.95M167.50 1212.30V1210.79M169.50 1212.30V1211.55M172.50 1212.30V1211.59M174.50 1212.30V1211.23M175.50 1212.30V1210.83M176.50 1212.30V1209.20M177.50 1212.30V1210.95M178.50 1212.30V1211.74M181.50 1212.30V1211.26M183.50 1212.30V1210.85M184.50 1212.30V1211.11M186.50 1212.30V1211.68M188.50 1212.30V1211.61" stroke="#000" stroke-width="1" fill="none"/>
<line x1="38.00" y1="1212.70" x2="188.70" y2="1212.70" stroke="#000" stroke-width="1.0" stroke-linecap="butt" />
<path d="M38.50 1235.00V1234.58M39.50 1235.44V1233.87M40.50 1234.84V1234.18M41.50 1235.05V1234.26M42.50 1235.27V1234.51M43.50 1234.80V1233.95M44.50 1235.14V1234.32M45.50 1234.61V1234.04M46.50 1234.65V1233.94M47.50 1236.47V1235.71M48.50 1234.30V1233.59M49.50 1233.74V1231.75M50.50 1233.60V1231.19M51.50 1235.15V1233.54M52.50 1234.70V1233.76M53.50 1234.84V1233.54M54.50 1231.99V1229.69M55.50 1234.20V1227.56M56.50 1233.86V1231.62M57.50 1235.36V1233.32M59.50 1234.83V1233.93M60.50 1233.49V1231.43M61.50 1235.35V1233.91M62.50 1231.35V1229.67M63.50 1233.92V1233.38M64.50 1234.13V1229.69M65.50 1234.28V1233.53M68.50 1235.29V1234.69M69.50 1235.29V1233.96M70.50 1233.71V1231.00M71.50 1235.03V1233.79M72.50 1235.43V1233.81M73.50 1234.11V1229.97M74.50 1234.38V1230.05M75.50 1235.22V1233.70M76.50 1234.76V1229.79M77.50 1234.96V1232.49M78.50 1235.32V1234.39M79.50 1234.46V1233.90M80.50 1234.23V1233.29M81.50 1235.09V1233.88M82.50 1233.79V1232.94M83.50 1235.58V1234.27M84.50 1235.74V1233.49M85.50 1234.71V1227.92M86.50 1234.00V1232.58M87.50 1235.80V1233.58M88.50 1234.86V1233.95M89.50 1230.69V1228.61M90.50 1235.12V1234.18M91.50 1234.67V1234.07M92.50 1235.79V1234.43M93.50 1235.74V1234.48M95.50 1234.80V1234.33M96.50 1235.31V1234.83M97.50 1234.91V1231.98M98.50 1233.92V1231.34M99.50 1231.90V1231.17M100.50 1231.96V1229.53M101.50 1230.17V1224.69M102.50 1230.63V1227.35M103.50 1229.85V1227.94M104.50 1230.23V1228.62M105.50 1230.71V1229.43M106.50 1233.27V1229.80M107.50 1231.27V1230.40M108.50 1231.45V1230.29M109.50 1231.66V1229.86M110.50 1231.33V1229.85M111.50 1230.12V1227.69M112.50 1232.17V1230.90M113.50 1233.21V1230.62M114.50 1233.93V1224.84M115.50 1227.47V1224.03M116.50 1231.70V1229.48M117.50 1231.69V1229.74M118.50 1232.07V1230.93M119.50 1232.92V1232.42M120.50 1231.45V1230.41M121.50 1230.64V1229.36M122.50 1231.28V1230.59M123.50 1231.69V1229.11M124.50 1230.94V1229.66M125.50 1231.39V1223.95M126.50 1233.52V1231.66M127.50 1230.79V1229.91M128.50 1232.86V1229.44M129.50 1230.91V1226.23M130.50 1231.19V1230.48M131.50 1231.08V1229.91M132.50 1233.80V1232.40M133.50 1232.09V1230.93M134.50 1235.32V1232.81M135.50 1234.61V1234.10M136.50 1236.00V1235.06M137.50 1237.30V1236.68M138.50 1237.30V1236.09M139.50 1237.30V1236.70M140.50 1236.82V1236.38M142.50 1237.30V1236.63M144.50 1237.30V1235.74M145.50 1237.30V1236.21M146.50 1236.64V1235.81M147.50 1237.30V1236.21M148.50 1237.30V1236.52M149.50 1236.38V1235.67M151.50 1236.42V1235.21M152.50 1237.30V1236.53M153.50 1237.30V1236.52M155.50 1237.30V1236.64M157.50 1237.30V1236.20M158.50 1237.30V1236.60M160.50 1237.30V1236.72M163.50 1237.30V1235.00M164.50 1237.30V1236.73M168.50 1237.30V1236.30M169.50 1236.84V1235.95M173.50 1237.04V1236.47M174.50 1237.30V1236.88M175.50 1237.30V1236.40M180.50 1236.48V1234.86M181.50 1236.63V1236.07M183.50 1237.30V1236.25M186.50 1237.30V1236.61M181.50 1237.30V1231.30" stroke="#444" stroke-width="1" fill="none"/>
<path d="M38.50 1237.30V1235.00M39.50 1237.30V1235.44M40.50 1237.30V1234.84M41.50 1237.30V1235.05M42.50 1237.30V1235.27M43.50 1237.30V1234.80M44.50 1237.30V1235.14M45.50 1237.30V1234.61M46.50 1237.30V1234.65M47.50 1237.30V1236.47M48.50 1237.30V1234.30M49.50 1237.30V1233.74M50.50 1237.30V1233.60M51.50 1237.30V1235.15M52.50 1237.30V1234.70M53.50 1237.30V1234.84M54.50 1237.30V1231.99M55.50 1237.30V1234.20M56.50 1237.30V1233.86M57.50 1237.30V1235.36M58.50 1237.30V1235.23M59.50 1237.30V1234.83M60.50 1237.30V1233.49M61.50 1237.30V1235.35M62.50 1237.30V1231.35M63.50 1237.30V1233.92M64.50 1237.30V1234.13M65.50 1237.30V1234.28M66.50 1237.30V1234.81M67.50 1237.30V1236.17M68.50 1237.30V1235.29M69.50 1237.30V1235.29M70.50 1237.30V1233.71M71.50 1237.30V1235.03M72.50 1237.30V1235.43M73.50 1237.30V1234.11M74.50 1237.30V1234.38M75.50 1237.30V1235.22M76.50 1237.30V1234.76M77.50 1237.30V1234.96M78.50 1237.30V1235.32M79.50 1237.30V1234.46M80.50 1237.30V1234.23M81.50 1237.30V1235.09M82.50 1237.30V1233.79M83.50 1237.30V1235.58M84.50 1237.30V1235.74M85.50 1237.30V1234.71M86.50 1237.30V1234.00M87.50 1237.30V1235.80M88.50 1237.30V1234.86M89.50 1237.30V1230.69M90.50 1237.30V1235.12M91.50 1237.30V1234.67M92.50 1237.30V1235.79M93.50 1237.30V1235.74M94.50 1237.30V1234.63M95.50 1237.30V1234.80M96.50 1237.30V1235.31M97.50 1237.30V1234.91M98.50 1237.30V1233.92M99.50 1237.30V1231.90M100.50 1237.30V1231.96M101.50 1237.30V1230.17M102.50 1237.30V1230.63M103.50 1237.30V1229.85M104.50 1237.30V1230.23M105.50 1237.30V1230.71M106.50 1237.30V1233.27M107.50 1237.30V1231.27M108.50 1237.30V1231.45M109.50 1237.30V1231.66M110.50 1237.30V1231.33M111.50 1237.30V1230.12M112.50 1237.30V1232.17M113.50 1237.30V1233.21M114.50 1237.30V1233.93M115.50 1237.30V1227.47M116.50 1237.30V1231.70M117.50 1237.30V1231.69M118.50 1237.30V1232.07M119.50 1237.30V1232.92M120.50 1237.30V1231.45M121.50 1237.30V1230.64M122.50 1237.30V1231.28M123.50 1237.30V1231.69M124.50 1237.30V1230.94M125.50 1237.30V1231.39M126.50 1237.30V1233.52M127.50 1237.30V1230.79M128.50 1237.30V1232.86M129.50 1237.30V1230.91M130.50 1237.30V1231.19M131.50 1237.30V1231.08M132.50 1237.30V1233.80M133.50 1237.30V1232.09M134.50 1237.30V1235.32M135.50 1237.30V1234.61M136.50 1237.30V1236.00M140.50 1237.30V1236.82M141.50 1237.30V1236.18M143.50 1237.30V1236.61M146.50 1237.30V1236.64M149.50 1237.30V1236.38M150.50 1237.30V1236.78M151.50 1237.30V1236.42M154.50 1237.30V1236.58M156.50 1237.30V1236.60M159.50 1237.30V1236.26M162.50 1237.30V1236.63M166.50 1237.30V1236.47M167.50 1237.30V1236.39M169.50 1237.30V1236.84M170.50 1237.30V1236.86M179.50 1237.30V1236.87M180.50 1237.30V1236.48M181.50 1237.30V1236.63M182.50 1237.30V1235.94M185.50 1237.30V1236.06M188.50 1237.30V1236.90" stroke="#000" stroke-width="1" fill="none"/>
<line x1="38.00" y1="1237.70" x2="188.70" y2="1237.70" stroke="#000" stroke-width="1.0" stroke-linecap="butt" />
<path d="M208.50 1105.55V1102.21M209.50 1105.43V1103.67M210.50 1107.83V1103.13M211.50 1106.86V1104.94M212.50 1104.16V1093.15M213.50 1105.15V1103.76M214.50 1104.31V1101.65M215.50 1106.96V1105.98M216.50 1104.83V1103.32M217.50 1105.87V1104.79M218.50 1105.20V1103.46M219.50 1105.12V1103.38M220.50 1104.35V1098.62M221.50 1107.06V1105.42M222.50 1105.55V1091.64M223.50 1107.33V1094.86M224.50 1108.37V1105.76M225.50 1109.07V1107.35M226.50 1107.27V1105.98M227.50 1106.80V1095.13M228.50 1108.96V1107.37M229.50 1107.94V1107.32M230.50 1112.00V1110.83M231.50 1110.79V1110.20M232.50 1111.19V1109.48M233.50 1112.00V1111.40M234.50 1111.65V1110.95M235.50 1112.00V1111.44M238.50 1112.00V1111.14M239.50 1112.00V1108.96M242.50 1112.00V1111.45M243.50 1111.70V1110.85M244.50 1111.73V1110.99M245.50 1112.00V1111.46M250.50 1111.52V1108.30M251.50 1111.53V1110.78M252.50 1112.00V1111.45M253.50 1110.94V1109.77M254.50 1112.00V1111.06M255.50 1111.42V1110.77M256.50 1112.00V1111.05M260.50 1112.00V1111.33M261.50 1111.52V1110.97M262.50 1111.23V1110.49M263.50 1112.00V1110.89M264.50 1112.00V1110.89M265.50 1111.28V1110.81M266.50 1112.00V1111.25M267.50 1112.00V1111.22M268.50 1112.00V1111.29M270.50 1112.00V1108.09M271.50 1111.01V1108.10M275.50 1112.00V1111.16M277.50 1112.00V1111.18M282.50 1111.31V1109.14M283.50 1112.00V1111.58M284.50 1111.51V1110.94M285.50 1112.00V1110.31M286.50 1111.48V1111.07M287.50 1111.53V1110.90M288.50 1110.96V1109.16M290.50 1111.49V1110.90M291.50 1112.00V1110.73M294.50 1109.57V1108.15M295.50 1109.36V1108.56M296.50 1106.45V1105.61M297.50 1106.93V1104.30M298.50 1103.78V1102.20M299.50 1104.62V1103.76M300.50 1104.68V1103.61M301.50 1106.45V1104.51M302.50 1104.35V1102.50M303.50 1101.79V1100.60M304.50 1103.52V1101.24M305.50 1105.13V1103.03M306.50 1103.58V1101.63M307.50 1105.87V1105.11M308.50 1103.69V1098.20M309.50 1105.79V1102.51M310.50 1105.54V1099.16M311.50 1102.60V1100.77M312.50 1104.58V1101.97M313.50 1104.44V1102.47M314.50 1106.66V1102.54M315.50 1103.29V1100.65M316.50 1103.41V1101.90M317.50 1103.57V1101.81M318.50 1102.68V1100.04M319.50 1101.53V1100.17M320.50 1104.04V1101.89M321.50 1106.01V1102.93M322.50 1102.34V1098.07M323.50 1103.38V1096.56M324.50 1105.29V1103.07M325.50 1107.09V1104.31M326.50 1107.98V1106.40M327.50 1107.64V1102.25M328.50 1108.31V1106.38M329.50 1106.70V1105.45M330.50 1108.87V1103.80M331.50 1109.61V1104.92M332.50 1109.74V1108.99M333.50 1109.91V1109.38M334.50 1111.23V1109.16M335.50 1110.92V1109.99M336.50 1109.31V1102.23M337.50 1105.34V1104.25M339.50 1107.95V1102.23M340.50 1110.44V1106.00M341.50 1109.95V1103.62M342.50 1111.09V1109.65M343.50 1109.71V1109.16M344.50 1106.54V1104.21M345.50 1111.05V1106.90M346.50 1109.26V1102.40M347.50 1109.15V1108.74M348.50 1112.00V1109.95M349.50 1109.58V1108.55M350.50 1109.78V1109.06M351.50 1108.84V1105.37M352.50 1109.02V1103.08M353.50 1110.34V1107.50M354.50 1109.48V1108.47M355.50 1109.35V1108.61M357.50 1110.62V1109.59M358.50 1112.00V1108.86M214.50 1112.00V1090.00M323.50 1112.00V1098.00M334.50 1112.00V1100.00M353.50 1112.00V1101.00" stroke="#444" stroke-width="1" fill="none"/>
<path d="M208.50 1112.00V1105.55M209.50 1112.00V1105.43M210.50 1112.00V1107.83M211.50 1112.00V1106.86M212.50 1112.00V1104.16M213.50 1112.00V1105.15M214.50 1112.00V1104.31M215.50 1112.00V1106.96M216.50 1112.00V1104.83M217.50 1112.00V1105.87M218.50 1112.00V1105.20M219.50 1112.00V1105.12M220.50 1112.00V1104.35M221.50 1112.00V1107.06M222.50 1112.00V1105.55M223.50 1112.00V1107.33M224.50 1112.00V1108.37M225.50 1112.00V1109.07M226.50 1112.00V1107.27M227.50 1112.00V1106.80M228.50 1112.00V1108.96M229.50 1112.00V1107.94M231.50 1112.00V1110.79M232.50 1112.00V1111.19M240.50 1112.00V1111.53M250.50 1112.00V1111.52M251.50 1112.00V1111.53M253.50 1112.00V1110.94M255.50 1112.00V1111.42M258.50 1112.00V1111.52M259.50 1112.00V1111.18M261.50 1112.00V1111.52M262.50 1112.00V1111.23M265.50 1112.00V1111.28M271.50 1112.00V1111.01M272.50 1112.00V1111.24M274.50 1112.00V1111.58M279.50 1112.00V1111.21M281.50 1112.00V1111.33M282.50 1112.00V1111.31M284.50 1112.00V1111.51M286.50 1112.00V1111.48M287.50 1112.00V1111.53M288.50 1112.00V1110.96M290.50 1112.00V1111.49M293.50 1112.00V1110.00M294.50 1112.00V1109.57M295.50 1112.00V1109.36M296.50 1112.00V1106.45M297.50 1112.00V1106.93M298.50 1112.00V1103.78M299.50 1112.00V1104.62M300.50 1112.00V1104.68M301.50 1112.00V1106.45M302.50 1112.00V1104.35M303.50 1112.00V1101.79M304.50 1112.00V1103.52M305.50 1112.00V1105.13M306.50 1112.00V1103.58M307.50 1112.00V1105.87M308.50 1112.00V1103.69M309.50 1112.00V1105.79M310.50 1112.00V1105.54M311.50 1112.00V1102.60M312.50 1112.00V1104.58M313.50 1112.00V1104.44M314.50 1112.00V1106.66M315.50 1112.00V1103.29M316.50 1112.00V1103.41M317.50 1112.00V1103.57M318.50 1112.00V1102.68M319.50 1112.00V1101.53M320.50 1112.00V1104.04M321.50 1112.00V1106.01M322.50 1112.00V1102.34M323.50 1112.00V1103.38M324.50 1112.00V1105.29M325.50 1112.00V1107.09M326.50 1112.00V1107.98M327.50 1112.00V1107.64M328.50 1112.00V1108.31M329.50 1112.00V1106.70M330.50 1112.00V1108.87M331.50 1112.00V1109.61M332.50 1112.00V1109.74M333.50 1112.00V1109.91M334.50 1112.00V1111.23M335.50 1112.00V1110.92M336.50 1112.00V1109.31M337.50 1112.00V1105.34M338.50 1112.00V1109.46M339.50 1112.00V1107.95M340.50 1112.00V1110.44M341.50 1112.00V1109.95M342.50 1112.00V1111.09M343.50 1112.00V1109.71M344.50 1112.00V1106.54M345.50 1112.00V1111.05M346.50 1112.00V1109.26M347.50 1112.00V1109.15M349.50 1112.00V1109.58M350.50 1112.00V1109.78M351.50 1112.00V1108.84M352.50 1112.00V1109.02M353.50 1112.00V1110.34M354.50 1112.00V1109.48M355.50 1112.00V1109.35M356.50 1112.00V1109.66M357.50 1112.00V1110.62" stroke="#000" stroke-width="1" fill="none"/>
<line x1="208.90" y1="1112.40" x2="359.90" y2="1112.40" stroke="#000" stroke-width="1.0" stroke-linecap="butt" />
<path d="M208.50 1129.89V1128.91M209.50 1129.58V1128.30M210.50 1129.95V1128.74M211.50 1130.58V1122.01M212.50 1131.23V1129.50M213.50 1131.57V1130.88M214.50 1129.03V1121.28M215.50 1131.90V1127.21M216.50 1128.64V1124.94M217.50 1131.27V1127.98M218.50 1132.01V1126.11M219.50 1131.75V1127.57M220.50 1125.12V1117.78M221.50 1118.80V1116.63M222.50 1131.61V1127.84M223.50 1134.10V1117.38M224.50 1133.08V1128.44M225.50 1130.72V1127.86M226.50 1130.09V1121.91M227.50 1130.40V1128.72M228.50 1132.55V1130.35M229.50 1130.66V1120.45M230.50 1130.08V1129.18M231.50 1130.99V1129.92M232.50 1134.58V1117.32M233.50 1130.53V1129.61M234.50 1132.29V1128.35M235.50 1130.48V1129.19M236.50 1130.45V1129.06M237.50 1130.79V1128.89M238.50 1130.70V1117.69M239.50 1131.10V1129.51M240.50 1130.36V1128.44M241.50 1129.79V1128.67M242.50 1129.06V1127.43M243.50 1131.48V1130.40M244.50 1129.54V1123.18M245.50 1130.07V1123.45M246.50 1129.79V1128.81M247.50 1131.38V1130.16M248.50 1131.81V1129.30M249.50 1132.37V1130.91M250.50 1134.19V1131.34M251.50 1133.12V1132.16M252.50 1134.12V1132.52M253.50 1137.30V1134.90M255.50 1136.64V1136.16M257.50 1137.30V1136.04M258.50 1136.95V1136.54M261.50 1137.30V1136.12M262.50 1137.30V1134.72M266.50 1137.30V1136.81M267.50 1136.46V1133.27M270.50 1136.37V1133.15M271.50 1136.83V1136.13M273.50 1136.44V1136.03M275.50 1137.30V1136.70M276.50 1137.30V1136.84M280.50 1137.30V1136.16M281.50 1137.30V1132.94M282.50 1137.30V1136.35M283.50 1137.30V1136.30M287.50 1137.30V1136.32M288.50 1136.69V1136.11M290.50 1134.73V1132.82M291.50 1137.30V1133.84M292.50 1136.64V1135.10M293.50 1135.38V1133.24M295.50 1137.30V1136.79M296.50 1136.54V1136.07M298.50 1136.39V1135.92M299.50 1137.30V1136.37M302.50 1136.86V1135.59M304.50 1137.30V1136.87M306.50 1137.30V1136.70M307.50 1137.30V1135.93M308.50 1137.30V1136.88M309.50 1137.30V1136.86M310.50 1137.30V1136.15M312.50 1136.62V1136.10M313.50 1137.30V1136.26M314.50 1136.73V1136.21M315.50 1136.48V1135.85M317.50 1136.50V1133.17M318.50 1136.88V1133.80M322.50 1137.30V1136.44M324.50 1137.30V1136.79M325.50 1136.61V1133.96M326.50 1137.30V1132.92M327.50 1135.03V1134.16M328.50 1137.30V1133.79M329.50 1134.24V1132.70M330.50 1135.22V1130.11M331.50 1131.35V1129.75M332.50 1130.00V1127.21M333.50 1128.65V1127.55M334.50 1129.90V1127.45M335.50 1132.12V1129.01M336.50 1130.53V1128.28M337.50 1131.90V1126.72M338.50 1131.63V1129.89M339.50 1131.04V1127.53M340.50 1130.41V1127.32M341.50 1129.47V1127.95M342.50 1130.03V1129.08M343.50 1129.89V1128.26M344.50 1130.21V1124.39M345.50 1130.77V1128.38M346.50 1128.81V1127.79M347.50 1131.05V1126.09M348.50 1131.76V1128.26M349.50 1133.67V1132.93M350.50 1132.35V1129.65M351.50 1128.51V1127.43M352.50 1134.89V1134.26M353.50 1132.09V1130.86M354.50 1135.14V1132.10M355.50 1136.10V1133.21M356.50 1135.99V1133.45M357.50 1135.82V1134.72M358.50 1135.42V1132.35M213.50 1137.30V1116.30M227.50 1137.30V1116.30M272.50 1137.30V1129.30M317.50 1137.30V1133.30" stroke="#444" stroke-width="1" fill="none"/>
<path d="M208.50 1137.30V1129.89M209.50 1137.30V1129.58M210.50 1137.30V1129.95M211.50 1137.30V1130.58M212.50 1137.30V1131.23M213.50 1137.30V1131.57M214.50 1137.30V1129.03M215.50 1137.30V1131.90M216.50 1137.30V1128.64M217.50 1137.30V1131.27M218.50 1137.30V1132.01M219.50 1137.30V1131.75M220.50 1137.30V1125.12M221.50 1137.30V1118.80M222.50 1137.30V1131.61M223.50 1137.30V1134.10M224.50 1137.30V1133.08M225.50 1137.30V1130.72M226.50 1137.30V1130.09M227.50 1137.30V1130.40M228.50 1137.30V1132.55M229.50 1137.30V1130.66M230.50 1137.30V1130.08M231.50 1137.30V1130.99M232.50 1137.30V1134.58M233.50 1137.30V1130.53M234.50 1137.30V1132.29M235.50 1137.30V1130.48M236.50 1137.30V1130.45M237.50 1137.30V1130.79M238.50 1137.30V1130.70M239.50 1137.30V1131.10M240.50 1137.30V1130.36M241.50 1137.30V1129.79M242.50 1137.30V1129.06M243.50 1137.30V1131.48M244.50 1137.30V1129.54M245.50 1137.30V1130.07M246.50 1137.30V1129.79M247.50 1137.30V1131.38M248.50 1137.30V1131.81M249.50 1137.30V1132.37M250.50 1137.30V1134.19M251.50 1137.30V1133.12M252.50 1137.30V1134.12M255.50 1137.30V1136.64M259.50 1137.30V1136.81M260.50 1137.30V1136.88M267.50 1137.30V1136.46M269.50 1137.30V1136.80M270.50 1137.30V1136.37M271.50 1137.30V1136.83M272.50 1137.30V1136.57M273.50 1137.30V1136.44M277.50 1137.30V1136.68M278.50 1137.30V1136.67M279.50 1137.30V1136.48M284.50 1137.30V1136.86M288.50 1137.30V1136.69M290.50 1137.30V1134.73M292.50 1137.30V1136.64M293.50 1137.30V1135.38M296.50 1137.30V1136.54M298.50 1137.30V1136.39M300.50 1137.30V1136.52M301.50 1137.30V1136.29M302.50 1137.30V1136.86M303.50 1137.30V1136.34M312.50 1137.30V1136.62M314.50 1137.30V1136.73M315.50 1137.30V1136.48M316.50 1137.30V1136.66M317.50 1137.30V1136.50M318.50 1137.30V1136.88M323.50 1137.30V1136.28M325.50 1137.30V1136.61M327.50 1137.30V1135.03M329.50 1137.30V1134.24M330.50 1137.30V1135.22M331.50 1137.30V1131.35M332.50 1137.30V1130.00M333.50 1137.30V1128.65M334.50 1137.30V1129.90M335.50 1137.30V1132.12M336.50 1137.30V1130.53M337.50 1137.30V1131.90M338.50 1137.30V1131.63M339.50 1137.30V1131.04M340.50 1137.30V1130.41M341.50 1137.30V1129.47M342.50 1137.30V1130.03M343.50 1137.30V1129.89M344.50 1137.30V1130.21M345.50 1137.30V1130.77M346.50 1137.30V1128.81M347.50 1137.30V1131.05M348.50 1137.30V1131.76M349.50 1137.30V1133.67M350.50 1137.30V1132.35M351.50 1137.30V1128.51M352.50 1137.30V1134.89M353.50 1137.30V1132.09M354.50 1137.30V1135.14M355.50 1137.30V1136.10M356.50 1137.30V1135.99M357.50 1137.30V1135.82M358.50 1137.30V1135.42" stroke="#000" stroke-width="1" fill="none"/>
<line x1="208.90" y1="1137.70" x2="359.90" y2="1137.70" stroke="#000" stroke-width="1.0" stroke-linecap="butt" />
<path d="M208.50 1160.85V1160.30M209.50 1160.10V1158.37M210.50 1161.18V1160.27M212.50 1160.08V1158.70M213.50 1160.93V1160.37M214.50 1160.93V1160.27M216.50 1160.44V1159.96M217.50 1161.37V1160.59M218.50 1160.12V1159.67M219.50 1159.34V1158.17M220.50 1160.26V1158.45M221.50 1157.60V1153.41M222.50 1159.72V1158.77M223.50 1157.73V1156.92M224.50 1159.75V1157.40M225.50 1160.08V1157.18M226.50 1158.04V1150.58M227.50 1157.99V1153.08M228.50 1159.08V1157.36M229.50 1159.80V1159.07M230.50 1158.55V1157.57M231.50 1158.06V1157.45M232.50 1157.86V1155.95M233.50 1157.37V1156.54M234.50 1157.89V1156.62M235.50 1158.67V1156.58M236.50 1158.81V1157.45M237.50 1160.39V1156.95M238.50 1158.41V1157.94M239.50 1162.30V1156.86M240.50 1156.89V1154.48M241.50 1158.71V1157.75M242.50 1159.91V1152.17M243.50 1159.42V1151.93M244.50 1159.09V1157.68M245.50 1158.29V1156.78M246.50 1156.80V1156.16M247.50 1158.11V1156.61M248.50 1157.58V1156.27M250.50 1157.15V1156.56M251.50 1159.14V1154.88M252.50 1157.53V1155.85M253.50 1156.72V1156.03M254.50 1156.38V1150.92M255.50 1157.70V1150.58M256.50 1157.34V1155.90M257.50 1157.11V1156.39M258.50 1157.72V1150.93M259.50 1159.10V1158.06M260.50 1157.81V1156.47M261.50 1155.40V1151.46M262.50 1160.21V1158.58M263.50 1158.57V1157.52M264.50 1159.37V1152.47M265.50 1158.76V1156.61M266.50 1158.30V1157.13M267.50 1159.40V1158.71M268.50 1160.68V1157.81M269.50 1159.07V1156.80M270.50 1159.14V1156.89M271.50 1159.52V1157.17M272.50 1158.23V1156.83M273.50 1159.20V1156.89M274.50 1157.59V1153.39M275.50 1159.84V1156.22M276.50 1160.33V1152.37M277.50 1159.12V1156.54M278.50 1158.61V1157.81M279.50 1159.06V1158.24M280.50 1162.30V1161.37M281.50 1160.86V1160.19M282.50 1162.30V1161.50M284.50 1162.30V1161.54M285.50 1162.30V1160.91M287.50 1162.30V1161.88M288.50 1161.34V1160.43M289.50 1161.37V1156.46M290.50 1161.64V1161.04M291.50 1162.30V1161.59M293.50 1161.77V1161.10M294.50 1161.99V1161.03M295.50 1162.30V1157.72M297.50 1161.69V1161.03M298.50 1161.93V1161.17M299.50 1161.07V1158.85M300.50 1161.72V1161.06M301.50 1161.42V1157.35M302.50 1161.93V1161.24M303.50 1161.81V1161.34M304.50 1162.30V1161.50M305.50 1162.30V1161.47M306.50 1162.30V1161.83M307.50 1161.77V1157.72M308.50 1162.03V1161.24M309.50 1162.30V1161.87M311.50 1162.30V1161.05M312.50 1161.88V1161.35M314.50 1161.94V1161.09M315.50 1162.30V1161.71M316.50 1162.30V1161.26M318.50 1162.30V1161.29M319.50 1162.30V1161.30M320.50 1162.03V1160.13M325.50 1161.94V1159.37M327.50 1162.30V1160.34M329.50 1162.30V1161.79M331.50 1162.30V1161.33M332.50 1162.30V1161.47M336.50 1161.87V1161.40M339.50 1162.30V1160.83M341.50 1161.57V1160.92M342.50 1162.30V1160.68M344.50 1161.18V1159.97M348.50 1161.80V1161.30M349.50 1161.71V1161.31M350.50 1161.60V1159.07M351.50 1162.30V1160.46M352.50 1158.27V1157.48M353.50 1156.47V1155.17M354.50 1155.32V1154.50M355.50 1155.50V1154.55M356.50 1155.60V1152.25M357.50 1151.01V1146.51M358.50 1153.03V1146.87M222.50 1162.30V1143.30M221.50 1162.30V1148.30M356.50 1162.30V1139.30" stroke="#444" stroke-width="1" fill="none"/>
<path d="M208.50 1162.30V1160.85M209.50 1162.30V1160.10M210.50 1162.30V1161.18M211.50 1162.30V1161.03M212.50 1162.30V1160.08M213.50 1162.30V1160.93M214.50 1162.30V1160.93M215.50 1162.30V1160.31M216.50 1162.30V1160.44M217.50 1162.30V1161.37M218.50 1162.30V1160.12M219.50 1162.30V1159.34M220.50 1162.30V1160.26M221.50 1162.30V1157.60M222.50 1162.30V1159.72M223.50 1162.30V1157.73M224.50 1162.30V1159.75M225.50 1162.30V1160.08M226.50 1162.30V1158.04M227.50 1162.30V1157.99M228.50 1162.30V1159.08M229.50 1162.30V1159.80M230.50 1162.30V1158.55M231.50 1162.30V1158.06M232.50 1162.30V1157.86M233.50 1162.30V1157.37M234.50 1162.30V1157.89M235.50 1162.30V1158.67M236.50 1162.30V1158.81M237.50 1162.30V1160.39M238.50 1162.30V1158.41M240.50 1162.30V1156.89M241.50 1162.30V1158.71M242.50 1162.30V1159.91M243.50 1162.30V1159.42M244.50 1162.30V1159.09M245.50 1162.30V1158.29M246.50 1162.30V1156.80M247.50 1162.30V1158.11M248.50 1162.30V1157.58M249.50 1162.30V1159.09M250.50 1162.30V1157.15M251.50 1162.30V1159.14M252.50 1162.30V1157.53M253.50 1162.30V1156.72M254.50 1162.30V1156.38M255.50 1162.30V1157.70M256.50 1162.30V1157.34M257.50 1162.30V1157.11M258.50 1162.30V1157.72M259.50 1162.30V1159.10M260.50 1162.30V1157.81M261.50 1162.30V1155.40M262.50 1162.30V1160.21M263.50 1162.30V1158.57M264.50 1162.30V1159.37M265.50 1162.30V1158.76M266.50 1162.30V1158.30M267.50 1162.30V1159.40M268.50 1162.30V1160.68M269.50 1162.30V1159.07M270.50 1162.30V1159.14M271.50 1162.30V1159.52M272.50 1162.30V1158.23M273.50 1162.30V1159.20M274.50 1162.30V1157.59M275.50 1162.30V1159.84M276.50 1162.30V1160.33M277.50 1162.30V1159.12M278.50 1162.30V1158.61M279.50 1162.30V1159.06M281.50 1162.30V1160.86M288.50 1162.30V1161.34M289.50 1162.30V1161.37M290.50 1162.30V1161.64M293.50 1162.30V1161.77M297.50 1162.30V1161.69M299.50 1162.30V1161.07M300.50 1162.30V1161.72M301.50 1162.30V1161.42M303.50 1162.30V1161.81M307.50 1162.30V1161.77M312.50 1162.30V1161.88M313.50 1162.30V1161.30M321.50 1162.30V1161.28M322.50 1162.30V1161.52M324.50 1162.30V1161.33M326.50 1162.30V1161.20M328.50 1162.30V1161.55M330.50 1162.30V1161.56M336.50 1162.30V1161.87M340.50 1162.30V1161.26M341.50 1162.30V1161.57M344.50 1162.30V1161.18M346.50 1162.30V1161.76M348.50 1162.30V1161.80M349.50 1162.30V1161.71M350.50 1162.30V1161.60M352.50 1162.30V1158.27M353.50 1162.30V1156.47M354.50 1162.30V1155.32M355.50 1162.30V1155.50M356.50 1162.30V1155.60M357.50 1162.30V1151.01M358.50 1162.30V1153.03" stroke="#000" stroke-width="1" fill="none"/>
<line x1="208.90" y1="1162.70" x2="359.90" y2="1162.70" stroke="#000" stroke-width="1.0" stroke-linecap="butt" />
<path d="M208.50 1180.92V1173.94M209.50 1179.67V1174.40M210.50 1181.79V1180.49M211.50 1180.27V1175.92M212.50 1180.95V1179.31M213.50 1179.51V1178.35M214.50 1179.86V1178.95M215.50 1181.83V1179.21M216.50 1179.48V1177.86M217.50 1181.90V1180.63M218.50 1182.26V1178.59M219.50 1181.62V1180.63M220.50 1182.44V1179.62M221.50 1180.41V1179.67M222.50 1182.83V1181.25M223.50 1182.27V1181.69M224.50 1181.46V1180.65M225.50 1181.72V1173.50M226.50 1181.14V1177.84M227.50 1182.77V1182.00M228.50 1181.47V1180.73M229.50 1179.33V1173.16M230.50 1182.58V1180.93M231.50 1181.19V1179.39M232.50 1180.18V1174.80M233.50 1183.54V1180.21M234.50 1184.40V1179.23M235.50 1179.47V1174.56M236.50 1176.45V1174.74M237.50 1179.57V1174.79M238.50 1182.60V1179.66M239.50 1180.00V1176.64M240.50 1182.59V1178.56M241.50 1180.77V1178.50M242.50 1183.09V1178.83M243.50 1180.49V1179.43M244.50 1180.47V1175.11M245.50 1182.03V1180.11M246.50 1182.59V1178.80M247.50 1181.79V1179.73M248.50 1181.63V1179.99M249.50 1180.51V1175.11M250.50 1181.61V1180.64M251.50 1182.10V1179.32M252.50 1180.06V1176.19M253.50 1182.34V1179.57M254.50 1181.97V1180.28M255.50 1181.07V1173.57M256.50 1181.39V1179.50M257.50 1180.70V1178.77M258.50 1180.25V1179.09M259.50 1182.24V1181.55M260.50 1179.60V1178.40M261.50 1182.70V1179.43M262.50 1182.21V1180.97M263.50 1181.90V1181.09M264.50 1184.61V1179.56M265.50 1182.40V1179.99M266.50 1181.10V1177.97M267.50 1181.37V1178.53M268.50 1180.53V1177.74M269.50 1177.38V1168.65M270.50 1180.68V1179.91M271.50 1182.53V1181.19M272.50 1183.14V1180.20M273.50 1182.35V1180.71M274.50 1182.64V1179.31M275.50 1181.84V1169.95M276.50 1179.38V1177.99M277.50 1178.93V1177.17M278.50 1178.46V1176.77M279.50 1174.96V1170.51M280.50 1182.76V1181.95M281.50 1182.11V1177.31M282.50 1181.69V1177.38M283.50 1182.27V1178.40M284.50 1178.17V1176.55M285.50 1179.09V1176.62M286.50 1178.86V1172.32M287.50 1177.06V1175.67M288.50 1176.89V1175.16M289.50 1179.29V1173.31M290.50 1181.53V1179.98M291.50 1180.65V1179.38M292.50 1176.43V1168.91M293.50 1183.27V1181.32M294.50 1185.73V1185.07M295.50 1185.55V1184.67M297.50 1187.00V1186.14M301.50 1187.00V1183.37M302.50 1186.71V1186.09M306.50 1186.65V1183.95M307.50 1186.44V1185.44M315.50 1187.00V1186.45M317.50 1186.61V1186.12M318.50 1186.61V1185.87M319.50 1187.00V1186.24M324.50 1187.00V1186.37M331.50 1187.00V1186.26M336.50 1187.00V1186.23M337.50 1187.00V1186.09M338.50 1187.00V1186.57M342.50 1185.38V1183.13M343.50 1185.14V1182.99M344.50 1184.66V1180.12M345.50 1183.91V1182.73M346.50 1185.20V1183.69M347.50 1183.97V1183.48M348.50 1183.21V1182.50M349.50 1183.20V1181.56M350.50 1183.94V1183.13M351.50 1182.85V1182.00M352.50 1183.15V1181.82M353.50 1183.63V1181.59M354.50 1183.37V1177.86M355.50 1185.42V1183.78M356.50 1183.39V1182.37M357.50 1184.79V1183.06M358.50 1185.47V1182.27M269.50 1187.00V1165.00" stroke="#444" stroke-width="1" fill="none"/>
<path d="M208.50 1187.00V1180.92M209.50 1187.00V1179.67M210.50 1187.00V1181.79M211.50 1187.00V1180.27M212.50 1187.00V1180.95M213.50 1187.00V1179.51M214.50 1187.00V1179.86M215.50 1187.00V1181.83M216.50 1187.00V1179.48M217.50 1187.00V1181.90M218.50 1187.00V1182.26M219.50 1187.00V1181.62M220.50 1187.00V1182.44M221.50 1187.00V1180.41M222.50 1187.00V1182.83M223.50 1187.00V1182.27M224.50 1187.00V1181.46M225.50 1187.00V1181.72M226.50 1187.00V1181.14M227.50 1187.00V1182.77M228.50 1187.00V1181.47M229.50 1187.00V1179.33M230.50 1187.00V1182.58M231.50 1187.00V1181.19M232.50 1187.00V1180.18M233.50 1187.00V1183.54M234.50 1187.00V1184.40M235.50 1187.00V1179.47M236.50 1187.00V1176.45M237.50 1187.00V1179.57M238.50 1187.00V1182.60M239.50 1187.00V1180.00M240.50 1187.00V1182.59M241.50 1187.00V1180.77M242.50 1187.00V1183.09M243.50 1187.00V1180.49M244.50 1187.00V1180.47M245.50 1187.00V1182.03M246.50 1187.00V1182.59M247.50 1187.00V1181.79M248.50 1187.00V1181.63M249.50 1187.00V1180.51M250.50 1187.00V1181.61M251.50 1187.00V1182.10M252.50 1187.00V1180.06M253.50 1187.00V1182.34M254.50 1187.00V1181.97M255.50 1187.00V1181.07M256.50 1187.00V1181.39M257.50 1187.00V1180.70M258.50 1187.00V1180.25M259.50 1187.00V1182.24M260.50 1187.00V1179.60M261.50 1187.00V1182.70M262.50 1187.00V1182.21M263.50 1187.00V1181.90M264.50 1187.00V1184.61M265.50 1187.00V1182.40M266.50 1187.00V1181.10M267.50 1187.00V1181.37M268.50 1187.00V1180.53M269.50 1187.00V1177.38M270.50 1187.00V1180.68M271.50 1187.00V1182.53M272.50 1187.00V1183.14M273.50 1187.00V1182.35M274.50 1187.00V1182.64M275.50 1187.00V1181.84M276.50 1187.00V1179.38M277.50 1187.00V1178.93M278.50 1187.00V1178.46M279.50 1187.00V1174.96M280.50 1187.00V1182.76M281.50 1187.00V1182.11M282.50 1187.00V1181.69M283.50 1187.00V1182.27M284.50 1187.00V1178.17M285.50 1187.00V1179.09M286.50 1187.00V1178.86M287.50 1187.00V1177.06M288.50 1187.00V1176.89M289.50 1187.00V1179.29M290.50 1187.00V1181.53M291.50 1187.00V1180.65M292.50 1187.00V1176.43M293.50 1187.00V1183.27M294.50 1187.00V1185.73M295.50 1187.00V1185.55M296.50 1187.00V1186.30M299.50 1187.00V1186.16M304.50 1187.00V1186.28M307.50 1187.00V1186.44M311.50 1187.00V1186.23M314.50 1187.00V1186.34M322.50 1187.00V1186.31M326.50 1187.00V1186.33M327.50 1187.00V1186.39M328.50 1187.00V1186.50M329.50 1187.00V1186.17M330.50 1187.00V1186.51M332.50 1187.00V1186.54M339.50 1187.00V1185.24M340.50 1187.00V1185.10M341.50 1187.00V1186.07M342.50 1187.00V1185.38M343.50 1187.00V1185.14M344.50 1187.00V1184.66M345.50 1187.00V1183.91M346.50 1187.00V1185.20M347.50 1187.00V1183.97M348.50 1187.00V1183.21M349.50 1187.00V1183.20M350.50 1187.00V1183.94M351.50 1187.00V1182.85M352.50 1187.00V1183.15M353.50 1187.00V1183.63M354.50 1187.00V1183.37M355.50 1187.00V1185.42M356.50 1187.00V1183.39M357.50 1187.00V1184.79M358.50 1187.00V1185.47" stroke="#000" stroke-width="1" fill="none"/>
<line x1="208.90" y1="1187.40" x2="359.90" y2="1187.40" stroke="#000" stroke-width="1.0" stroke-linecap="butt" />
<path d="M208.50 1208.29V1204.83M209.50 1207.86V1206.99M210.50 1205.69V1202.88M211.50 1206.56V1205.42M212.50 1208.01V1204.33M213.50 1206.24V1196.55M214.50 1205.82V1204.83M215.50 1208.66V1204.60M216.50 1205.76V1203.68M217.50 1207.06V1206.44M218.50 1206.85V1205.33M219.50 1207.60V1206.06M220.50 1207.37V1205.10M221.50 1206.37V1205.47M222.50 1205.87V1204.84M223.50 1208.02V1206.38M224.50 1206.95V1206.05M225.50 1207.96V1205.93M226.50 1208.61V1206.15M227.50 1207.42V1202.37M228.50 1207.53V1205.72M229.50 1208.79V1207.04M230.50 1210.45V1206.77M231.50 1206.75V1202.56M232.50 1206.89V1206.00M233.50 1206.56V1205.44M234.50 1207.34V1204.30M235.50 1207.33V1205.25M236.50 1207.40V1205.57M237.50 1206.65V1205.58M238.50 1203.77V1200.80M239.50 1205.98V1198.85M240.50 1207.59V1206.82M241.50 1206.72V1199.89M242.50 1205.43V1204.25M243.50 1205.36V1204.26M244.50 1208.19V1205.24M245.50 1206.45V1204.05M246.50 1206.91V1206.09M247.50 1206.37V1204.87M248.50 1209.89V1204.44M249.50 1205.79V1203.67M250.50 1206.23V1198.84M251.50 1205.71V1203.09M252.50 1206.85V1205.80M253.50 1206.79V1204.83M254.50 1205.17V1204.36M255.50 1208.14V1205.10M256.50 1206.87V1205.17M257.50 1207.93V1206.91M258.50 1207.53V1205.70M259.50 1207.09V1200.18M260.50 1207.00V1206.40M261.50 1205.99V1198.49M262.50 1207.19V1205.38M263.50 1208.26V1205.04M264.50 1208.78V1204.88M265.50 1208.40V1205.80M266.50 1206.16V1200.84M267.50 1206.56V1205.27M268.50 1206.44V1203.17M269.50 1208.38V1206.48M270.50 1207.87V1205.44M271.50 1206.11V1203.09M272.50 1207.18V1205.57M273.50 1206.22V1205.12M274.50 1209.81V1206.27M275.50 1206.95V1205.83M276.50 1199.60V1196.96M277.50 1206.77V1206.13M278.50 1206.48V1204.79M279.50 1209.53V1207.59M280.50 1206.39V1204.38M281.50 1206.28V1205.40M282.50 1205.39V1198.21M283.50 1208.15V1206.79M284.50 1207.45V1205.83M285.50 1206.18V1204.25M286.50 1206.67V1197.38M287.50 1205.60V1201.23M288.50 1208.29V1206.00M289.50 1205.23V1200.81M290.50 1210.17V1199.12M291.50 1209.57V1207.55M292.50 1209.02V1207.63M293.50 1212.30V1211.28M294.50 1211.13V1209.97M296.50 1211.58V1208.37M299.50 1212.30V1211.21M300.50 1211.62V1210.35M303.50 1212.30V1211.42M305.50 1211.81V1211.19M306.50 1211.99V1211.49M309.50 1212.30V1211.49M310.50 1212.30V1210.64M311.50 1212.30V1211.76M313.50 1212.00V1211.45M315.50 1211.96V1211.37M317.50 1212.30V1209.26M318.50 1212.30V1211.65M321.50 1212.30V1211.24M322.50 1212.30V1211.38M323.50 1212.09V1211.58M327.50 1212.30V1211.31M333.50 1212.30V1211.36M336.50 1212.30V1211.64M337.50 1212.30V1210.46M338.50 1212.30V1211.49M341.50 1212.30V1211.64M342.50 1212.30V1211.10M343.50 1212.30V1211.71M344.50 1212.08V1210.38M345.50 1212.30V1211.54M347.50 1212.30V1211.76M348.50 1212.30V1211.63M349.50 1212.30V1211.65M351.50 1212.06V1211.32M353.50 1211.84V1211.42M354.50 1211.63V1208.44M355.50 1212.30V1211.52M237.50 1212.30V1190.30" stroke="#444" stroke-width="1" fill="none"/>
<path d="M208.50 1212.30V1208.29M209.50 1212.30V1207.86M210.50 1212.30V1205.69M211.50 1212.30V1206.56M212.50 1212.30V1208.01M213.50 1212.30V1206.24M214.50 1212.30V1205.82M215.50 1212.30V1208.66M216.50 1212.30V1205.76M217.50 1212.30V1207.06M218.50 1212.30V1206.85M219.50 1212.30V1207.60M220.50 1212.30V1207.37M221.50 1212.30V1206.37M222.50 1212.30V1205.87M223.50 1212.30V1208.02M224.50 1212.30V1206.95M225.50 1212.30V1207.96M226.50 1212.30V1208.61M227.50 1212.30V1207.42M228.50 1212.30V1207.53M229.50 1212.30V1208.79M230.50 1212.30V1210.45M231.50 1212.30V1206.75M232.50 1212.30V1206.89M233.50 1212.30V1206.56M234.50 1212.30V1207.34M235.50 1212.30V1207.33M236.50 1212.30V1207.40M237.50 1212.30V1206.65M238.50 1212.30V1203.77M239.50 1212.30V1205.98M240.50 1212.30V1207.59M241.50 1212.30V1206.72M242.50 1212.30V1205.43M243.50 1212.30V1205.36M244.50 1212.30V1208.19M245.50 1212.30V1206.45M246.50 1212.30V1206.91M247.50 1212.30V1206.37M248.50 1212.30V1209.89M249.50 1212.30V1205.79M250.50 1212.30V1206.23M251.50 1212.30V1205.71M252.50 1212.30V1206.85M253.50 1212.30V1206.79M254.50 1212.30V1205.17M255.50 1212.30V1208.14M256.50 1212.30V1206.87M257.50 1212.30V1207.93M258.50 1212.30V1207.53M259.50 1212.30V1207.09M260.50 1212.30V1207.00M261.50 1212.30V1205.99M262.50 1212.30V1207.19M263.50 1212.30V1208.26M264.50 1212.30V1208.78M265.50 1212.30V1208.40M266.50 1212.30V1206.16M267.50 1212.30V1206.56M268.50 1212.30V1206.44M269.50 1212.30V1208.38M270.50 1212.30V1207.87M271.50 1212.30V1206.11M272.50 1212.30V1207.18M273.50 1212.30V1206.22M274.50 1212.30V1209.81M275.50 1212.30V1206.95M276.50 1212.30V1199.60M277.50 1212.30V1206.77M278.50 1212.30V1206.48M279.50 1212.30V1209.53M280.50 1212.30V1206.39M281.50 1212.30V1206.28M282.50 1212.30V1205.39M283.50 1212.30V1208.15M284.50 1212.30V1207.45M285.50 1212.30V1206.18M286.50 1212.30V1206.67M287.50 1212.30V1205.60M288.50 1212.30V1208.29M289.50 1212.30V1205.23M290.50 1212.30V1210.17M291.50 1212.30V1209.57M292.50 1212.30V1209.02M294.50 1212.30V1211.13M296.50 1212.30V1211.58M300.50 1212.30V1211.62M302.50 1212.30V1211.65M304.50 1212.30V1211.51M305.50 1212.30V1211.81M307.50 1212.30V1211.65M312.50 1212.30V1211.81M316.50 1212.30V1211.56M319.50 1212.30V1211.90M324.50 1212.30V1211.62M326.50 1212.30V1211.53M329.50 1212.30V1211.66M331.50 1212.30V1211.83M339.50 1212.30V1211.65M353.50 1212.30V1211.84M354.50 1212.30V1211.63M357.50 1212.30V1211.40M358.50 1212.30V1211.84" stroke="#000" stroke-width="1" fill="none"/>
<line x1="208.90" y1="1212.70" x2="359.90" y2="1212.70" stroke="#000" stroke-width="1.0" stroke-linecap="butt" />
<path d="M208.50 1235.03V1232.61M209.50 1234.73V1232.74M210.50 1234.01V1233.45M211.50 1235.13V1234.69M212.50 1235.61V1232.20M214.50 1235.44V1233.23M215.50 1233.67V1231.87M216.50 1231.62V1229.03M217.50 1234.00V1232.85M218.50 1232.82V1228.29M219.50 1233.80V1233.22M220.50 1234.47V1233.32M221.50 1234.43V1226.94M222.50 1233.57V1231.96M223.50 1233.49V1232.34M224.50 1234.84V1232.44M225.50 1236.05V1234.78M226.50 1232.94V1226.94M227.50 1234.66V1233.83M228.50 1232.98V1229.93M229.50 1233.62V1233.17M230.50 1234.03V1233.05M231.50 1234.00V1233.12M232.50 1234.51V1233.86M233.50 1233.27V1232.53M234.50 1234.65V1232.15M235.50 1233.94V1232.46M236.50 1232.15V1228.23M237.50 1234.14V1227.26M238.50 1232.91V1227.75M239.50 1233.72V1231.61M240.50 1234.14V1232.93M241.50 1233.18V1232.64M242.50 1233.93V1232.64M243.50 1233.55V1231.60M244.50 1233.73V1232.79M245.50 1233.18V1229.51M246.50 1233.57V1226.79M247.50 1233.60V1230.36M248.50 1233.40V1232.66M249.50 1235.32V1232.41M250.50 1234.48V1229.19M251.50 1235.38V1234.12M252.50 1232.87V1226.97M253.50 1235.21V1234.57M254.50 1234.06V1232.69M255.50 1234.37V1232.78M256.50 1233.45V1232.77M257.50 1233.97V1232.45M258.50 1234.16V1232.36M259.50 1234.83V1232.94M260.50 1233.06V1230.12M261.50 1232.72V1232.14M262.50 1232.81V1231.99M263.50 1234.44V1230.71M264.50 1232.67V1229.69M265.50 1235.88V1234.24M266.50 1234.33V1231.95M267.50 1233.66V1233.02M268.50 1233.84V1233.30M269.50 1233.74V1229.54M270.50 1234.23V1232.78M271.50 1233.70V1232.75M272.50 1235.12V1234.05M273.50 1233.54V1232.84M274.50 1234.84V1232.93M275.50 1234.79V1231.82M276.50 1234.14V1232.96M277.50 1233.30V1232.83M278.50 1234.04V1227.75M279.50 1233.22V1230.03M280.50 1234.80V1233.53M281.50 1233.61V1232.65M282.50 1234.28V1233.57M283.50 1234.26V1233.46M284.50 1234.51V1232.75M285.50 1233.66V1233.17M286.50 1233.91V1227.98M287.50 1233.77V1232.03M288.50 1233.55V1232.58M289.50 1234.20V1233.04M290.50 1235.59V1234.83M291.50 1234.71V1234.27M292.50 1236.03V1235.50M293.50 1237.30V1235.23M295.50 1237.30V1236.15M297.50 1237.30V1236.81M298.50 1237.30V1236.26M299.50 1237.30V1236.70M300.50 1237.30V1236.77M301.50 1236.33V1233.03M303.50 1237.30V1236.72M304.50 1237.30V1236.45M306.50 1237.30V1236.80M309.50 1236.94V1234.51M317.50 1237.30V1236.67M318.50 1237.30V1236.55M320.50 1237.05V1236.55M321.50 1236.48V1234.91M322.50 1237.30V1236.55M323.50 1237.30V1236.34M326.50 1237.30V1236.84M330.50 1236.84V1236.29M331.50 1237.30V1236.87M332.50 1237.04V1236.53M336.50 1236.92V1236.41M337.50 1237.30V1236.48M338.50 1237.30V1236.82M339.50 1237.30V1236.73M341.50 1236.61V1234.17M343.50 1237.30V1236.64M346.50 1237.30V1236.64M348.50 1237.30V1236.33M351.50 1237.30V1236.55M354.50 1237.30V1236.45M358.50 1237.05V1236.44" stroke="#444" stroke-width="1" fill="none"/>
<path d="M208.50 1237.30V1235.03M209.50 1237.30V1234.73M210.50 1237.30V1234.01M211.50 1237.30V1235.13M212.50 1237.30V1235.61M213.50 1237.30V1234.07M214.50 1237.30V1235.44M215.50 1237.30V1233.67M216.50 1237.30V1231.62M217.50 1237.30V1234.00M218.50 1237.30V1232.82M219.50 1237.30V1233.80M220.50 1237.30V1234.47M221.50 1237.30V1234.43M222.50 1237.30V1233.57M223.50 1237.30V1233.49M224.50 1237.30V1234.84M225.50 1237.30V1236.05M226.50 1237.30V1232.94M227.50 1237.30V1234.66M228.50 1237.30V1232.98M229.50 1237.30V1233.62M230.50 1237.30V1234.03M231.50 1237.30V1234.00M232.50 1237.30V1234.51M233.50 1237.30V1233.27M234.50 1237.30V1234.65M235.50 1237.30V1233.94M236.50 1237.30V1232.15M237.50 1237.30V1234.14M238.50 1237.30V1232.91M239.50 1237.30V1233.72M240.50 1237.30V1234.14M241.50 1237.30V1233.18M242.50 1237.30V1233.93M243.50 1237.30V1233.55M244.50 1237.30V1233.73M245.50 1237.30V1233.18M246.50 1237.30V1233.57M247.50 1237.30V1233.60M248.50 1237.30V1233.40M249.50 1237.30V1235.32M250.50 1237.30V1234.48M251.50 1237.30V1235.38M252.50 1237.30V1232.87M253.50 1237.30V1235.21M254.50 1237.30V1234.06M255.50 1237.30V1234.37M256.50 1237.30V1233.45M257.50 1237.30V1233.97M258.50 1237.30V1234.16M259.50 1237.30V1234.83M260.50 1237.30V1233.06M261.50 1237.30V1232.72M262.50 1237.30V1232.81M263.50 1237.30V1234.44M264.50 1237.30V1232.67M265.50 1237.30V1235.88M266.50 1237.30V1234.33M267.50 1237.30V1233.66M268.50 1237.30V1233.84M269.50 1237.30V1233.74M270.50 1237.30V1234.23M271.50 1237.30V1233.70M272.50 1237.30V1235.12M273.50 1237.30V1233.54M274.50 1237.30V1234.84M275.50 1237.30V1234.79M276.50 1237.30V1234.14M277.50 1237.30V1233.30M278.50 1237.30V1234.04M279.50 1237.30V1233.22M280.50 1237.30V1234.80M281.50 1237.30V1233.61M282.50 1237.30V1234.28M283.50 1237.30V1234.26M284.50 1237.30V1234.51M285.50 1237.30V1233.66M286.50 1237.30V1233.91M287.50 1237.30V1233.77M288.50 1237.30V1233.55M289.50 1237.30V1234.20M290.50 1237.30V1235.59M291.50 1237.30V1234.71M292.50 1237.30V1236.03M296.50 1237.30V1236.71M301.50 1237.30V1236.33M308.50 1237.30V1236.85M321.50 1237.30V1236.48M330.50 1237.30V1236.84M333.50 1237.30V1236.69M341.50 1237.30V1236.61M342.50 1237.30V1236.87M345.50 1237.30V1236.19M347.50 1237.30V1236.81M353.50 1237.30V1236.63M356.50 1237.30V1236.77M357.50 1237.30V1236.58" stroke="#000" stroke-width="1" fill="none"/>
<line x1="208.90" y1="1237.70" x2="359.90" y2="1237.70" stroke="#000" stroke-width="1.0" stroke-linecap="butt" />
<path d="M380.50 1102.35V1095.97M381.50 1103.25V1101.50M382.50 1106.88V1105.91M383.50 1106.37V1105.72M384.50 1106.87V1102.05M385.50 1102.77V1101.40M386.50 1107.45V1103.65M387.50 1104.98V1101.33M388.50 1101.74V1098.65M389.50 1102.49V1092.75M390.50 1106.87V1106.00M391.50 1106.82V1104.62M392.50 1102.03V1100.33M393.50 1106.52V1104.50M394.50 1106.20V1104.49M395.50 1108.29V1102.93M396.50 1108.85V1103.28M397.50 1103.54V1102.04M398.50 1104.22V1097.48M399.50 1106.95V1103.68M400.50 1104.93V1099.64M401.50 1104.04V1094.99M402.50 1104.64V1097.50M403.50 1107.78V1103.76M404.50 1108.32V1104.91M405.50 1106.14V1104.67M406.50 1103.65V1095.27M407.50 1108.06V1103.21M408.50 1108.60V1103.38M409.50 1104.85V1097.90M410.50 1102.94V1092.80M411.50 1107.37V1103.18M412.50 1106.69V1102.93M413.50 1105.61V1104.07M414.50 1105.78V1103.74M415.50 1105.59V1104.40M416.50 1104.46V1103.11M417.50 1106.97V1104.18M418.50 1105.37V1101.82M419.50 1104.20V1101.92M420.50 1106.97V1106.08M421.50 1108.50V1103.56M422.50 1104.85V1102.92M423.50 1104.98V1103.94M424.50 1103.53V1093.73M425.50 1106.22V1104.41M426.50 1106.07V1104.27M427.50 1104.19V1102.51M428.50 1107.61V1102.42M429.50 1102.94V1101.33M430.50 1104.74V1103.10M431.50 1107.30V1103.50M432.50 1104.37V1100.34M433.50 1104.30V1101.64M434.50 1106.98V1104.81M435.50 1107.65V1101.30M436.50 1106.82V1104.72M437.50 1102.54V1093.55M438.50 1104.22V1101.50M439.50 1101.68V1098.80M440.50 1101.64V1099.28M441.50 1105.38V1098.25M442.50 1104.38V1100.48M443.50 1107.05V1105.48M444.50 1102.10V1100.46M445.50 1104.10V1100.60M446.50 1107.31V1106.17M447.50 1100.64V1098.71M448.50 1105.66V1098.84M449.50 1101.44V1098.92M450.50 1102.21V1097.64M451.50 1098.35V1096.19M452.50 1104.23V1094.73M453.50 1103.86V1102.29M454.50 1101.19V1099.22M455.50 1104.93V1103.04M456.50 1101.54V1098.11M457.50 1106.48V1098.01M458.50 1104.26V1098.08M459.50 1101.14V1096.86M460.50 1099.58V1088.88M461.50 1101.43V1100.04M462.50 1108.50V1103.69M463.50 1112.00V1106.22M464.50 1112.00V1110.44M465.50 1110.90V1110.43M466.50 1112.00V1111.22M470.50 1112.00V1111.13M473.50 1112.00V1111.04M474.50 1112.00V1110.91M475.50 1112.00V1111.25M476.50 1112.00V1111.33M478.50 1112.00V1110.69M479.50 1111.70V1111.10M481.50 1112.00V1111.42M483.50 1112.00V1110.23M484.50 1112.00V1111.60M486.50 1111.40V1107.28M490.50 1111.31V1107.97M491.50 1112.00V1111.26M493.50 1111.47V1110.89M497.50 1112.00V1110.88M498.50 1112.00V1110.94M499.50 1111.60V1110.83M500.50 1112.00V1111.23M503.50 1111.29V1110.74M504.50 1112.00V1111.07M505.50 1112.00V1110.97M506.50 1111.03V1108.58M508.50 1111.59V1110.98M510.50 1112.00V1110.90M511.50 1112.00V1111.25M512.50 1112.00V1111.22M513.50 1112.00V1111.10M516.50 1111.34V1108.87M519.50 1112.00V1111.44M520.50 1112.00V1111.42M521.50 1112.00V1111.03M522.50 1111.33V1109.56M523.50 1111.72V1111.11M528.50 1111.00V1109.15M529.50 1112.00V1111.09M385.50 1112.00V1090.00M427.50 1112.00V1089.00M456.50 1112.00V1089.00" stroke="#444" stroke-width="1" fill="none"/>
<path d="M380.50 1112.00V1102.35M381.50 1112.00V1103.25M382.50 1112.00V1106.88M383.50 1112.00V1106.37M384.50 1112.00V1106.87M385.50 1112.00V1102.77M386.50 1112.00V1107.45M387.50 1112.00V1104.98M388.50 1112.00V1101.74M389.50 1112.00V1102.49M390.50 1112.00V1106.87M391.50 1112.00V1106.82M392.50 1112.00V1102.03M393.50 1112.00V1106.52M394.50 1112.00V1106.20M395.50 1112.00V1108.29M396.50 1112.00V1108.85M397.50 1112.00V1103.54M398.50 1112.00V1104.22M399.50 1112.00V1106.95M400.50 1112.00V1104.93M401.50 1112.00V1104.04M402.50 1112.00V1104.64M403.50 1112.00V1107.78M404.50 1112.00V1108.32M405.50 1112.00V1106.14M406.50 1112.00V1103.65M407.50 1112.00V1108.06M408.50 1112.00V1108.60M409.50 1112.00V1104.85M410.50 1112.00V1102.94M411.50 1112.00V1107.37M412.50 1112.00V1106.69M413.50 1112.00V1105.61M414.50 1112.00V1105.78M415.50 1112.00V1105.59M416.50 1112.00V1104.46M417.50 1112.00V1106.97M418.50 1112.00V1105.37M419.50 1112.00V1104.20M420.50 1112.00V1106.97M421.50 1112.00V1108.50M422.50 1112.00V1104.85M423.50 1112.00V1104.98M424.50 1112.00V1103.53M425.50 1112.00V1106.22M426.50 1112.00V1106.07M427.50 1112.00V1104.19M428.50 1112.00V1107.61M429.50 1112.00V1102.94M430.50 1112.00V1104.74M431.50 1112.00V1107.30M432.50 1112.00V1104.37M433.50 1112.00V1104.30M434.50 1112.00V1106.98M435.50 1112.00V1107.65M436.50 1112.00V1106.82M437.50 1112.00V1102.54M438.50 1112.00V1104.22M439.50 1112.00V1101.68M440.50 1112.00V1101.64M441.50 1112.00V1105.38M442.50 1112.00V1104.38M443.50 1112.00V1107.05M444.50 1112.00V1102.10M445.50 1112.00V1104.10M446.50 1112.00V1107.31M447.50 1112.00V1100.64M448.50 1112.00V1105.66M449.50 1112.00V1101.44M450.50 1112.00V1102.21M451.50 1112.00V1098.35M452.50 1112.00V1104.23M453.50 1112.00V1103.86M454.50 1112.00V1101.19M455.50 1112.00V1104.93M456.50 1112.00V1101.54M457.50 1112.00V1106.48M458.50 1112.00V1104.26M459.50 1112.00V1101.14M460.50 1112.00V1099.58M461.50 1112.00V1101.43M462.50 1112.00V1108.50M465.50 1112.00V1110.90M468.50 1112.00V1111.41M471.50 1112.00V1111.11M477.50 1112.00V1111.59M480.50 1112.00V1110.91M486.50 1112.00V1111.40M487.50 1112.00V1111.28M488.50 1112.00V1111.15M490.50 1112.00V1111.31M493.50 1112.00V1111.47M496.50 1112.00V1111.44M502.50 1112.00V1111.13M503.50 1112.00V1111.29M506.50 1112.00V1111.03M508.50 1112.00V1111.59M516.50 1112.00V1111.34M522.50 1112.00V1111.33M524.50 1112.00V1111.25M527.50 1112.00V1111.00M528.50 1112.00V1111.00" stroke="#000" stroke-width="1" fill="none"/>
<line x1="380.80" y1="1112.40" x2="531.70" y2="1112.40" stroke="#000" stroke-width="1.0" stroke-linecap="butt" />
<path d="M380.50 1129.41V1127.45M381.50 1130.76V1129.57M382.50 1129.44V1128.47M383.50 1127.45V1126.27M384.50 1128.02V1126.66M385.50 1131.54V1129.49M386.50 1129.70V1127.03M387.50 1127.09V1125.90M388.50 1128.64V1126.83M389.50 1129.78V1128.62M390.50 1127.66V1126.29M391.50 1130.78V1127.93M392.50 1129.40V1126.78M393.50 1128.40V1126.66M394.50 1132.63V1129.31M395.50 1131.97V1126.46M396.50 1131.11V1124.85M397.50 1128.91V1126.96M398.50 1128.76V1120.34M399.50 1131.13V1128.66M400.50 1130.18V1127.34M401.50 1131.53V1129.78M402.50 1132.69V1128.35M403.50 1131.71V1121.88M404.50 1131.22V1128.50M405.50 1131.26V1130.11M406.50 1129.59V1124.15M407.50 1125.47V1122.34M408.50 1131.91V1130.75M409.50 1130.44V1127.06M410.50 1129.78V1128.78M411.50 1127.89V1123.67M412.50 1131.06V1128.55M413.50 1130.48V1117.45M414.50 1128.06V1126.58M415.50 1129.00V1127.50M416.50 1128.46V1119.26M417.50 1131.84V1130.03M418.50 1131.34V1127.26M419.50 1133.38V1128.85M420.50 1132.48V1128.16M421.50 1133.81V1127.95M422.50 1132.40V1127.68M423.50 1133.63V1126.73M424.50 1130.29V1117.97M425.50 1129.02V1127.51M426.50 1128.00V1118.39M427.50 1129.21V1125.01M428.50 1128.65V1118.99M429.50 1132.60V1128.76M430.50 1130.95V1127.97M431.50 1130.11V1126.47M432.50 1130.66V1127.30M433.50 1131.36V1129.81M434.50 1127.57V1122.48M435.50 1129.73V1126.61M436.50 1130.69V1127.69M437.50 1128.32V1124.81M438.50 1126.15V1123.96M439.50 1125.36V1119.09M440.50 1129.49V1128.25M441.50 1126.29V1124.34M442.50 1130.07V1120.04M443.50 1126.50V1122.59M444.50 1127.59V1124.32M445.50 1130.92V1126.92M446.50 1130.13V1123.65M447.50 1127.47V1122.40M448.50 1130.85V1128.01M449.50 1131.25V1128.34M450.50 1129.11V1127.51M451.50 1126.92V1113.59M452.50 1129.22V1114.22M453.50 1127.62V1120.98M454.50 1126.44V1122.56M455.50 1126.96V1118.96M456.50 1126.11V1124.61M457.50 1128.78V1116.09M458.50 1128.59V1127.36M459.50 1131.10V1114.03M460.50 1128.32V1126.54M461.50 1129.24V1128.11M462.50 1134.49V1130.40M463.50 1133.24V1131.77M464.50 1137.30V1134.24M468.50 1137.30V1136.45M475.50 1137.30V1136.69M477.50 1137.30V1134.99M483.50 1137.30V1136.56M484.50 1137.30V1136.86M487.50 1137.30V1136.81M490.50 1137.30V1136.67M492.50 1137.30V1136.44M494.50 1136.92V1134.05M496.50 1136.98V1136.44M497.50 1137.30V1136.23M500.50 1136.00V1133.83M501.50 1137.30V1136.44M502.50 1136.65V1134.14M503.50 1137.30V1136.49M504.50 1137.30V1136.39M505.50 1137.30V1136.59M507.50 1137.30V1136.85M508.50 1137.30V1136.53M514.50 1137.30V1136.64M515.50 1137.30V1136.24M518.50 1137.30V1136.47M520.50 1137.30V1136.64M522.50 1137.30V1136.67M525.50 1137.30V1136.90M527.50 1137.30V1136.56M528.50 1137.30V1136.73M529.50 1137.30V1136.85M530.50 1137.30V1136.78M525.50 1137.30V1124.30" stroke="#444" stroke-width="1" fill="none"/>
<path d="M380.50 1137.30V1129.41M381.50 1137.30V1130.76M382.50 1137.30V1129.44M383.50 1137.30V1127.45M384.50 1137.30V1128.02M385.50 1137.30V1131.54M386.50 1137.30V1129.70M387.50 1137.30V1127.09M388.50 1137.30V1128.64M389.50 1137.30V1129.78M390.50 1137.30V1127.66M391.50 1137.30V1130.78M392.50 1137.30V1129.40M393.50 1137.30V1128.40M394.50 1137.30V1132.63M395.50 1137.30V1131.97M396.50 1137.30V1131.11M397.50 1137.30V1128.91M398.50 1137.30V1128.76M399.50 1137.30V1131.13M400.50 1137.30V1130.18M401.50 1137.30V1131.53M402.50 1137.30V1132.69M403.50 1137.30V1131.71M404.50 1137.30V1131.22M405.50 1137.30V1131.26M406.50 1137.30V1129.59M407.50 1137.30V1125.47M408.50 1137.30V1131.91M409.50 1137.30V1130.44M410.50 1137.30V1129.78M411.50 1137.30V1127.89M412.50 1137.30V1131.06M413.50 1137.30V1130.48M414.50 1137.30V1128.06M415.50 1137.30V1129.00M416.50 1137.30V1128.46M417.50 1137.30V1131.84M418.50 1137.30V1131.34M419.50 1137.30V1133.38M420.50 1137.30V1132.48M421.50 1137.30V1133.81M422.50 1137.30V1132.40M423.50 1137.30V1133.63M424.50 1137.30V1130.29M425.50 1137.30V1129.02M426.50 1137.30V1128.00M427.50 1137.30V1129.21M428.50 1137.30V1128.65M429.50 1137.30V1132.60M430.50 1137.30V1130.95M431.50 1137.30V1130.11M432.50 1137.30V1130.66M433.50 1137.30V1131.36M434.50 1137.30V1127.57M435.50 1137.30V1129.73M436.50 1137.30V1130.69M437.50 1137.30V1128.32M438.50 1137.30V1126.15M439.50 1137.30V1125.36M440.50 1137.30V1129.49M441.50 1137.30V1126.29M442.50 1137.30V1130.07M443.50 1137.30V1126.50M444.50 1137.30V1127.59M445.50 1137.30V1130.92M446.50 1137.30V1130.13M447.50 1137.30V1127.47M448.50 1137.30V1130.85M449.50 1137.30V1131.25M450.50 1137.30V1129.11M451.50 1137.30V1126.92M452.50 1137.30V1129.22M453.50 1137.30V1127.62M454.50 1137.30V1126.44M455.50 1137.30V1126.96M456.50 1137.30V1126.11M457.50 1137.30V1128.78M458.50 1137.30V1128.59M459.50 1137.30V1131.10M460.50 1137.30V1128.32M461.50 1137.30V1129.24M462.50 1137.30V1134.49M463.50 1137.30V1133.24M470.50 1137.30V1136.65M472.50 1137.30V1136.59M474.50 1137.30V1136.70M481.50 1137.30V1136.73M500.50 1137.30V1136.00M502.50 1137.30V1136.65M516.50 1137.30V1136.66M517.50 1137.30V1136.33M519.50 1137.30V1136.87M521.50 1137.30V1136.53" stroke="#000" stroke-width="1" fill="none"/>
<line x1="380.80" y1="1137.70" x2="531.70" y2="1137.70" stroke="#000" stroke-width="1.0" stroke-linecap="butt" />
<path d="M380.50 1156.07V1155.19M381.50 1156.36V1155.08M382.50 1156.35V1155.06M383.50 1155.03V1153.07M384.50 1155.26V1153.64M385.50 1149.33V1142.45M386.50 1156.04V1153.30M387.50 1157.32V1153.58M388.50 1158.80V1157.51M389.50 1156.66V1155.51M390.50 1159.23V1156.51M391.50 1159.60V1154.12M392.50 1158.93V1157.35M393.50 1156.72V1153.44M394.50 1157.73V1152.76M395.50 1154.37V1153.37M396.50 1155.66V1152.16M397.50 1157.34V1154.00M398.50 1157.67V1157.03M399.50 1155.49V1154.41M400.50 1158.14V1155.38M401.50 1155.21V1147.14M402.50 1157.89V1154.98M403.50 1159.28V1156.71M404.50 1158.89V1156.45M405.50 1149.51V1147.31M406.50 1156.06V1154.99M407.50 1154.05V1151.92M408.50 1158.24V1155.58M409.50 1153.29V1145.38M410.50 1158.14V1155.95M411.50 1158.08V1151.59M412.50 1154.37V1153.01M413.50 1158.33V1155.91M414.50 1155.70V1143.28M415.50 1155.80V1153.92M416.50 1154.02V1152.50M417.50 1158.30V1152.71M418.50 1148.10V1143.12M419.50 1157.18V1155.18M420.50 1157.21V1153.84M421.50 1155.44V1154.36M422.50 1157.74V1155.24M423.50 1158.46V1155.53M424.50 1150.61V1148.59M425.50 1149.36V1147.88M426.50 1158.95V1154.75M427.50 1157.76V1154.14M428.50 1158.17V1156.67M429.50 1154.75V1153.35M430.50 1156.09V1153.66M431.50 1157.09V1154.10M432.50 1157.82V1145.34M433.50 1155.39V1153.31M434.50 1155.83V1154.46M435.50 1155.46V1154.07M436.50 1157.48V1155.27M437.50 1156.50V1142.83M438.50 1155.90V1152.79M439.50 1156.48V1152.44M440.50 1148.69V1141.80M441.50 1155.19V1149.46M442.50 1155.50V1149.19M443.50 1149.05V1138.67M444.50 1149.68V1147.26M445.50 1151.97V1150.44M446.50 1151.75V1139.54M447.50 1154.21V1145.94M448.50 1157.41V1149.46M449.50 1150.42V1146.05M450.50 1154.49V1147.73M451.50 1153.43V1144.22M452.50 1148.77V1142.81M453.50 1156.05V1149.87M454.50 1148.16V1146.33M455.50 1149.07V1145.57M456.50 1155.92V1147.70M457.50 1148.79V1146.45M458.50 1152.28V1150.59M459.50 1156.61V1148.10M460.50 1150.47V1144.06M461.50 1151.72V1139.48M463.50 1160.16V1158.44M464.50 1162.30V1159.61M465.50 1160.48V1159.30M468.50 1162.30V1161.75M471.50 1161.68V1160.70M474.50 1162.30V1161.71M477.50 1162.30V1161.53M482.50 1162.30V1160.64M483.50 1162.30V1161.74M486.50 1162.15V1161.23M487.50 1162.30V1160.15M490.50 1162.30V1161.90M491.50 1162.03V1161.32M499.50 1162.30V1161.80M500.50 1161.92V1161.06M504.50 1162.30V1161.90M505.50 1161.59V1159.76M506.50 1162.30V1161.70M509.50 1162.30V1161.59M513.50 1162.30V1161.65M516.50 1162.30V1161.87M517.50 1162.30V1161.85M521.50 1161.74V1160.14M526.50 1162.30V1161.48M383.50 1162.30V1139.30M496.50 1162.30V1152.30M527.50 1162.30V1142.30M527.50 1162.30V1140.30M528.50 1162.30V1146.30M529.50 1162.30V1150.30" stroke="#444" stroke-width="1" fill="none"/>
<path d="M380.50 1162.30V1156.07M381.50 1162.30V1156.36M382.50 1162.30V1156.35M383.50 1162.30V1155.03M384.50 1162.30V1155.26M385.50 1162.30V1149.33M386.50 1162.30V1156.04M387.50 1162.30V1157.32M388.50 1162.30V1158.80M389.50 1162.30V1156.66M390.50 1162.30V1159.23M391.50 1162.30V1159.60M392.50 1162.30V1158.93M393.50 1162.30V1156.72M394.50 1162.30V1157.73M395.50 1162.30V1154.37M396.50 1162.30V1155.66M397.50 1162.30V1157.34M398.50 1162.30V1157.67M399.50 1162.30V1155.49M400.50 1162.30V1158.14M401.50 1162.30V1155.21M402.50 1162.30V1157.89M403.50 1162.30V1159.28M404.50 1162.30V1158.89M405.50 1162.30V1149.51M406.50 1162.30V1156.06M407.50 1162.30V1154.05M408.50 1162.30V1158.24M409.50 1162.30V1153.29M410.50 1162.30V1158.14M411.50 1162.30V1158.08M412.50 1162.30V1154.37M413.50 1162.30V1158.33M414.50 1162.30V1155.70M415.50 1162.30V1155.80M416.50 1162.30V1154.02M417.50 1162.30V1158.30M418.50 1162.30V1148.10M419.50 1162.30V1157.18M420.50 1162.30V1157.21M421.50 1162.30V1155.44M422.50 1162.30V1157.74M423.50 1162.30V1158.46M424.50 1162.30V1150.61M425.50 1162.30V1149.36M426.50 1162.30V1158.95M427.50 1162.30V1157.76M428.50 1162.30V1158.17M429.50 1162.30V1154.75M430.50 1162.30V1156.09M431.50 1162.30V1157.09M432.50 1162.30V1157.82M433.50 1162.30V1155.39M434.50 1162.30V1155.83M435.50 1162.30V1155.46M436.50 1162.30V1157.48M437.50 1162.30V1156.50M438.50 1162.30V1155.90M439.50 1162.30V1156.48M440.50 1162.30V1148.69M441.50 1162.30V1155.19M442.50 1162.30V1155.50M443.50 1162.30V1149.05M444.50 1162.30V1149.68M445.50 1162.30V1151.97M446.50 1162.30V1151.75M447.50 1162.30V1154.21M448.50 1162.30V1157.41M449.50 1162.30V1150.42M450.50 1162.30V1154.49M451.50 1162.30V1153.43M452.50 1162.30V1148.77M453.50 1162.30V1156.05M454.50 1162.30V1148.16M455.50 1162.30V1149.07M456.50 1162.30V1155.92M457.50 1162.30V1148.79M458.50 1162.30V1152.28M459.50 1162.30V1156.61M460.50 1162.30V1150.47M461.50 1162.30V1151.72M463.50 1162.30V1160.16M465.50 1162.30V1160.48M469.50 1162.30V1161.82M471.50 1162.30V1161.68M479.50 1162.30V1161.71M485.50 1162.30V1161.77M489.50 1162.30V1161.84M493.50 1162.30V1161.89M494.50 1162.30V1161.67M497.50 1162.30V1161.83M498.50 1162.30V1161.76M505.50 1162.30V1161.59M512.50 1162.30V1161.70M514.50 1162.30V1161.74M519.50 1162.30V1161.69M521.50 1162.30V1161.74M529.50 1162.30V1161.65" stroke="#000" stroke-width="1" fill="none"/>
<line x1="380.80" y1="1162.70" x2="531.70" y2="1162.70" stroke="#000" stroke-width="1.0" stroke-linecap="butt" />
<path d="M380.50 1184.51V1183.72M381.50 1185.26V1183.44M382.50 1184.65V1183.16M383.50 1183.62V1182.02M384.50 1184.63V1183.39M385.50 1185.07V1183.39M386.50 1184.84V1183.09M387.50 1183.46V1182.79M388.50 1184.63V1183.54M389.50 1184.62V1183.43M390.50 1184.80V1183.71M391.50 1183.33V1181.45M392.50 1185.78V1184.45M393.50 1184.96V1182.80M394.50 1183.70V1183.11M395.50 1183.62V1182.91M396.50 1183.12V1180.39M397.50 1185.25V1184.12M398.50 1183.73V1183.02M399.50 1184.76V1183.18M400.50 1184.30V1183.80M401.50 1184.16V1183.49M402.50 1185.41V1184.21M403.50 1184.12V1183.65M404.50 1184.41V1183.32M405.50 1184.25V1183.66M406.50 1183.84V1183.13M407.50 1184.53V1183.85M408.50 1183.80V1183.12M409.50 1184.39V1183.81M410.50 1184.03V1183.49M411.50 1180.13V1179.30M412.50 1183.63V1183.16M413.50 1187.00V1185.46M414.50 1183.92V1183.42M416.50 1184.96V1184.10M419.50 1184.32V1183.92M420.50 1185.09V1183.75M421.50 1184.36V1180.94M422.50 1185.13V1184.63M423.50 1183.02V1179.72M424.50 1181.52V1179.53M425.50 1181.77V1180.77M426.50 1181.96V1179.87M427.50 1184.35V1178.13M428.50 1177.25V1174.98M429.50 1180.10V1179.00M430.50 1178.64V1176.52M431.50 1176.04V1173.57M432.50 1177.55V1176.17M433.50 1177.79V1176.41M434.50 1179.91V1178.11M435.50 1179.51V1175.91M436.50 1180.18V1175.69M437.50 1181.56V1173.18M438.50 1181.29V1177.06M439.50 1176.81V1168.14M440.50 1182.33V1179.53M441.50 1180.92V1168.39M442.50 1179.02V1168.18M443.50 1180.95V1177.93M444.50 1178.92V1172.16M445.50 1182.93V1179.10M446.50 1178.85V1174.96M447.50 1177.00V1175.57M448.50 1176.18V1173.25M449.50 1182.02V1175.12M450.50 1180.71V1179.24M451.50 1179.54V1175.91M452.50 1182.13V1176.39M453.50 1182.66V1168.11M454.50 1177.64V1172.98M455.50 1179.61V1178.40M456.50 1181.66V1176.82M457.50 1178.88V1174.31M458.50 1180.38V1178.80M459.50 1179.78V1178.55M460.50 1175.97V1174.35M461.50 1179.56V1175.08M462.50 1177.11V1173.72M463.50 1178.37V1175.66M464.50 1178.68V1177.16M465.50 1175.90V1172.62M466.50 1179.77V1176.44M467.50 1178.66V1168.85M468.50 1178.53V1175.56M469.50 1180.63V1175.77M470.50 1179.24V1175.62M471.50 1175.99V1171.04M472.50 1182.03V1177.83M473.50 1183.48V1179.26M474.50 1184.81V1182.75M476.50 1187.00V1185.03M477.50 1187.00V1183.75M478.50 1187.00V1185.94M480.50 1185.94V1184.44M481.50 1187.00V1186.00M482.50 1186.34V1184.35M483.50 1186.73V1183.82M485.50 1187.00V1186.21M486.50 1186.58V1185.84M488.50 1187.00V1186.42M489.50 1187.00V1186.35M490.50 1187.00V1185.98M491.50 1186.67V1186.27M492.50 1186.36V1183.21M494.50 1187.00V1185.86M497.50 1186.72V1185.90M498.50 1185.91V1184.16M501.50 1186.58V1186.15M502.50 1187.00V1183.89M505.50 1186.40V1185.77M506.50 1186.72V1186.27M508.50 1186.29V1183.88M509.50 1186.20V1185.15M511.50 1187.00V1186.10M514.50 1186.67V1185.85M516.50 1186.24V1185.66M518.50 1186.47V1186.06M520.50 1187.00V1185.91M522.50 1186.57V1185.97M523.50 1187.00V1185.85M526.50 1187.00V1186.11M528.50 1186.64V1185.80M529.50 1187.00V1185.92M530.50 1186.16V1185.73" stroke="#444" stroke-width="1" fill="none"/>
<path d="M380.50 1187.00V1184.51M381.50 1187.00V1185.26M382.50 1187.00V1184.65M383.50 1187.00V1183.62M384.50 1187.00V1184.63M385.50 1187.00V1185.07M386.50 1187.00V1184.84M387.50 1187.00V1183.46M388.50 1187.00V1184.63M389.50 1187.00V1184.62M390.50 1187.00V1184.80M391.50 1187.00V1183.33M392.50 1187.00V1185.78M393.50 1187.00V1184.96M394.50 1187.00V1183.70M395.50 1187.00V1183.62M396.50 1187.00V1183.12M397.50 1187.00V1185.25M398.50 1187.00V1183.73M399.50 1187.00V1184.76M400.50 1187.00V1184.30M401.50 1187.00V1184.16M402.50 1187.00V1185.41M403.50 1187.00V1184.12M404.50 1187.00V1184.41M405.50 1187.00V1184.25M406.50 1187.00V1183.84M407.50 1187.00V1184.53M408.50 1187.00V1183.80M409.50 1187.00V1184.39M410.50 1187.00V1184.03M411.50 1187.00V1180.13M412.50 1187.00V1183.63M414.50 1187.00V1183.92M415.50 1187.00V1184.23M416.50 1187.00V1184.96M417.50 1187.00V1184.75M418.50 1187.00V1184.28M419.50 1187.00V1184.32M420.50 1187.00V1185.09M421.50 1187.00V1184.36M422.50 1187.00V1185.13M423.50 1187.00V1183.02M424.50 1187.00V1181.52M425.50 1187.00V1181.77M426.50 1187.00V1181.96M427.50 1187.00V1184.35M428.50 1187.00V1177.25M429.50 1187.00V1180.10M430.50 1187.00V1178.64M431.50 1187.00V1176.04M432.50 1187.00V1177.55M433.50 1187.00V1177.79M434.50 1187.00V1179.91M435.50 1187.00V1179.51M436.50 1187.00V1180.18M437.50 1187.00V1181.56M438.50 1187.00V1181.29M439.50 1187.00V1176.81M440.50 1187.00V1182.33M441.50 1187.00V1180.92M442.50 1187.00V1179.02M443.50 1187.00V1180.95M444.50 1187.00V1178.92M445.50 1187.00V1182.93M446.50 1187.00V1178.85M447.50 1187.00V1177.00M448.50 1187.00V1176.18M449.50 1187.00V1182.02M450.50 1187.00V1180.71M451.50 1187.00V1179.54M452.50 1187.00V1182.13M453.50 1187.00V1182.66M454.50 1187.00V1177.64M455.50 1187.00V1179.61M456.50 1187.00V1181.66M457.50 1187.00V1178.88M458.50 1187.00V1180.38M459.50 1187.00V1179.78M460.50 1187.00V1175.97M461.50 1187.00V1179.56M462.50 1187.00V1177.11M463.50 1187.00V1178.37M464.50 1187.00V1178.68M465.50 1187.00V1175.90M466.50 1187.00V1179.77M467.50 1187.00V1178.66M468.50 1187.00V1178.53M469.50 1187.00V1180.63M470.50 1187.00V1179.24M471.50 1187.00V1175.99M472.50 1187.00V1182.03M473.50 1187.00V1183.48M474.50 1187.00V1184.81M480.50 1187.00V1185.94M482.50 1187.00V1186.34M484.50 1187.00V1186.38M486.50 1187.00V1186.58M492.50 1187.00V1186.36M495.50 1187.00V1186.22M496.50 1187.00V1186.31M498.50 1187.00V1185.91M500.50 1187.00V1186.36M501.50 1187.00V1186.58M505.50 1187.00V1186.40M507.50 1187.00V1186.36M508.50 1187.00V1186.29M509.50 1187.00V1186.20M512.50 1187.00V1186.30M513.50 1187.00V1186.55M516.50 1187.00V1186.24M517.50 1187.00V1186.44M518.50 1187.00V1186.47M522.50 1187.00V1186.57M525.50 1187.00V1186.13M530.50 1187.00V1186.16" stroke="#000" stroke-width="1" fill="none"/>
<line x1="380.80" y1="1187.40" x2="531.70" y2="1187.40" stroke="#000" stroke-width="1.0" stroke-linecap="butt" />
<path d="M383.50 1211.02V1209.37M384.50 1210.53V1207.43M385.50 1210.64V1209.48M386.50 1210.17V1209.13M387.50 1211.10V1210.23M388.50 1211.06V1209.77M389.50 1210.55V1207.40M390.50 1210.55V1210.10M391.50 1210.98V1210.03M392.50 1210.76V1210.32M393.50 1210.99V1209.64M394.50 1210.55V1209.83M395.50 1208.29V1207.47M399.50 1210.66V1209.69M401.50 1209.98V1209.42M402.50 1212.30V1207.15M403.50 1209.35V1208.45M404.50 1207.81V1206.86M405.50 1209.36V1208.48M406.50 1208.26V1207.05M407.50 1207.24V1203.49M408.50 1209.55V1208.79M409.50 1207.31V1206.59M410.50 1208.15V1206.71M411.50 1208.11V1206.80M412.50 1208.37V1204.65M413.50 1208.53V1206.88M414.50 1207.06V1204.50M415.50 1208.74V1206.78M416.50 1207.52V1205.71M417.50 1208.35V1206.69M418.50 1209.19V1202.71M419.50 1208.09V1207.03M420.50 1208.57V1206.37M421.50 1210.30V1209.37M422.50 1209.77V1208.90M423.50 1210.64V1209.39M424.50 1211.53V1209.75M426.50 1210.21V1209.79M427.50 1209.61V1208.71M428.50 1209.77V1207.36M429.50 1208.98V1205.52M430.50 1209.68V1204.43M431.50 1206.08V1204.03M432.50 1206.12V1195.08M433.50 1202.94V1200.80M434.50 1204.07V1198.32M435.50 1199.79V1195.34M436.50 1205.50V1200.02M437.50 1202.06V1199.94M438.50 1208.52V1206.21M439.50 1204.92V1203.92M440.50 1200.37V1193.61M441.50 1203.65V1199.78M442.50 1202.59V1200.55M443.50 1205.45V1202.56M444.50 1202.94V1195.96M445.50 1202.26V1200.64M446.50 1206.46V1195.62M447.50 1203.62V1197.24M448.50 1205.74V1202.93M449.50 1198.25V1193.99M450.50 1202.89V1201.32M451.50 1204.05V1195.68M452.50 1202.96V1200.54M453.50 1201.37V1200.03M454.50 1201.20V1196.94M455.50 1204.69V1201.83M456.50 1199.24V1192.98M457.50 1204.69V1201.86M458.50 1204.51V1201.84M459.50 1206.17V1204.29M460.50 1202.13V1195.55M461.50 1204.68V1192.81M462.50 1204.44V1202.08M463.50 1205.64V1202.66M464.50 1204.10V1202.78M465.50 1207.17V1196.62M466.50 1196.49V1192.49M467.50 1203.08V1194.15M468.50 1204.91V1201.12M469.50 1202.91V1201.07M470.50 1210.61V1209.47M472.50 1211.41V1210.56M476.50 1212.30V1211.68M479.50 1212.30V1208.50M484.50 1212.30V1208.70M485.50 1212.30V1211.79M489.50 1212.30V1211.63M490.50 1212.30V1208.71M491.50 1212.30V1211.53M494.50 1212.30V1211.66M497.50 1212.30V1211.54M498.50 1211.62V1211.18M503.50 1211.65V1210.98M506.50 1211.19V1209.22M508.50 1212.30V1211.59M509.50 1212.30V1211.66M510.50 1212.30V1210.51M511.50 1212.30V1211.33M513.50 1209.71V1204.31M514.50 1209.19V1205.96M515.50 1208.78V1207.75M516.50 1208.95V1207.60M517.50 1208.59V1207.74M518.50 1210.04V1204.83M519.50 1208.35V1207.71M520.50 1208.92V1207.65M521.50 1211.37V1210.27M523.50 1208.67V1208.04M524.50 1209.30V1208.81M525.50 1210.33V1208.57M526.50 1210.62V1206.37M527.50 1209.95V1208.75M528.50 1207.25V1206.16M529.50 1208.58V1207.28M530.50 1210.00V1207.02M456.50 1212.30V1190.30" stroke="#444" stroke-width="1" fill="none"/>
<path d="M380.50 1212.30V1210.23M381.50 1212.30V1211.23M382.50 1212.30V1211.06M383.50 1212.30V1211.02M384.50 1212.30V1210.53M385.50 1212.30V1210.64M386.50 1212.30V1210.17M387.50 1212.30V1211.10M388.50 1212.30V1211.06M389.50 1212.30V1210.55M390.50 1212.30V1210.55M391.50 1212.30V1210.98M392.50 1212.30V1210.76M393.50 1212.30V1210.99M394.50 1212.30V1210.55M395.50 1212.30V1208.29M396.50 1212.30V1210.98M397.50 1212.30V1210.64M398.50 1212.30V1210.28M399.50 1212.30V1210.66M400.50 1212.30V1210.35M401.50 1212.30V1209.98M403.50 1212.30V1209.35M404.50 1212.30V1207.81M405.50 1212.30V1209.36M406.50 1212.30V1208.26M407.50 1212.30V1207.24M408.50 1212.30V1209.55M409.50 1212.30V1207.31M410.50 1212.30V1208.15M411.50 1212.30V1208.11M412.50 1212.30V1208.37M413.50 1212.30V1208.53M414.50 1212.30V1207.06M415.50 1212.30V1208.74M416.50 1212.30V1207.52M417.50 1212.30V1208.35M418.50 1212.30V1209.19M419.50 1212.30V1208.09M420.50 1212.30V1208.57M421.50 1212.30V1210.30M422.50 1212.30V1209.77M423.50 1212.30V1210.64M424.50 1212.30V1211.53M425.50 1212.30V1210.86M426.50 1212.30V1210.21M427.50 1212.30V1209.61M428.50 1212.30V1209.77M429.50 1212.30V1208.98M430.50 1212.30V1209.68M431.50 1212.30V1206.08M432.50 1212.30V1206.12M433.50 1212.30V1202.94M434.50 1212.30V1204.07M435.50 1212.30V1199.79M436.50 1212.30V1205.50M437.50 1212.30V1202.06M438.50 1212.30V1208.52M439.50 1212.30V1204.92M440.50 1212.30V1200.37M441.50 1212.30V1203.65M442.50 1212.30V1202.59M443.50 1212.30V1205.45M444.50 1212.30V1202.94M445.50 1212.30V1202.26M446.50 1212.30V1206.46M447.50 1212.30V1203.62M448.50 1212.30V1205.74M449.50 1212.30V1198.25M450.50 1212.30V1202.89M451.50 1212.30V1204.05M452.50 1212.30V1202.96M453.50 1212.30V1201.37M454.50 1212.30V1201.20M455.50 1212.30V1204.69M456.50 1212.30V1199.24M457.50 1212.30V1204.69M458.50 1212.30V1204.51M459.50 1212.30V1206.17M460.50 1212.30V1202.13M461.50 1212.30V1204.68M462.50 1212.30V1204.44M463.50 1212.30V1205.64M464.50 1212.30V1204.10M465.50 1212.30V1207.17M466.50 1212.30V1196.49M467.50 1212.30V1203.08M468.50 1212.30V1204.91M469.50 1212.30V1202.91M470.50 1212.30V1210.61M471.50 1212.30V1210.71M472.50 1212.30V1211.41M474.50 1212.30V1211.82M475.50 1212.30V1211.71M480.50 1212.30V1211.76M482.50 1212.30V1211.41M486.50 1212.30V1211.70M488.50 1212.30V1211.59M492.50 1212.30V1211.63M493.50 1212.30V1211.43M495.50 1212.30V1211.60M498.50 1212.30V1211.62M499.50 1212.30V1211.36M500.50 1212.30V1211.58M502.50 1212.30V1211.49M503.50 1212.30V1211.65M506.50 1212.30V1211.19M513.50 1212.30V1209.71M514.50 1212.30V1209.19M515.50 1212.30V1208.78M516.50 1212.30V1208.95M517.50 1212.30V1208.59M518.50 1212.30V1210.04M519.50 1212.30V1208.35M520.50 1212.30V1208.92M521.50 1212.30V1211.37M522.50 1212.30V1209.94M523.50 1212.30V1208.67M524.50 1212.30V1209.30M525.50 1212.30V1210.33M526.50 1212.30V1210.62M527.50 1212.30V1209.95M528.50 1212.30V1207.25M529.50 1212.30V1208.58M530.50 1212.30V1210.00" stroke="#000" stroke-width="1" fill="none"/>
<line x1="380.80" y1="1212.70" x2="531.70" y2="1212.70" stroke="#000" stroke-width="1.0" stroke-linecap="butt" />
<path d="M380.50 1235.66V1234.85M381.50 1235.79V1235.37M382.50 1236.70V1236.00M383.50 1235.28V1234.06M384.50 1236.00V1235.06M386.50 1235.86V1234.91M387.50 1234.58V1233.61M388.50 1235.37V1233.05M389.50 1236.44V1235.27M390.50 1236.44V1236.02M391.50 1236.46V1234.70M393.50 1235.75V1235.20M394.50 1236.64V1236.22M395.50 1236.46V1235.44M397.50 1235.66V1234.89M398.50 1235.70V1235.09M400.50 1235.95V1235.25M401.50 1232.62V1231.32M402.50 1235.39V1230.91M403.50 1235.30V1234.10M404.50 1237.30V1235.24M405.50 1235.50V1235.08M406.50 1235.35V1233.54M407.50 1235.26V1234.32M408.50 1236.10V1235.20M409.50 1236.35V1234.17M410.50 1233.89V1232.51M411.50 1233.43V1231.87M412.50 1233.71V1228.75M413.50 1232.64V1231.54M414.50 1234.02V1231.22M415.50 1233.64V1231.86M416.50 1233.66V1232.61M417.50 1232.99V1229.60M418.50 1233.47V1230.84M419.50 1233.12V1232.28M420.50 1234.47V1232.15M421.50 1232.92V1232.42M422.50 1233.54V1230.85M423.50 1232.77V1231.90M424.50 1235.46V1233.60M425.50 1234.11V1229.84M427.50 1233.32V1232.55M428.50 1235.92V1234.09M429.50 1235.20V1234.67M430.50 1235.69V1232.43M431.50 1234.86V1232.95M432.50 1234.13V1233.67M433.50 1234.55V1233.96M434.50 1234.23V1233.45M435.50 1235.38V1233.75M436.50 1235.33V1233.75M437.50 1235.05V1229.72M438.50 1232.84V1231.93M439.50 1233.03V1229.85M440.50 1230.58V1217.61M441.50 1231.95V1228.53M442.50 1229.38V1226.24M443.50 1229.73V1218.29M444.50 1231.81V1224.94M445.50 1230.48V1227.98M446.50 1227.48V1224.03M447.50 1228.32V1220.22M448.50 1227.81V1224.86M449.50 1229.66V1226.85M450.50 1228.99V1218.11M451.50 1229.55V1226.88M452.50 1229.70V1221.61M453.50 1230.43V1227.76M454.50 1223.36V1217.65M455.50 1230.37V1228.88M456.50 1226.44V1223.63M457.50 1229.03V1227.76M458.50 1229.67V1225.47M459.50 1229.51V1226.37M460.50 1221.48V1218.07M461.50 1233.28V1230.21M462.50 1228.41V1227.29M463.50 1228.90V1218.04M464.50 1228.80V1226.68M465.50 1227.70V1225.10M466.50 1228.85V1225.25M467.50 1226.96V1221.73M468.50 1231.68V1230.82M469.50 1234.42V1231.66M470.50 1232.27V1230.91M471.50 1233.64V1233.21M472.50 1235.85V1234.01M473.50 1235.33V1234.60M474.50 1236.78V1235.76M475.50 1237.30V1236.75M477.50 1237.30V1236.52M479.50 1237.30V1236.57M480.50 1237.30V1236.48M481.50 1237.30V1236.38M483.50 1236.37V1235.62M484.50 1237.30V1236.09M485.50 1236.58V1236.08M486.50 1237.30V1236.21M488.50 1236.25V1234.32M489.50 1237.30V1236.39M490.50 1236.78V1235.99M491.50 1236.71V1236.29M492.50 1236.74V1236.22M494.50 1237.30V1235.05M495.50 1237.30V1236.34M496.50 1237.30V1236.01M501.50 1237.05V1236.19M503.50 1236.51V1234.24M504.50 1236.59V1236.02M505.50 1236.59V1236.09M506.50 1237.30V1235.17M510.50 1236.66V1233.97M514.50 1236.49V1233.53M515.50 1237.30V1236.50M521.50 1237.30V1236.46M522.50 1237.00V1236.27M523.50 1236.37V1235.60M525.50 1236.66V1236.16M527.50 1237.30V1236.54M528.50 1236.63V1236.12M529.50 1237.30V1236.37M530.50 1237.30V1236.25M448.50 1237.30V1215.30M453.50 1237.30V1216.30" stroke="#444" stroke-width="1" fill="none"/>
<path d="M380.50 1237.30V1235.66M381.50 1237.30V1235.79M382.50 1237.30V1236.70M383.50 1237.30V1235.28M384.50 1237.30V1236.00M385.50 1237.30V1235.21M386.50 1237.30V1235.86M387.50 1237.30V1234.58M388.50 1237.30V1235.37M389.50 1237.30V1236.44M390.50 1237.30V1236.44M391.50 1237.30V1236.46M392.50 1237.30V1235.84M393.50 1237.30V1235.75M394.50 1237.30V1236.64M395.50 1237.30V1236.46M396.50 1237.30V1235.62M397.50 1237.30V1235.66M398.50 1237.30V1235.70M399.50 1237.30V1235.38M400.50 1237.30V1235.95M401.50 1237.30V1232.62M402.50 1237.30V1235.39M403.50 1237.30V1235.30M405.50 1237.30V1235.50M406.50 1237.30V1235.35M407.50 1237.30V1235.26M408.50 1237.30V1236.10M409.50 1237.30V1236.35M410.50 1237.30V1233.89M411.50 1237.30V1233.43M412.50 1237.30V1233.71M413.50 1237.30V1232.64M414.50 1237.30V1234.02M415.50 1237.30V1233.64M416.50 1237.30V1233.66M417.50 1237.30V1232.99M418.50 1237.30V1233.47M419.50 1237.30V1233.12M420.50 1237.30V1234.47M421.50 1237.30V1232.92M422.50 1237.30V1233.54M423.50 1237.30V1232.77M424.50 1237.30V1235.46M425.50 1237.30V1234.11M426.50 1237.30V1235.01M427.50 1237.30V1233.32M428.50 1237.30V1235.92M429.50 1237.30V1235.20M430.50 1237.30V1235.69M431.50 1237.30V1234.86M432.50 1237.30V1234.13M433.50 1237.30V1234.55M434.50 1237.30V1234.23M435.50 1237.30V1235.38M436.50 1237.30V1235.33M437.50 1237.30V1235.05M438.50 1237.30V1232.84M439.50 1237.30V1233.03M440.50 1237.30V1230.58M441.50 1237.30V1231.95M442.50 1237.30V1229.38M443.50 1237.30V1229.73M444.50 1237.30V1231.81M445.50 1237.30V1230.48M446.50 1237.30V1227.48M447.50 1237.30V1228.32M448.50 1237.30V1227.81M449.50 1237.30V1229.66M450.50 1237.30V1228.99M451.50 1237.30V1229.55M452.50 1237.30V1229.70M453.50 1237.30V1230.43M454.50 1237.30V1223.36M455.50 1237.30V1230.37M456.50 1237.30V1226.44M457.50 1237.30V1229.03M458.50 1237.30V1229.67M459.50 1237.30V1229.51M460.50 1237.30V1221.48M461.50 1237.30V1233.28M462.50 1237.30V1228.41M463.50 1237.30V1228.90M464.50 1237.30V1228.80M465.50 1237.30V1227.70M466.50 1237.30V1228.85M467.50 1237.30V1226.96M468.50 1237.30V1231.68M469.50 1237.30V1234.42M470.50 1237.30V1232.27M471.50 1237.30V1233.64M472.50 1237.30V1235.85M473.50 1237.30V1235.33M474.50 1237.30V1236.78M476.50 1237.30V1236.59M483.50 1237.30V1236.37M485.50 1237.30V1236.58M488.50 1237.30V1236.25M490.50 1237.30V1236.78M491.50 1237.30V1236.71M492.50 1237.30V1236.74M497.50 1237.30V1236.17M498.50 1237.30V1236.78M500.50 1237.30V1236.52M502.50 1237.30V1236.52M503.50 1237.30V1236.51M504.50 1237.30V1236.59M505.50 1237.30V1236.59M510.50 1237.30V1236.66M512.50 1237.30V1236.59M514.50 1237.30V1236.49M517.50 1237.30V1236.54M519.50 1237.30V1236.44M520.50 1237.30V1236.45M523.50 1237.30V1236.37M524.50 1237.30V1236.54M525.50 1237.30V1236.66M526.50 1237.30V1236.41M528.50 1237.30V1236.63" stroke="#000" stroke-width="1" fill="none"/>
<line x1="380.80" y1="1237.70" x2="531.70" y2="1237.70" stroke="#000" stroke-width="1.0" stroke-linecap="butt" />
<path d="M552.50 1102.05V1094.88M553.50 1106.85V1100.66M554.50 1105.67V1104.38M555.50 1101.47V1093.91M556.50 1106.47V1103.54M557.50 1106.27V1100.72M558.50 1104.36V1095.94M559.50 1104.99V1094.45M560.50 1108.80V1106.79M561.50 1104.40V1102.00M562.50 1104.69V1099.87M563.50 1106.35V1104.30M564.50 1108.73V1106.37M565.50 1102.23V1099.77M566.50 1110.26V1106.92M567.50 1110.11V1108.40M568.50 1112.00V1109.26M569.50 1112.00V1110.03M571.50 1112.00V1109.65M573.50 1112.00V1111.27M575.50 1112.00V1111.40M577.50 1112.00V1111.07M578.50 1111.47V1111.03M581.50 1112.00V1111.46M582.50 1111.32V1110.78M583.50 1111.46V1110.85M584.50 1112.00V1111.45M585.50 1112.00V1111.14M588.50 1111.59V1110.99M591.50 1112.00V1107.83M593.50 1112.00V1111.30M594.50 1112.00V1111.11M595.50 1112.00V1106.41M596.50 1112.00V1111.55M598.50 1111.77V1111.07M599.50 1111.54V1111.02M602.50 1112.00V1110.98M603.50 1112.00V1111.39M605.50 1112.00V1111.52M607.50 1112.00V1110.72M608.50 1111.40V1110.64M610.50 1112.00V1110.98M611.50 1111.67V1110.96M612.50 1112.00V1108.12M615.50 1112.00V1111.10M616.50 1112.00V1111.14M618.50 1111.28V1107.00M619.50 1112.00V1111.58M621.50 1112.00V1111.18M625.50 1112.00V1111.56M627.50 1110.90V1106.34M628.50 1112.00V1111.35M629.50 1112.00V1110.92M631.50 1111.37V1110.03M632.50 1112.00V1110.15M633.50 1112.00V1108.37M634.50 1110.66V1110.10M635.50 1107.46V1104.07M636.50 1108.40V1097.44M637.50 1106.86V1104.47M638.50 1105.85V1097.28M639.50 1107.80V1104.70M640.50 1104.82V1101.23M641.50 1105.18V1104.12M642.50 1105.92V1100.68M643.50 1105.44V1100.58M644.50 1105.95V1105.00M645.50 1107.45V1106.11M646.50 1108.23V1106.42M647.50 1108.30V1107.03M648.50 1108.16V1107.40M649.50 1106.85V1102.80M650.50 1107.54V1106.71M651.50 1107.20V1106.01M652.50 1105.77V1104.49M653.50 1107.46V1105.61M654.50 1107.50V1105.98M655.50 1105.92V1101.17M656.50 1104.68V1097.50M657.50 1106.65V1104.77M658.50 1106.50V1104.62M659.50 1105.59V1103.79M660.50 1108.47V1105.55M661.50 1105.77V1104.55M662.50 1108.89V1105.06M663.50 1106.22V1100.08M664.50 1107.93V1105.62M665.50 1106.38V1105.30M666.50 1099.67V1097.52M667.50 1106.56V1104.32M668.50 1105.97V1103.57M669.50 1106.41V1104.41M670.50 1106.92V1104.36M671.50 1108.26V1105.70M672.50 1106.07V1104.19M673.50 1106.93V1105.61M675.50 1107.56V1105.21M676.50 1106.00V1105.21M677.50 1105.75V1104.28M678.50 1107.24V1100.28M679.50 1107.93V1106.20M680.50 1106.15V1103.37M681.50 1106.02V1102.36M682.50 1108.23V1106.60M683.50 1107.88V1106.14M684.50 1108.32V1107.38M685.50 1109.18V1107.36M686.50 1107.46V1106.54M687.50 1107.41V1105.59M688.50 1109.61V1107.95M689.50 1108.09V1106.48M690.50 1107.11V1105.14M691.50 1108.56V1104.65M692.50 1107.98V1103.38M693.50 1109.16V1099.61M694.50 1105.62V1104.47M695.50 1107.66V1106.11M696.50 1107.43V1105.75M697.50 1105.04V1098.93M698.50 1105.27V1103.75M699.50 1107.18V1105.06M700.50 1106.05V1105.17M701.50 1106.79V1102.61M623.50 1112.00V1100.00M630.50 1112.00V1103.00M701.50 1112.00V1089.00" stroke="#444" stroke-width="1" fill="none"/>
<path d="M552.50 1112.00V1102.05M553.50 1112.00V1106.85M554.50 1112.00V1105.67M555.50 1112.00V1101.47M556.50 1112.00V1106.47M557.50 1112.00V1106.27M558.50 1112.00V1104.36M559.50 1112.00V1104.99M560.50 1112.00V1108.80M561.50 1112.00V1104.40M562.50 1112.00V1104.69M563.50 1112.00V1106.35M564.50 1112.00V1108.73M565.50 1112.00V1102.23M566.50 1112.00V1110.26M567.50 1112.00V1110.11M578.50 1112.00V1111.47M579.50 1112.00V1111.31M582.50 1112.00V1111.32M583.50 1112.00V1111.46M586.50 1112.00V1111.42M587.50 1112.00V1111.28M588.50 1112.00V1111.59M589.50 1112.00V1111.34M590.50 1112.00V1111.53M599.50 1112.00V1111.54M601.50 1112.00V1111.35M608.50 1112.00V1111.40M614.50 1112.00V1111.47M618.50 1112.00V1111.28M622.50 1112.00V1111.57M626.50 1112.00V1111.54M627.50 1112.00V1110.90M631.50 1112.00V1111.37M634.50 1112.00V1110.66M635.50 1112.00V1107.46M636.50 1112.00V1108.40M637.50 1112.00V1106.86M638.50 1112.00V1105.85M639.50 1112.00V1107.80M640.50 1112.00V1104.82M641.50 1112.00V1105.18M642.50 1112.00V1105.92M643.50 1112.00V1105.44M644.50 1112.00V1105.95M645.50 1112.00V1107.45M646.50 1112.00V1108.23M647.50 1112.00V1108.30M648.50 1112.00V1108.16M649.50 1112.00V1106.85M650.50 1112.00V1107.54M651.50 1112.00V1107.20M652.50 1112.00V1105.77M653.50 1112.00V1107.46M654.50 1112.00V1107.50M655.50 1112.00V1105.92M656.50 1112.00V1104.68M657.50 1112.00V1106.65M658.50 1112.00V1106.50M659.50 1112.00V1105.59M660.50 1112.00V1108.47M661.50 1112.00V1105.77M662.50 1112.00V1108.89M663.50 1112.00V1106.22M664.50 1112.00V1107.93M665.50 1112.00V1106.38M666.50 1112.00V1099.67M667.50 1112.00V1106.56M668.50 1112.00V1105.97M669.50 1112.00V1106.41M670.50 1112.00V1106.92M671.50 1112.00V1108.26M672.50 1112.00V1106.07M673.50 1112.00V1106.93M674.50 1112.00V1109.97M675.50 1112.00V1107.56M676.50 1112.00V1106.00M677.50 1112.00V1105.75M678.50 1112.00V1107.24M679.50 1112.00V1107.93M680.50 1112.00V1106.15M681.50 1112.00V1106.02M682.50 1112.00V1108.23M683.50 1112.00V1107.88M684.50 1112.00V1108.32M685.50 1112.00V1109.18M686.50 1112.00V1107.46M687.50 1112.00V1107.41M688.50 1112.00V1109.61M689.50 1112.00V1108.09M690.50 1112.00V1107.11M691.50 1112.00V1108.56M692.50 1112.00V1107.98M693.50 1112.00V1109.16M694.50 1112.00V1105.62M695.50 1112.00V1107.66M696.50 1112.00V1107.43M697.50 1112.00V1105.04M698.50 1112.00V1105.27M699.50 1112.00V1107.18M700.50 1112.00V1106.05M701.50 1112.00V1106.79" stroke="#000" stroke-width="1" fill="none"/>
<line x1="552.70" y1="1112.40" x2="703.20" y2="1112.40" stroke="#000" stroke-width="1.0" stroke-linecap="butt" />
<path d="M552.50 1132.30V1128.96M553.50 1132.21V1128.92M554.50 1130.92V1129.80M555.50 1130.61V1126.83M556.50 1131.43V1130.54M557.50 1128.24V1124.91M558.50 1130.28V1129.06M559.50 1129.04V1119.75M560.50 1129.74V1128.76M561.50 1131.11V1129.66M563.50 1134.45V1132.49M564.50 1129.98V1127.66M565.50 1130.45V1127.95M566.50 1130.09V1125.14M567.50 1131.36V1128.46M568.50 1133.26V1129.16M569.50 1129.91V1127.67M570.50 1129.58V1127.87M571.50 1132.47V1131.45M572.50 1129.99V1126.51M573.50 1133.61V1132.65M574.50 1131.05V1127.84M575.50 1129.59V1128.17M576.50 1130.44V1127.48M577.50 1131.57V1130.44M578.50 1133.90V1126.09M579.50 1131.71V1128.57M580.50 1130.11V1127.77M581.50 1128.80V1127.77M582.50 1130.21V1128.50M583.50 1130.28V1129.50M584.50 1131.76V1128.52M585.50 1129.93V1128.12M586.50 1131.74V1130.15M587.50 1129.73V1128.78M588.50 1128.87V1127.26M589.50 1130.27V1119.86M590.50 1131.03V1129.83M591.50 1132.99V1132.42M592.50 1133.75V1133.01M593.50 1137.30V1135.87M595.50 1137.04V1136.44M596.50 1137.30V1136.65M597.50 1136.99V1136.42M599.50 1137.30V1136.84M603.50 1137.30V1136.41M604.50 1137.30V1136.48M608.50 1137.30V1136.12M609.50 1137.30V1136.22M610.50 1136.99V1136.42M611.50 1137.30V1136.63M612.50 1136.93V1136.37M613.50 1136.99V1136.31M614.50 1137.30V1136.39M616.50 1136.69V1136.24M617.50 1137.30V1136.61M619.50 1137.00V1136.32M623.50 1137.30V1136.89M624.50 1137.30V1136.39M625.50 1137.30V1136.36M626.50 1137.30V1136.84M629.50 1137.30V1136.69M630.50 1136.81V1136.30M631.50 1137.30V1136.45M632.50 1137.30V1136.48M637.50 1137.30V1136.17M638.50 1136.67V1135.74M644.50 1136.72V1135.97M646.50 1137.30V1136.85M648.50 1137.30V1136.89M649.50 1137.30V1136.53M650.50 1137.30V1136.60M651.50 1137.30V1133.05M652.50 1136.42V1135.66M653.50 1137.30V1136.36M654.50 1137.30V1135.69M655.50 1137.30V1135.16M656.50 1136.41V1134.67M657.50 1135.95V1134.33M658.50 1133.90V1133.29M659.50 1132.82V1123.46M660.50 1133.45V1132.13M661.50 1135.69V1133.44M662.50 1134.21V1133.29M663.50 1134.93V1133.85M664.50 1134.11V1124.53M665.50 1134.41V1133.20M666.50 1135.79V1134.06M667.50 1132.93V1126.46M668.50 1134.45V1133.86M669.50 1133.76V1133.36M670.50 1134.03V1133.33M672.50 1133.74V1128.16M673.50 1133.97V1133.04M674.50 1135.99V1130.03M675.50 1133.69V1124.63M676.50 1136.10V1131.53M677.50 1135.36V1133.36M678.50 1135.78V1133.15M679.50 1134.08V1130.10M681.50 1134.74V1128.49M682.50 1133.37V1126.89M683.50 1134.18V1123.67M684.50 1133.98V1126.11M685.50 1133.87V1129.63M686.50 1133.96V1124.69M687.50 1134.63V1133.29M688.50 1133.60V1132.02M689.50 1132.84V1132.35M690.50 1135.42V1134.61M691.50 1133.93V1132.53M692.50 1133.00V1132.33M693.50 1134.84V1131.74M694.50 1133.72V1131.50M695.50 1132.36V1131.69M696.50 1134.07V1133.25M697.50 1133.74V1133.16M698.50 1133.59V1133.14M699.50 1134.84V1132.65M700.50 1132.78V1132.11M701.50 1132.20V1128.60M561.50 1137.30V1116.30M593.50 1137.30V1118.30M682.50 1137.30V1116.30M700.50 1137.30V1116.30" stroke="#444" stroke-width="1" fill="none"/>
<path d="M552.50 1137.30V1132.30M553.50 1137.30V1132.21M554.50 1137.30V1130.92M555.50 1137.30V1130.61M556.50 1137.30V1131.43M557.50 1137.30V1128.24M558.50 1137.30V1130.28M559.50 1137.30V1129.04M560.50 1137.30V1129.74M561.50 1137.30V1131.11M562.50 1137.30V1134.20M563.50 1137.30V1134.45M564.50 1137.30V1129.98M565.50 1137.30V1130.45M566.50 1137.30V1130.09M567.50 1137.30V1131.36M568.50 1137.30V1133.26M569.50 1137.30V1129.91M570.50 1137.30V1129.58M571.50 1137.30V1132.47M572.50 1137.30V1129.99M573.50 1137.30V1133.61M574.50 1137.30V1131.05M575.50 1137.30V1129.59M576.50 1137.30V1130.44M577.50 1137.30V1131.57M578.50 1137.30V1133.90M579.50 1137.30V1131.71M580.50 1137.30V1130.11M581.50 1137.30V1128.80M582.50 1137.30V1130.21M583.50 1137.30V1130.28M584.50 1137.30V1131.76M585.50 1137.30V1129.93M586.50 1137.30V1131.74M587.50 1137.30V1129.73M588.50 1137.30V1128.87M589.50 1137.30V1130.27M590.50 1137.30V1131.03M591.50 1137.30V1132.99M592.50 1137.30V1133.75M602.50 1137.30V1136.48M616.50 1137.30V1136.69M618.50 1137.30V1136.64M620.50 1137.30V1136.83M621.50 1137.30V1136.52M630.50 1137.30V1136.81M638.50 1137.30V1136.67M640.50 1137.30V1136.87M644.50 1137.30V1136.72M652.50 1137.30V1136.42M656.50 1137.30V1136.41M657.50 1137.30V1135.95M658.50 1137.30V1133.90M659.50 1137.30V1132.82M660.50 1137.30V1133.45M661.50 1137.30V1135.69M662.50 1137.30V1134.21M663.50 1137.30V1134.93M664.50 1137.30V1134.11M665.50 1137.30V1134.41M666.50 1137.30V1135.79M667.50 1137.30V1132.93M668.50 1137.30V1134.45M669.50 1137.30V1133.76M670.50 1137.30V1134.03M671.50 1137.30V1135.09M672.50 1137.30V1133.74M673.50 1137.30V1133.97M674.50 1137.30V1135.99M675.50 1137.30V1133.69M676.50 1137.30V1136.10M677.50 1137.30V1135.36M678.50 1137.30V1135.78M679.50 1137.30V1134.08M680.50 1137.30V1135.25M681.50 1137.30V1134.74M682.50 1137.30V1133.37M683.50 1137.30V1134.18M684.50 1137.30V1133.98M685.50 1137.30V1133.87M686.50 1137.30V1133.96M687.50 1137.30V1134.63M688.50 1137.30V1133.60M689.50 1137.30V1132.84M690.50 1137.30V1135.42M691.50 1137.30V1133.93M692.50 1137.30V1133.00M693.50 1137.30V1134.84M694.50 1137.30V1133.72M695.50 1137.30V1132.36M696.50 1137.30V1134.07M697.50 1137.30V1133.74M698.50 1137.30V1133.59M699.50 1137.30V1134.84M700.50 1137.30V1132.78M701.50 1137.30V1132.20" stroke="#000" stroke-width="1" fill="none"/>
<line x1="552.70" y1="1137.70" x2="703.20" y2="1137.70" stroke="#000" stroke-width="1.0" stroke-linecap="butt" />
<path d="M552.50 1155.17V1152.05M553.50 1156.66V1147.39M554.50 1154.10V1152.40M555.50 1159.67V1159.25M556.50 1158.45V1148.21M557.50 1152.71V1148.55M558.50 1155.96V1155.05M559.50 1158.39V1154.97M560.50 1155.88V1154.13M561.50 1158.01V1156.51M562.50 1156.64V1155.90M563.50 1159.39V1157.81M564.50 1157.10V1152.77M565.50 1155.96V1155.13M566.50 1156.99V1155.83M567.50 1156.13V1149.13M568.50 1156.67V1155.35M569.50 1155.78V1155.04M570.50 1156.93V1155.97M571.50 1158.28V1156.86M572.50 1158.53V1157.42M573.50 1158.40V1157.18M574.50 1156.15V1152.01M575.50 1159.95V1156.02M576.50 1156.06V1155.20M577.50 1157.06V1152.07M578.50 1158.54V1154.36M579.50 1155.79V1154.64M580.50 1159.25V1158.11M581.50 1157.94V1156.42M582.50 1155.69V1153.67M583.50 1159.56V1154.66M584.50 1158.62V1156.68M585.50 1156.06V1154.92M586.50 1159.05V1155.04M587.50 1155.13V1147.51M588.50 1156.76V1153.72M589.50 1155.03V1146.78M590.50 1157.86V1154.33M591.50 1156.62V1155.87M592.50 1156.66V1153.86M593.50 1156.87V1149.88M594.50 1158.59V1158.03M595.50 1159.38V1156.61M596.50 1157.23V1156.08M597.50 1156.30V1153.66M598.50 1157.60V1151.12M599.50 1158.21V1157.22M600.50 1157.79V1156.12M601.50 1156.98V1155.77M602.50 1156.79V1152.38M603.50 1156.78V1154.49M604.50 1157.78V1156.47M605.50 1158.27V1156.11M606.50 1158.01V1154.79M607.50 1158.64V1157.59M608.50 1157.93V1157.35M609.50 1156.49V1155.64M610.50 1155.61V1154.81M611.50 1155.72V1151.84M612.50 1156.87V1155.88M613.50 1157.32V1156.68M614.50 1156.56V1155.40M615.50 1159.60V1150.05M616.50 1155.70V1154.95M617.50 1157.38V1156.70M618.50 1158.40V1157.44M619.50 1159.31V1158.44M620.50 1161.42V1160.08M622.50 1162.30V1161.67M623.50 1161.22V1160.77M626.50 1162.30V1161.56M628.50 1162.03V1161.32M629.50 1162.30V1161.47M630.50 1161.40V1158.42M633.50 1162.30V1158.64M635.50 1162.30V1161.73M636.50 1162.30V1161.46M637.50 1162.30V1161.27M640.50 1162.30V1161.75M641.50 1162.30V1161.81M643.50 1162.30V1161.77M644.50 1162.30V1161.88M647.50 1161.89V1161.44M649.50 1161.61V1161.12M652.50 1161.64V1161.12M657.50 1162.30V1161.22M658.50 1161.79V1161.24M663.50 1162.30V1161.78M664.50 1161.38V1160.53M667.50 1161.35V1159.07M668.50 1162.30V1161.83M672.50 1162.30V1161.78M673.50 1162.30V1159.76M674.50 1161.81V1161.38M679.50 1162.30V1161.64M684.50 1162.09V1161.60M689.50 1162.30V1161.58M691.50 1161.84V1161.39M695.50 1159.07V1158.64M696.50 1159.11V1157.20M697.50 1158.22V1157.50M698.50 1154.97V1154.05M699.50 1156.14V1151.71M700.50 1155.26V1151.64M701.50 1153.70V1151.36M570.50 1162.30V1140.30M590.50 1162.30V1140.30M700.50 1162.30V1140.30" stroke="#444" stroke-width="1" fill="none"/>
<path d="M552.50 1162.30V1155.17M553.50 1162.30V1156.66M554.50 1162.30V1154.10M555.50 1162.30V1159.67M556.50 1162.30V1158.45M557.50 1162.30V1152.71M558.50 1162.30V1155.96M559.50 1162.30V1158.39M560.50 1162.30V1155.88M561.50 1162.30V1158.01M562.50 1162.30V1156.64M563.50 1162.30V1159.39M564.50 1162.30V1157.10M565.50 1162.30V1155.96M566.50 1162.30V1156.99M567.50 1162.30V1156.13M568.50 1162.30V1156.67M569.50 1162.30V1155.78M570.50 1162.30V1156.93M571.50 1162.30V1158.28M572.50 1162.30V1158.53M573.50 1162.30V1158.40M574.50 1162.30V1156.15M575.50 1162.30V1159.95M576.50 1162.30V1156.06M577.50 1162.30V1157.06M578.50 1162.30V1158.54M579.50 1162.30V1155.79M580.50 1162.30V1159.25M581.50 1162.30V1157.94M582.50 1162.30V1155.69M583.50 1162.30V1159.56M584.50 1162.30V1158.62M585.50 1162.30V1156.06M586.50 1162.30V1159.05M587.50 1162.30V1155.13M588.50 1162.30V1156.76M589.50 1162.30V1155.03M590.50 1162.30V1157.86M591.50 1162.30V1156.62M592.50 1162.30V1156.66M593.50 1162.30V1156.87M594.50 1162.30V1158.59M595.50 1162.30V1159.38M596.50 1162.30V1157.23M597.50 1162.30V1156.30M598.50 1162.30V1157.60M599.50 1162.30V1158.21M600.50 1162.30V1157.79M601.50 1162.30V1156.98M602.50 1162.30V1156.79M603.50 1162.30V1156.78M604.50 1162.30V1157.78M605.50 1162.30V1158.27M606.50 1162.30V1158.01M607.50 1162.30V1158.64M608.50 1162.30V1157.93M609.50 1162.30V1156.49M610.50 1162.30V1155.61M611.50 1162.30V1155.72M612.50 1162.30V1156.87M613.50 1162.30V1157.32M614.50 1162.30V1156.56M615.50 1162.30V1159.60M616.50 1162.30V1155.70M617.50 1162.30V1157.38M618.50 1162.30V1158.40M619.50 1162.30V1159.31M620.50 1162.30V1161.42M623.50 1162.30V1161.22M624.50 1162.30V1161.77M627.50 1162.30V1161.51M630.50 1162.30V1161.40M631.50 1162.30V1161.90M634.50 1162.30V1161.31M645.50 1162.30V1161.68M647.50 1162.30V1161.89M649.50 1162.30V1161.61M651.50 1162.30V1161.88M652.50 1162.30V1161.64M654.50 1162.30V1161.53M655.50 1162.30V1161.24M658.50 1162.30V1161.79M659.50 1162.30V1161.46M662.50 1162.30V1161.32M664.50 1162.30V1161.38M665.50 1162.30V1161.25M666.50 1162.30V1161.47M667.50 1162.30V1161.35M674.50 1162.30V1161.81M677.50 1162.30V1161.45M681.50 1162.30V1161.62M682.50 1162.30V1161.55M686.50 1162.30V1161.63M688.50 1162.30V1161.74M691.50 1162.30V1161.84M692.50 1162.30V1161.74M695.50 1162.30V1159.07M696.50 1162.30V1159.11M697.50 1162.30V1158.22M698.50 1162.30V1154.97M699.50 1162.30V1156.14M700.50 1162.30V1155.26M701.50 1162.30V1153.70" stroke="#000" stroke-width="1" fill="none"/>
<line x1="552.70" y1="1162.70" x2="703.20" y2="1162.70" stroke="#000" stroke-width="1.0" stroke-linecap="butt" />
<path d="M552.50 1183.65V1180.47M553.50 1183.86V1180.74M554.50 1184.96V1184.46M555.50 1184.59V1183.40M556.50 1185.56V1181.16M557.50 1184.33V1183.77M558.50 1184.87V1183.96M559.50 1185.14V1184.31M560.50 1184.91V1184.37M561.50 1184.58V1184.18M564.50 1185.35V1184.37M565.50 1185.41V1183.77M566.50 1183.84V1183.34M568.50 1184.47V1183.79M569.50 1184.01V1183.35M570.50 1185.60V1183.38M571.50 1183.90V1183.47M572.50 1184.75V1183.55M573.50 1184.29V1183.54M574.50 1185.55V1184.54M575.50 1186.01V1184.47M576.50 1179.82V1178.25M577.50 1185.29V1184.35M578.50 1184.90V1184.26M579.50 1184.61V1183.98M580.50 1184.86V1183.48M581.50 1183.99V1183.51M582.50 1185.76V1185.36M583.50 1184.90V1181.18M585.50 1183.39V1178.14M586.50 1183.58V1182.73M587.50 1183.70V1180.66M588.50 1183.61V1183.15M589.50 1183.65V1180.76M590.50 1181.91V1175.23M591.50 1180.94V1179.27M592.50 1179.19V1177.18M593.50 1182.68V1179.99M594.50 1180.53V1177.71M595.50 1178.43V1176.77M596.50 1180.93V1177.93M597.50 1181.34V1180.05M598.50 1179.73V1178.07M599.50 1176.05V1172.48M600.50 1181.27V1178.95M601.50 1179.89V1178.71M602.50 1181.98V1180.61M603.50 1179.96V1171.70M604.50 1179.97V1175.22M605.50 1180.70V1179.58M606.50 1179.46V1178.48M607.50 1179.79V1178.23M608.50 1180.17V1178.45M609.50 1181.64V1178.91M610.50 1182.10V1179.04M611.50 1182.89V1181.82M612.50 1180.56V1177.25M613.50 1178.93V1175.28M614.50 1179.15V1177.39M615.50 1180.66V1179.30M616.50 1178.60V1176.98M617.50 1178.85V1172.13M618.50 1178.81V1175.14M619.50 1178.62V1176.45M620.50 1174.97V1172.92M621.50 1177.31V1176.10M622.50 1178.31V1176.87M623.50 1176.42V1175.19M624.50 1179.27V1176.44M625.50 1178.71V1177.72M626.50 1182.05V1180.65M627.50 1181.22V1176.76M628.50 1181.43V1177.85M629.50 1180.12V1175.82M630.50 1181.01V1178.26M631.50 1181.12V1178.86M632.50 1183.67V1183.10M633.50 1184.23V1180.92M634.50 1183.47V1182.67M636.50 1185.55V1185.11M637.50 1187.00V1185.52M641.50 1186.54V1185.12M642.50 1187.00V1186.20M646.50 1187.00V1186.54M650.50 1186.46V1185.85M653.50 1187.00V1185.81M654.50 1187.00V1186.37M655.50 1187.00V1186.45M656.50 1186.65V1186.12M657.50 1187.00V1185.70M658.50 1186.74V1186.22M659.50 1186.64V1186.15M663.50 1187.00V1186.39M664.50 1185.41V1184.55M666.50 1186.38V1184.48M667.50 1187.00V1184.68M668.50 1187.00V1186.01M672.50 1187.00V1186.18M674.50 1186.62V1186.15M675.50 1186.34V1184.99M677.50 1187.00V1186.44M678.50 1187.00V1186.19M679.50 1187.00V1186.34M680.50 1186.56V1186.09M681.50 1187.00V1186.47M683.50 1187.00V1185.49M684.50 1185.85V1184.75M685.50 1185.12V1184.54M686.50 1183.10V1176.38M687.50 1184.61V1183.84M688.50 1183.65V1181.91M689.50 1183.82V1181.87M690.50 1183.90V1182.78M691.50 1185.05V1182.71M692.50 1183.05V1182.58M693.50 1182.46V1181.42M694.50 1183.57V1175.58M695.50 1184.28V1182.42M696.50 1185.76V1183.23M697.50 1184.71V1183.42M698.50 1178.31V1176.52M699.50 1185.12V1184.41M700.50 1183.70V1183.20M701.50 1183.91V1175.02M615.50 1187.00V1168.00" stroke="#444" stroke-width="1" fill="none"/>
<path d="M552.50 1187.00V1183.65M553.50 1187.00V1183.86M554.50 1187.00V1184.96M555.50 1187.00V1184.59M556.50 1187.00V1185.56M557.50 1187.00V1184.33M558.50 1187.00V1184.87M559.50 1187.00V1185.14M560.50 1187.00V1184.91M561.50 1187.00V1184.58M562.50 1187.00V1186.05M563.50 1187.00V1183.84M564.50 1187.00V1185.35M565.50 1187.00V1185.41M566.50 1187.00V1183.84M567.50 1187.00V1183.84M568.50 1187.00V1184.47M569.50 1187.00V1184.01M570.50 1187.00V1185.60M571.50 1187.00V1183.90M572.50 1187.00V1184.75M573.50 1187.00V1184.29M574.50 1187.00V1185.55M575.50 1187.00V1186.01M576.50 1187.00V1179.82M577.50 1187.00V1185.29M578.50 1187.00V1184.90M579.50 1187.00V1184.61M580.50 1187.00V1184.86M581.50 1187.00V1183.99M582.50 1187.00V1185.76M583.50 1187.00V1184.90M584.50 1187.00V1184.19M585.50 1187.00V1183.39M586.50 1187.00V1183.58M587.50 1187.00V1183.70M588.50 1187.00V1183.61M589.50 1187.00V1183.65M590.50 1187.00V1181.91M591.50 1187.00V1180.94M592.50 1187.00V1179.19M593.50 1187.00V1182.68M594.50 1187.00V1180.53M595.50 1187.00V1178.43M596.50 1187.00V1180.93M597.50 1187.00V1181.34M598.50 1187.00V1179.73M599.50 1187.00V1176.05M600.50 1187.00V1181.27M601.50 1187.00V1179.89M602.50 1187.00V1181.98M603.50 1187.00V1179.96M604.50 1187.00V1179.97M605.50 1187.00V1180.70M606.50 1187.00V1179.46M607.50 1187.00V1179.79M608.50 1187.00V1180.17M609.50 1187.00V1181.64M610.50 1187.00V1182.10M611.50 1187.00V1182.89M612.50 1187.00V1180.56M613.50 1187.00V1178.93M614.50 1187.00V1179.15M615.50 1187.00V1180.66M616.50 1187.00V1178.60M617.50 1187.00V1178.85M618.50 1187.00V1178.81M619.50 1187.00V1178.62M620.50 1187.00V1174.97M621.50 1187.00V1177.31M622.50 1187.00V1178.31M623.50 1187.00V1176.42M624.50 1187.00V1179.27M625.50 1187.00V1178.71M626.50 1187.00V1182.05M627.50 1187.00V1181.22M628.50 1187.00V1181.43M629.50 1187.00V1180.12M630.50 1187.00V1181.01M631.50 1187.00V1181.12M632.50 1187.00V1183.67M633.50 1187.00V1184.23M634.50 1187.00V1183.47M636.50 1187.00V1185.55M638.50 1187.00V1186.39M639.50 1187.00V1186.37M640.50 1187.00V1186.34M641.50 1187.00V1186.54M645.50 1187.00V1186.30M648.50 1187.00V1186.59M649.50 1187.00V1186.58M650.50 1187.00V1186.46M661.50 1187.00V1186.46M664.50 1187.00V1185.41M666.50 1187.00V1186.38M669.50 1187.00V1186.30M670.50 1187.00V1186.16M671.50 1187.00V1186.52M675.50 1187.00V1186.34M680.50 1187.00V1186.56M682.50 1187.00V1186.13M684.50 1187.00V1185.85M685.50 1187.00V1185.12M686.50 1187.00V1183.10M687.50 1187.00V1184.61M688.50 1187.00V1183.65M689.50 1187.00V1183.82M690.50 1187.00V1183.90M691.50 1187.00V1185.05M692.50 1187.00V1183.05M693.50 1187.00V1182.46M694.50 1187.00V1183.57M695.50 1187.00V1184.28M696.50 1187.00V1185.76M697.50 1187.00V1184.71M698.50 1187.00V1178.31M699.50 1187.00V1185.12M700.50 1187.00V1183.70M701.50 1187.00V1183.91" stroke="#000" stroke-width="1" fill="none"/>
<line x1="552.70" y1="1187.40" x2="703.20" y2="1187.40" stroke="#000" stroke-width="1.0" stroke-linecap="butt" />
<path d="M552.50 1210.97V1209.25M553.50 1211.44V1210.05M554.50 1208.49V1205.05M555.50 1211.08V1209.71M556.50 1210.11V1209.50M557.50 1210.44V1208.80M558.50 1211.16V1208.81M559.50 1210.12V1209.63M560.50 1210.68V1209.02M561.50 1210.57V1209.44M562.50 1210.02V1209.51M563.50 1210.20V1209.57M564.50 1210.52V1209.87M565.50 1210.71V1209.89M567.50 1210.25V1207.65M568.50 1209.57V1205.55M569.50 1209.62V1208.95M572.50 1209.49V1203.53M573.50 1209.86V1208.66M574.50 1209.96V1209.56M575.50 1211.01V1210.44M576.50 1210.82V1209.63M577.50 1209.99V1207.00M578.50 1209.10V1207.69M580.50 1208.44V1205.44M581.50 1206.39V1205.13M582.50 1208.13V1206.74M583.50 1208.46V1207.59M584.50 1209.23V1207.68M585.50 1208.36V1206.44M586.50 1207.53V1206.05M587.50 1206.46V1204.69M588.50 1206.71V1205.12M589.50 1203.78V1202.50M590.50 1205.81V1201.51M591.50 1208.88V1206.84M592.50 1207.38V1205.52M593.50 1208.73V1206.71M594.50 1205.96V1197.41M595.50 1208.89V1206.19M596.50 1208.92V1197.71M597.50 1208.50V1205.44M598.50 1207.09V1204.45M599.50 1209.63V1209.19M600.50 1208.10V1207.27M601.50 1206.31V1200.15M602.50 1207.56V1197.62M603.50 1206.76V1206.15M604.50 1204.55V1201.40M605.50 1206.75V1205.08M606.50 1206.81V1202.15M607.50 1208.30V1206.92M608.50 1205.61V1197.96M609.50 1206.15V1205.31M610.50 1209.71V1208.98M611.50 1207.23V1205.24M612.50 1206.28V1205.36M613.50 1207.03V1206.43M614.50 1204.09V1199.18M615.50 1208.50V1206.64M616.50 1207.85V1205.00M617.50 1208.32V1206.39M618.50 1203.23V1201.54M619.50 1208.21V1204.39M620.50 1205.83V1201.81M621.50 1207.02V1204.92M622.50 1208.32V1204.84M623.50 1205.73V1198.60M624.50 1206.80V1205.87M625.50 1208.23V1203.48M626.50 1208.78V1204.66M627.50 1207.47V1205.14M628.50 1209.18V1206.10M629.50 1206.42V1203.99M630.50 1205.51V1200.36M631.50 1207.35V1205.08M632.50 1208.09V1206.14M633.50 1210.73V1207.88M634.50 1212.30V1209.82M638.50 1212.30V1211.67M639.50 1212.30V1211.47M643.50 1212.30V1211.53M644.50 1211.79V1210.64M645.50 1209.58V1208.46M648.50 1212.07V1211.40M649.50 1212.30V1211.75M652.50 1211.69V1210.38M653.50 1211.76V1211.35M655.50 1212.30V1211.22M657.50 1211.78V1211.29M658.50 1212.30V1211.78M659.50 1211.42V1209.31M661.50 1212.30V1211.40M662.50 1212.30V1210.40M663.50 1212.30V1211.68M666.50 1212.30V1211.87M668.50 1212.30V1211.39M670.50 1212.30V1211.71M671.50 1211.84V1210.24M674.50 1212.30V1211.64M675.50 1212.30V1211.44M679.50 1212.30V1211.56M680.50 1212.30V1211.89M681.50 1212.30V1211.18M685.50 1210.08V1209.65M686.50 1210.13V1209.22M687.50 1210.98V1209.92M688.50 1210.04V1209.34M689.50 1210.56V1209.98M690.50 1209.40V1208.88M691.50 1210.42V1208.76M692.50 1209.41V1208.78M693.50 1209.69V1208.41M694.50 1209.58V1201.09M695.50 1211.34V1208.95M696.50 1209.63V1201.75M697.50 1208.94V1208.52M698.50 1208.97V1208.54M699.50 1209.11V1201.27M701.50 1209.79V1209.12M581.50 1212.30V1198.30M692.50 1212.30V1198.30" stroke="#444" stroke-width="1" fill="none"/>
<path d="M552.50 1212.30V1210.97M553.50 1212.30V1211.44M554.50 1212.30V1208.49M555.50 1212.30V1211.08M556.50 1212.30V1210.11M557.50 1212.30V1210.44M558.50 1212.30V1211.16M559.50 1212.30V1210.12M560.50 1212.30V1210.68M561.50 1212.30V1210.57M562.50 1212.30V1210.02M563.50 1212.30V1210.20M564.50 1212.30V1210.52M565.50 1212.30V1210.71M566.50 1212.30V1209.26M567.50 1212.30V1210.25M568.50 1212.30V1209.57M569.50 1212.30V1209.62M570.50 1212.30V1209.63M571.50 1212.30V1211.00M572.50 1212.30V1209.49M573.50 1212.30V1209.86M574.50 1212.30V1209.96M575.50 1212.30V1211.01M576.50 1212.30V1210.82M577.50 1212.30V1209.99M578.50 1212.30V1209.10M579.50 1212.30V1208.99M580.50 1212.30V1208.44M581.50 1212.30V1206.39M582.50 1212.30V1208.13M583.50 1212.30V1208.46M584.50 1212.30V1209.23M585.50 1212.30V1208.36M586.50 1212.30V1207.53M587.50 1212.30V1206.46M588.50 1212.30V1206.71M589.50 1212.30V1203.78M590.50 1212.30V1205.81M591.50 1212.30V1208.88M592.50 1212.30V1207.38M593.50 1212.30V1208.73M594.50 1212.30V1205.96M595.50 1212.30V1208.89M596.50 1212.30V1208.92M597.50 1212.30V1208.50M598.50 1212.30V1207.09M599.50 1212.30V1209.63M600.50 1212.30V1208.10M601.50 1212.30V1206.31M602.50 1212.30V1207.56M603.50 1212.30V1206.76M604.50 1212.30V1204.55M605.50 1212.30V1206.75M606.50 1212.30V1206.81M607.50 1212.30V1208.30M608.50 1212.30V1205.61M609.50 1212.30V1206.15M610.50 1212.30V1209.71M611.50 1212.30V1207.23M612.50 1212.30V1206.28M613.50 1212.30V1207.03M614.50 1212.30V1204.09M615.50 1212.30V1208.50M616.50 1212.30V1207.85M617.50 1212.30V1208.32M618.50 1212.30V1203.23M619.50 1212.30V1208.21M620.50 1212.30V1205.83M621.50 1212.30V1207.02M622.50 1212.30V1208.32M623.50 1212.30V1205.73M624.50 1212.30V1206.80M625.50 1212.30V1208.23M626.50 1212.30V1208.78M627.50 1212.30V1207.47M628.50 1212.30V1209.18M629.50 1212.30V1206.42M630.50 1212.30V1205.51M631.50 1212.30V1207.35M632.50 1212.30V1208.09M633.50 1212.30V1210.73M637.50 1212.30V1211.82M641.50 1212.30V1211.70M644.50 1212.30V1211.79M645.50 1212.30V1209.58M646.50 1212.30V1211.73M647.50 1212.30V1211.66M652.50 1212.30V1211.69M653.50 1212.30V1211.76M657.50 1212.30V1211.78M659.50 1212.30V1211.42M665.50 1212.30V1211.62M669.50 1212.30V1211.35M671.50 1212.30V1211.84M673.50 1212.30V1211.72M682.50 1212.30V1211.43M683.50 1212.30V1210.69M684.50 1212.30V1210.51M685.50 1212.30V1210.08M686.50 1212.30V1210.13M687.50 1212.30V1210.98M688.50 1212.30V1210.04M689.50 1212.30V1210.56M690.50 1212.30V1209.40M691.50 1212.30V1210.42M692.50 1212.30V1209.41M693.50 1212.30V1209.69M694.50 1212.30V1209.58M695.50 1212.30V1211.34M696.50 1212.30V1209.63M697.50 1212.30V1208.94M698.50 1212.30V1208.97M699.50 1212.30V1209.11M700.50 1212.30V1211.33M701.50 1212.30V1209.79" stroke="#000" stroke-width="1" fill="none"/>
<line x1="552.70" y1="1212.70" x2="703.20" y2="1212.70" stroke="#000" stroke-width="1.0" stroke-linecap="butt" />
<path d="M552.50 1235.05V1234.61M553.50 1236.08V1235.60M554.50 1235.66V1235.03M555.50 1231.93V1230.26M558.50 1235.72V1235.12M561.50 1236.63V1234.25M562.50 1231.91V1230.52M563.50 1235.26V1233.98M564.50 1235.30V1233.05M565.50 1235.81V1235.00M566.50 1235.43V1234.59M569.50 1235.73V1235.27M570.50 1235.21V1234.69M571.50 1235.07V1230.56M572.50 1235.41V1234.93M573.50 1235.43V1234.37M574.50 1234.94V1229.80M575.50 1235.16V1234.11M577.50 1235.68V1234.50M578.50 1236.08V1235.47M581.50 1234.92V1234.43M582.50 1235.45V1231.34M583.50 1235.53V1231.19M584.50 1235.45V1230.09M585.50 1235.81V1235.34M586.50 1231.90V1229.33M587.50 1236.37V1234.84M588.50 1234.88V1229.86M589.50 1235.34V1233.76M590.50 1235.33V1234.90M591.50 1234.44V1232.86M592.50 1234.80V1234.34M593.50 1234.47V1233.99M594.50 1231.58V1229.59M595.50 1233.84V1232.99M596.50 1234.34V1230.47M597.50 1234.07V1230.45M598.50 1230.52V1229.33M599.50 1231.07V1223.80M600.50 1233.69V1231.74M601.50 1229.77V1228.83M602.50 1230.93V1229.40M603.50 1233.40V1229.63M604.50 1229.80V1227.67M605.50 1231.28V1229.37M606.50 1230.52V1224.04M607.50 1232.84V1228.92M608.50 1231.35V1230.42M609.50 1232.08V1229.21M610.50 1230.06V1229.25M611.50 1231.17V1228.17M612.50 1232.51V1220.91M613.50 1231.04V1220.38M614.50 1232.91V1231.43M615.50 1228.91V1222.55M616.50 1229.65V1227.72M617.50 1230.95V1225.52M618.50 1231.13V1228.79M619.50 1231.72V1229.49M620.50 1230.33V1221.02M621.50 1234.58V1232.99M622.50 1230.59V1229.76M623.50 1230.76V1228.12M624.50 1231.12V1228.46M625.50 1230.28V1220.86M626.50 1234.16V1225.86M627.50 1230.11V1224.53M628.50 1229.69V1227.69M629.50 1230.42V1228.89M630.50 1232.78V1230.62M631.50 1231.92V1229.69M632.50 1231.75V1230.77M633.50 1235.17V1231.62M634.50 1237.30V1234.66M637.50 1237.30V1236.30M639.50 1236.00V1232.80M640.50 1236.63V1232.51M641.50 1236.97V1236.31M642.50 1236.83V1235.55M646.50 1237.30V1236.42M647.50 1236.87V1236.19M649.50 1236.81V1236.33M650.50 1237.00V1236.36M653.50 1236.60V1235.92M654.50 1237.30V1236.32M655.50 1236.85V1233.87M656.50 1237.30V1236.61M659.50 1236.78V1236.03M661.50 1237.30V1236.47M663.50 1237.30V1236.85M664.50 1236.26V1234.22M665.50 1237.30V1236.64M668.50 1236.91V1236.39M670.50 1236.88V1236.31M672.50 1236.91V1236.33M673.50 1236.36V1234.30M675.50 1237.30V1236.70M677.50 1236.97V1236.11M678.50 1236.41V1235.96M679.50 1237.30V1236.68M680.50 1236.86V1236.39M681.50 1237.30V1236.80M683.50 1236.38V1233.36M684.50 1236.93V1236.46M688.50 1236.96V1232.81M690.50 1237.30V1236.14M691.50 1236.79V1236.35M693.50 1236.67V1235.97M696.50 1237.30V1236.31M697.50 1237.30V1235.79M698.50 1236.36V1235.82M700.50 1236.59V1236.04M701.50 1237.30V1236.67M612.50 1237.30V1218.30" stroke="#444" stroke-width="1" fill="none"/>
<path d="M552.50 1237.30V1235.05M553.50 1237.30V1236.08M554.50 1237.30V1235.66M555.50 1237.30V1231.93M556.50 1237.30V1235.77M557.50 1237.30V1235.39M558.50 1237.30V1235.72M559.50 1237.30V1235.93M560.50 1237.30V1236.48M561.50 1237.30V1236.63M562.50 1237.30V1231.91M563.50 1237.30V1235.26M564.50 1237.30V1235.30M565.50 1237.30V1235.81M566.50 1237.30V1235.43M567.50 1237.30V1235.14M568.50 1237.30V1236.19M569.50 1237.30V1235.73M570.50 1237.30V1235.21M571.50 1237.30V1235.07M572.50 1237.30V1235.41M573.50 1237.30V1235.43M574.50 1237.30V1234.94M575.50 1237.30V1235.16M576.50 1237.30V1235.29M577.50 1237.30V1235.68M578.50 1237.30V1236.08M579.50 1237.30V1234.92M580.50 1237.30V1235.19M581.50 1237.30V1234.92M582.50 1237.30V1235.45M583.50 1237.30V1235.53M584.50 1237.30V1235.45M585.50 1237.30V1235.81M586.50 1237.30V1231.90M587.50 1237.30V1236.37M588.50 1237.30V1234.88M589.50 1237.30V1235.34M590.50 1237.30V1235.33M591.50 1237.30V1234.44M592.50 1237.30V1234.80M593.50 1237.30V1234.47M594.50 1237.30V1231.58M595.50 1237.30V1233.84M596.50 1237.30V1234.34M597.50 1237.30V1234.07M598.50 1237.30V1230.52M599.50 1237.30V1231.07M600.50 1237.30V1233.69M601.50 1237.30V1229.77M602.50 1237.30V1230.93M603.50 1237.30V1233.40M604.50 1237.30V1229.80M605.50 1237.30V1231.28M606.50 1237.30V1230.52M607.50 1237.30V1232.84M608.50 1237.30V1231.35M609.50 1237.30V1232.08M610.50 1237.30V1230.06M611.50 1237.30V1231.17M612.50 1237.30V1232.51M613.50 1237.30V1231.04M614.50 1237.30V1232.91M615.50 1237.30V1228.91M616.50 1237.30V1229.65M617.50 1237.30V1230.95M618.50 1237.30V1231.13M619.50 1237.30V1231.72M620.50 1237.30V1230.33M621.50 1237.30V1234.58M622.50 1237.30V1230.59M623.50 1237.30V1230.76M624.50 1237.30V1231.12M625.50 1237.30V1230.28M626.50 1237.30V1234.16M627.50 1237.30V1230.11M628.50 1237.30V1229.69M629.50 1237.30V1230.42M630.50 1237.30V1232.78M631.50 1237.30V1231.92M632.50 1237.30V1231.75M633.50 1237.30V1235.17M639.50 1237.30V1236.00M640.50 1237.30V1236.63M642.50 1237.30V1236.83M644.50 1237.30V1236.39M647.50 1237.30V1236.87M648.50 1237.30V1236.62M649.50 1237.30V1236.81M651.50 1237.30V1236.38M653.50 1237.30V1236.60M655.50 1237.30V1236.85M659.50 1237.30V1236.78M660.50 1237.30V1236.47M662.50 1237.30V1236.74M664.50 1237.30V1236.26M669.50 1237.30V1236.74M670.50 1237.30V1236.88M671.50 1237.30V1236.73M673.50 1237.30V1236.36M676.50 1237.30V1236.47M678.50 1237.30V1236.41M680.50 1237.30V1236.86M682.50 1237.30V1236.47M683.50 1237.30V1236.38M685.50 1237.30V1236.58M687.50 1237.30V1236.30M691.50 1237.30V1236.79M693.50 1237.30V1236.67M694.50 1237.30V1236.36M695.50 1237.30V1236.73M698.50 1237.30V1236.36M699.50 1237.30V1236.34M700.50 1237.30V1236.59" stroke="#000" stroke-width="1" fill="none"/>
<line x1="552.70" y1="1237.70" x2="703.20" y2="1237.70" stroke="#000" stroke-width="1.0" stroke-linecap="butt" />
<line x1="0.00" y1="1162.60" x2="749.00" y2="1162.60" stroke="#999" stroke-width="1.5" stroke-linecap="butt" />
<path d="M124.50 1095.00 L124.50 1162.30" stroke="#e8141b" stroke-width="3.6" stroke-dasharray="3.5 3.05" fill="none"/>
<path d="M143.60 1162.30 L136.30 1239.00" stroke="#e8141b" stroke-width="3.6" stroke-dasharray="3.5 3.05" fill="none"/>
<path d="M221.50 1095.00 L279.10 1162.30" stroke="#e8141b" stroke-width="3.6" stroke-dasharray="3.5 3.05" fill="none"/>
<path d="M295.60 1162.30 L292.80 1239.00" stroke="#e8141b" stroke-width="3.6" stroke-dasharray="3.5 3.05" fill="none"/>
<path d="M465.40 1095.00 L465.40 1162.30" stroke="#e8141b" stroke-width="3.6" stroke-dasharray="3.5 3.05" fill="none"/>
<path d="M475.40 1162.30 L471.50 1239.00" stroke="#e8141b" stroke-width="3.6" stroke-dasharray="3.5 3.05" fill="none"/>
<path d="M560.60 1095.80 L617.30 1162.30" stroke="#e8141b" stroke-width="3.6" stroke-dasharray="3.5 3.05" fill="none"/>
<path d="M634.30 1162.30 L631.70 1239.00" stroke="#e8141b" stroke-width="3.6" stroke-dasharray="3.5 3.05" fill="none"/>
</svg></body></html>
